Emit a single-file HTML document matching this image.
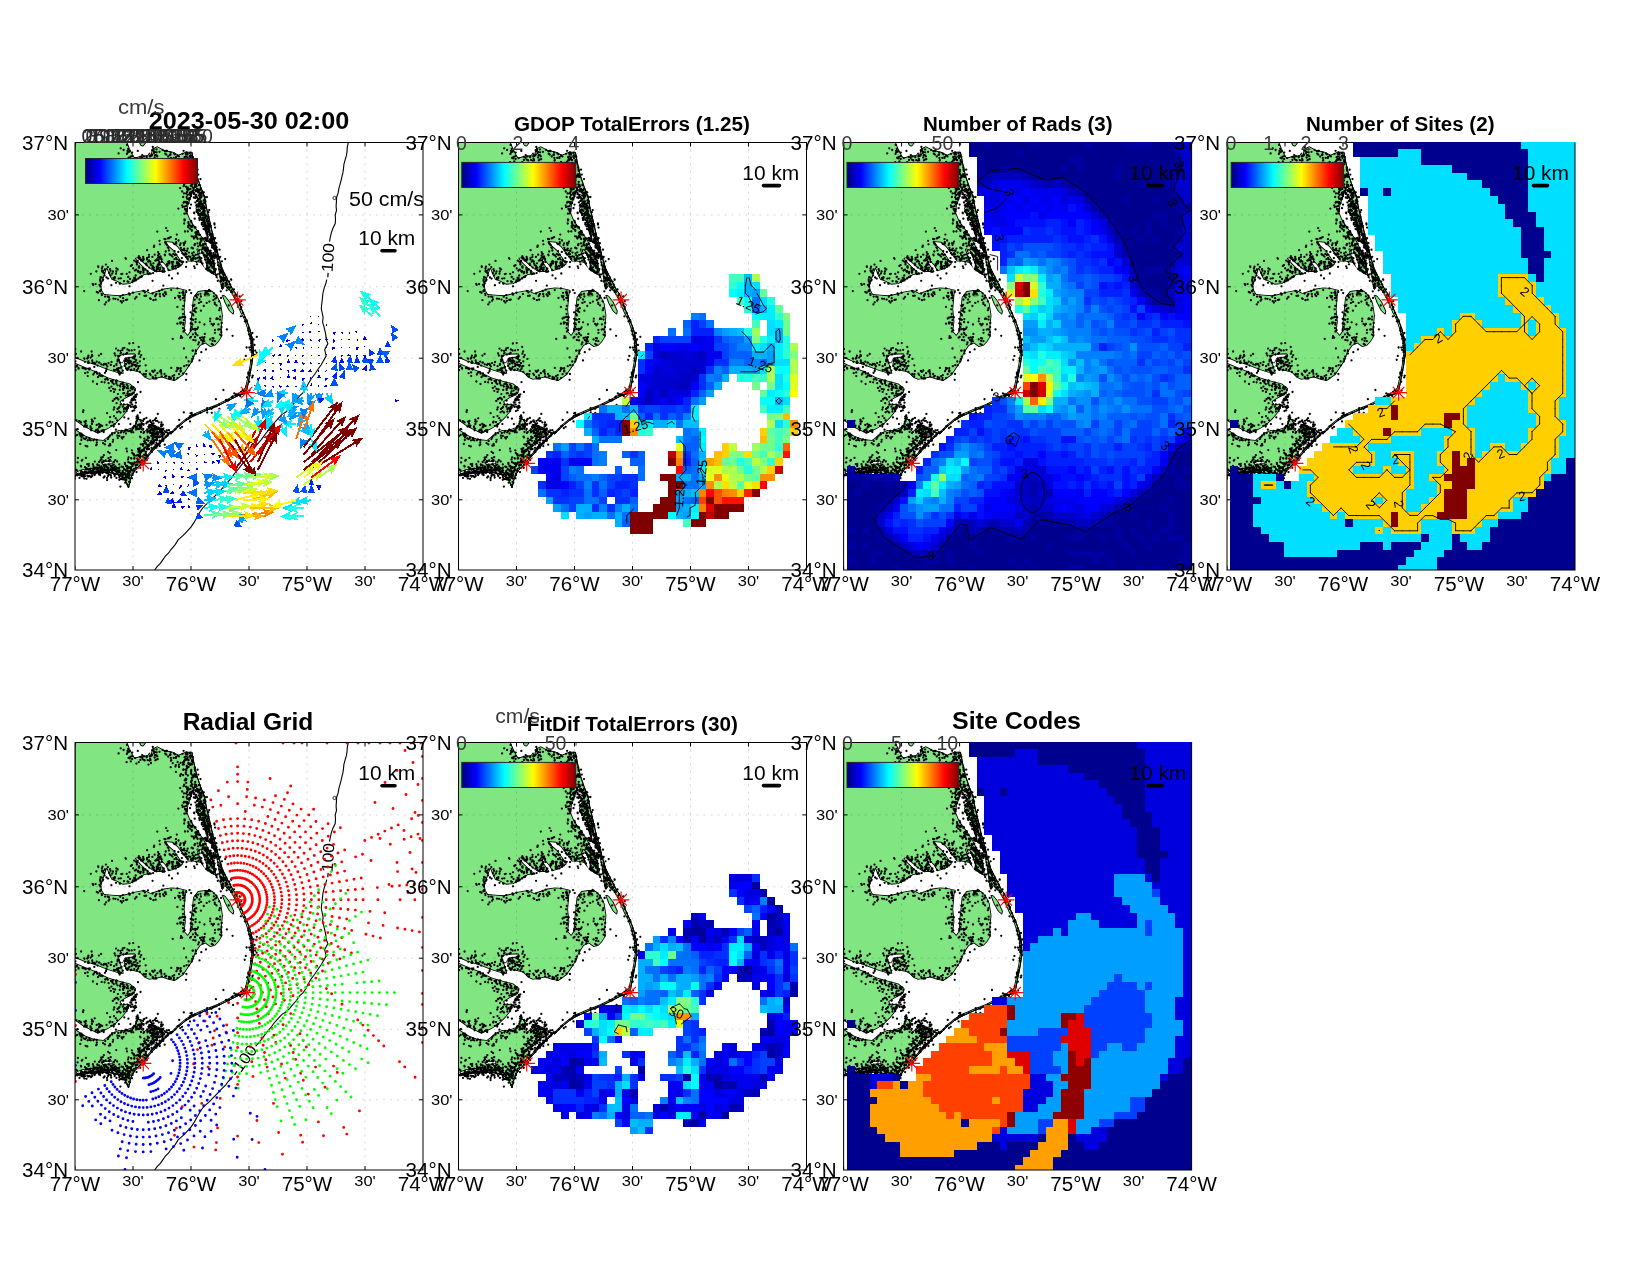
<!DOCTYPE html><html><head><meta charset="utf-8"><title>fig</title>
<style>html,body{margin:0;padding:0;background:#fff}svg{display:block;will-change:transform}text{font-family:"Liberation Sans",sans-serif}</style></head><body>
<svg width="1650" height="1275" viewBox="0 0 1650 1275" font-family="Liberation Sans, sans-serif">
<defs>
<clipPath id="clip"><rect x="0" y="0" width="348.0" height="427.5"/></clipPath>
<linearGradient id="jet" x1="0" x2="1" y1="0" y2="0"><stop offset="0.0000" stop-color="#000080"/><stop offset="0.0625" stop-color="#0000bf"/><stop offset="0.1250" stop-color="#0000ff"/><stop offset="0.1875" stop-color="#0040ff"/><stop offset="0.2500" stop-color="#0080ff"/><stop offset="0.3125" stop-color="#00bfff"/><stop offset="0.3750" stop-color="#00ffff"/><stop offset="0.4375" stop-color="#40ffbf"/><stop offset="0.5000" stop-color="#80ff80"/><stop offset="0.5625" stop-color="#bfff40"/><stop offset="0.6250" stop-color="#ffff00"/><stop offset="0.6875" stop-color="#ffbf00"/><stop offset="0.7500" stop-color="#ff8000"/><stop offset="0.8125" stop-color="#ff4000"/><stop offset="0.8750" stop-color="#ff0000"/><stop offset="0.9375" stop-color="#bf0000"/><stop offset="1.0000" stop-color="#800000"/></linearGradient>
<g id="coast"><path d="M0.0 0.0L51.8 -0.1L54.3 6.0L57.3 12.1L59.7 15.7L65.8 13.9L72.5 13.3L74.6 10.3L75.8 14.5L77.4 6.6L82.2 4.2L88.9 7.8L97.4 9.7L103.5 12.7L110.8 9.7L116.9 9.7L118.7 19.4L121.7 32.8L125.4 43.7L129.6 54.6L131.5 65.6L134.5 77.7L137.5 91.1L140.6 102.1L143.6 114.2L147.3 126.4L153.3 138.5L158.8 148.9L160.0 149.8L163.7 157.7L166.7 166.8L171.6 177.8L175.2 187.5L177.7 198.4L178.4 210.6L176.7 222.7L174.3 234.9L172.2 245.8L171.0 250.7L164.3 252.5L154.6 257.4L142.4 263.5L130.2 268.3L118.1 273.8L110.8 278.1L103.5 284.1L96.2 291.4L96.5 289.3L87.4 298.4L78.3 308.0L69.2 318.0L60.1 328.0L57.0 332.5L55.1 338.4L53.5 345.5L51.5 340.2L48.8 335.2L42.0 331.6L32.9 329.8L23.8 329.6L14.7 330.4L5.6 332.2L-0.0 333.4L0.0 337.0Z" fill="#81e681" stroke="#000" stroke-width="1" stroke-linejoin="round"/><path d="M119.9 44.9L118.1 48.6L116.3 54.6L113.2 63.2L112.6 70.4L115.0 76.5L118.1 81.4L124.2 89.9L129.0 97.2L132.7 104.5L136.3 111.8L138.7 119.1L140.6 126.4L141.2 132.5L145.4 141.0L144.2 132.5L143.0 122.7L140.6 113.0L137.5 103.3L135.1 94.8L132.7 87.5L129.0 82.6L126.6 76.5L121.7 70.4L120.5 65.6L124.2 60.7L125.4 55.9L122.9 48.6ZM31.8 126.4L34.2 132.5L36.6 137.3L41.5 139.1L47.6 142.2L54.9 141.6L62.2 137.3L69.4 132.5L76.7 131.2L81.6 129.4L88.9 129.4L93.8 128.8L101.1 126.4L108.4 121.5L113.2 119.1L118.1 119.1L125.4 120.3L130.2 126.4L136.3 131.2L140.6 133.1L145.4 141.0L147.3 147.7L149.9 143.7L156.0 149.8L160.9 159.5L165.5 170.5L169.4 177.8L173.0 188.7L175.5 199.6L176.4 210.6L174.7 222.7L172.3 234.9L170.1 245.2L163.3 250.5L154.6 255.3L142.4 261.4L130.2 266.3L118.1 271.6L110.8 275.9L103.5 282.0L96.2 289.2L95.1 288.4L86.5 297.0L77.4 306.6L72.0 312.5L69.2 305.7L73.8 303.9L77.4 302.0L80.1 298.4L82.9 294.8L87.4 291.1L91.0 288.4L88.3 286.6L83.8 284.8L78.3 282.0L72.0 281.1L75.6 283.0L73.8 285.7L69.2 288.4L66.5 286.6L67.4 282.0L65.6 276.6L62.0 276.6L59.2 283.9L54.7 285.7L49.2 287.5L43.8 287.5L37.4 290.2L32.9 293.9L28.3 297.5L19.2 296.6L10.1 293.0L-0.0 286.6L-0.0 278.0L8.3 283.9L22.9 291.3L32.9 286.6L40.1 282.0L46.5 275.7L51.0 270.2L54.7 263.9L52.9 261.1L47.4 262.0L45.6 259.3L51.0 255.7L56.5 253.0L62.0 249.3L60.9 268.9L53.6 264.1L56.1 258.0L59.7 251.9L60.9 245.8L54.9 241.0L45.1 238.5L33.0 234.9L20.8 228.8L8.7 224.0L0.1 220.3L0.1 215.4L8.7 219.1L20.8 222.7L33.0 227.6L45.1 231.3L48.8 231.3L46.3 222.7L43.3 215.4L47.6 212.4L59.7 211.8L60.3 213.6L50.0 215.4L48.8 221.5L51.2 227.6L57.3 228.2L64.6 230.0L69.4 234.9L74.3 237.3L81.6 236.1L86.5 234.9L93.8 237.3L99.8 238.5L108.4 232.5L113.2 225.2L118.1 217.9L120.5 210.6L125.4 203.3L130.2 200.9L135.1 204.5L140.0 203.3L143.6 199.6L147.3 193.6L146.7 185.1L147.9 172.9L146.0 160.7L142.4 153.4L137.5 148.6L130.2 147.4L122.9 148.6L118.1 154.7L116.9 166.8L115.6 179.0L115.0 188.7L112.6 192.3L109.6 188.7L110.8 179.0L109.6 166.8L110.8 152.2L112.0 147.4L103.5 145.5L96.2 144.9L88.9 146.1L81.6 148.6L75.5 150.4L69.4 147.4L59.7 149.2L51.2 151.6L45.1 152.8L36.6 152.2L29.3 151.6L26.9 147.4L26.3 142.5ZM91.3 99.6L97.4 100.2L102.3 104.5L107.1 110.6L113.2 119.1L108.4 121.5L103.5 114.2L98.6 107.5L93.8 103.3ZM60.9 116.0L62.8 115.7L70.7 122.7L76.7 127.6L81.6 129.4L76.7 131.2L69.4 125.2L64.6 120.3ZM82.2 116.0L84.0 115.7L90.1 122.7L93.8 128.8L91.3 129.4L87.1 123.3ZM122.3 106.9L125.4 107.5L129.0 114.2L131.5 122.7L130.2 126.4L126.6 119.1ZM2.0 329.8L7.4 327.5L19.2 326.4L28.3 326.1L28.3 328.0L19.2 328.4L7.4 329.8L2.9 331.6ZM27.4 319.8L36.5 318.9L37.0 320.7L27.9 321.6Z" fill="#fff" stroke="#000" stroke-width="1.7" stroke-linejoin="round"/><path d="M119.9 44.9L118.1 48.6L116.3 54.6L113.2 63.2L112.6 70.4L115.0 76.5L118.1 81.4L124.2 89.9L129.0 97.2L132.7 104.5L136.3 111.8L138.7 119.1L140.6 126.4L141.2 132.5L145.4 141.0L144.2 132.5L143.0 122.7L140.6 113.0L137.5 103.3L135.1 94.8L132.7 87.5L129.0 82.6L126.6 76.5L121.7 70.4L120.5 65.6L124.2 60.7L125.4 55.9L122.9 48.6ZM31.8 126.4L34.2 132.5L36.6 137.3L41.5 139.1L47.6 142.2L54.9 141.6L62.2 137.3L69.4 132.5L76.7 131.2L81.6 129.4L88.9 129.4L93.8 128.8L101.1 126.4L108.4 121.5L113.2 119.1L118.1 119.1L125.4 120.3L130.2 126.4L136.3 131.2L140.6 133.1L145.4 141.0L147.3 147.7L149.9 143.7L156.0 149.8L160.9 159.5L165.5 170.5L169.4 177.8L173.0 188.7L175.5 199.6L176.4 210.6L174.7 222.7L172.3 234.9L170.1 245.2L163.3 250.5L154.6 255.3L142.4 261.4L130.2 266.3L118.1 271.6L110.8 275.9L103.5 282.0L96.2 289.2L95.1 288.4L86.5 297.0L77.4 306.6L72.0 312.5L69.2 305.7L73.8 303.9L77.4 302.0L80.1 298.4L82.9 294.8L87.4 291.1L91.0 288.4L88.3 286.6L83.8 284.8L78.3 282.0L72.0 281.1L75.6 283.0L73.8 285.7L69.2 288.4L66.5 286.6L67.4 282.0L65.6 276.6L62.0 276.6L59.2 283.9L54.7 285.7L49.2 287.5L43.8 287.5L37.4 290.2L32.9 293.9L28.3 297.5L19.2 296.6L10.1 293.0L-0.0 286.6L-0.0 278.0L8.3 283.9L22.9 291.3L32.9 286.6L40.1 282.0L46.5 275.7L51.0 270.2L54.7 263.9L52.9 261.1L47.4 262.0L45.6 259.3L51.0 255.7L56.5 253.0L62.0 249.3L60.9 268.9L53.6 264.1L56.1 258.0L59.7 251.9L60.9 245.8L54.9 241.0L45.1 238.5L33.0 234.9L20.8 228.8L8.7 224.0L0.1 220.3L0.1 215.4L8.7 219.1L20.8 222.7L33.0 227.6L45.1 231.3L48.8 231.3L46.3 222.7L43.3 215.4L47.6 212.4L59.7 211.8L60.3 213.6L50.0 215.4L48.8 221.5L51.2 227.6L57.3 228.2L64.6 230.0L69.4 234.9L74.3 237.3L81.6 236.1L86.5 234.9L93.8 237.3L99.8 238.5L108.4 232.5L113.2 225.2L118.1 217.9L120.5 210.6L125.4 203.3L130.2 200.9L135.1 204.5L140.0 203.3L143.6 199.6L147.3 193.6L146.7 185.1L147.9 172.9L146.0 160.7L142.4 153.4L137.5 148.6L130.2 147.4L122.9 148.6L118.1 154.7L116.9 166.8L115.6 179.0L115.0 188.7L112.6 192.3L109.6 188.7L110.8 179.0L109.6 166.8L110.8 152.2L112.0 147.4L103.5 145.5L96.2 144.9L88.9 146.1L81.6 148.6L75.5 150.4L69.4 147.4L59.7 149.2L51.2 151.6L45.1 152.8L36.6 152.2L29.3 151.6L26.9 147.4L26.3 142.5ZM91.3 99.6L97.4 100.2L102.3 104.5L107.1 110.6L113.2 119.1L108.4 121.5L103.5 114.2L98.6 107.5L93.8 103.3ZM60.9 116.0L62.8 115.7L70.7 122.7L76.7 127.6L81.6 129.4L76.7 131.2L69.4 125.2L64.6 120.3ZM82.2 116.0L84.0 115.7L90.1 122.7L93.8 128.8L91.3 129.4L87.1 123.3ZM122.3 106.9L125.4 107.5L129.0 114.2L131.5 122.7L130.2 126.4L126.6 119.1ZM2.0 329.8L7.4 327.5L19.2 326.4L28.3 326.1L28.3 328.0L19.2 328.4L7.4 329.8L2.9 331.6ZM27.4 319.8L36.5 318.9L37.0 320.7L27.9 321.6Z" fill="#fff"/><path d="M147.3 152.8L149.9 153.4L154.6 159.5L158.8 168.6L158.2 171.7L154.6 168.6L150.3 160.7ZM64.6 0.2L70.7 0.2L68.2 3.6L65.8 3.0Z" fill="#81e681" stroke="#000" stroke-width="1" stroke-linejoin="round"/><path d="M129.0 151.3L133.9 151.0L134.5 153.2L129.6 153.4ZM43.3 213.6L48.8 211.8L59.7 211.6L60.3 214.2L50.0 215.4L47.6 220.3L45.1 220.3Z" fill="#fff" stroke="#000" stroke-width="0.8"/><path d="M116.9 9.7L118.7 19.4L121.7 32.8L125.4 43.7L129.6 54.6L131.5 65.6L134.5 77.7L137.5 91.1L140.6 102.1L143.6 114.2L147.3 126.4L153.3 138.5L158.8 148.9L160.0 149.8L163.7 157.7L166.7 166.8L171.6 177.8L175.2 187.5L177.7 198.4L178.4 210.6L176.7 222.7L174.3 234.9L172.2 245.8L171.0 250.7L164.3 252.5L154.6 257.4L142.4 263.5L130.2 268.3L118.1 273.8L110.8 278.1L103.5 284.1L96.2 291.4L96.5 289.3L87.4 298.4L78.3 308.0L69.2 318.0L60.1 328.0L57.0 332.5L55.1 338.4L53.5 345.5L51.5 340.2L48.8 335.2L42.0 331.6L32.9 329.8L23.8 329.6L14.7 330.4L5.6 332.2L-0.0 333.4" fill="none" stroke="#000" stroke-width="1.0" stroke-linejoin="round"/><path d="M137.0 129.9h0M143.2 115.7h0M133.7 120.1h0M139.1 123.3h0M130.2 108.0h0M123.6 60.8h0M119.1 70.2h0M147.4 130.8h0M146.0 124.7h0M123.5 72.5h0M127.1 77.6h0M135.4 113.8h0M134.2 87.8h0M133.6 78.4h0M140.0 127.8h0M142.9 119.9h0M145.2 138.9h0M128.1 71.4h0M135.0 110.4h0M107.2 62.9h0M112.8 88.9h0M134.3 121.2h0M147.2 143.6h0M117.9 45.1h0M114.8 46.7h0M134.8 128.0h0M133.2 115.6h0M115.2 83.1h0M113.9 55.8h0M137.1 96.0h0M125.2 47.3h0M103.4 66.1h0M117.4 84.2h0M119.7 85.2h0M131.9 85.7h0M136.7 119.3h0M122.5 100.9h0M143.1 122.7h0M126.7 62.4h0M112.7 59.8h0M130.6 101.5h0M122.6 96.5h0M129.3 96.1h0M137.4 91.4h0M130.2 75.4h0M132.7 97.9h0M130.7 101.1h0M116.4 51.2h0M113.4 79.7h0M123.8 48.3h0M120.5 85.0h0M123.1 70.3h0M134.5 117.6h0M139.3 103.1h0M129.4 107.2h0M116.2 84.0h0M127.9 64.8h0M135.3 113.9h0M111.1 67.5h0M111.9 49.9h0M136.4 112.9h0M133.7 83.3h0M149.4 135.4h0M112.1 61.4h0M123.3 90.0h0M111.2 68.7h0M109.1 59.3h0M140.3 127.9h0M125.1 100.8h0M117.6 83.0h0M136.9 115.0h0M144.6 131.1h0M126.5 53.4h0M126.5 52.1h0M111.1 50.9h0M111.7 59.5h0M142.0 109.7h0M146.4 138.5h0M110.0 59.3h0M109.5 78.1h0M116.0 78.5h0M127.4 71.8h0M142.3 112.2h0M134.2 119.2h0M113.2 84.7h0M111.3 70.9h0M129.4 60.7h0M139.5 107.0h0M137.2 97.2h0M132.4 115.1h0M134.3 85.3h0M141.7 113.8h0M115.0 65.7h0M116.7 87.3h0M112.7 45.0h0M129.1 112.4h0M113.5 81.1h0M131.5 106.0h0M128.8 105.8h0M129.4 70.4h0M139.5 82.0h0M138.9 106.0h0M127.6 96.0h0M116.8 88.3h0M131.2 89.6h0M121.6 91.9h0M129.0 76.1h0M115.9 50.7h0M112.1 46.4h0M110.0 89.0h0M145.5 122.4h0M142.6 131.9h0M138.6 123.3h0M109.8 77.5h0M128.8 49.8h0M109.4 64.1h0M123.1 88.7h0M138.3 118.1h0M130.7 72.6h0M133.6 86.3h0M133.4 111.2h0M126.3 52.2h0M125.5 59.9h0M127.6 66.2h0M129.1 67.8h0M119.6 94.9h0M137.8 124.7h0M114.9 52.2h0M146.6 129.7h0M113.9 57.1h0M123.8 67.1h0M138.4 120.5h0M137.5 125.0h0M112.8 46.3h0M144.7 124.2h0M144.2 127.1h0M131.5 109.3h0M125.8 50.5h0M132.2 117.1h0M125.5 96.7h0M109.4 76.8h0M112.0 68.6h0M127.8 103.1h0M109.0 50.9h0M108.2 54.5h0M133.2 107.4h0M124.0 108.3h0M149.3 131.8h0M136.5 122.0h0M143.9 114.7h0M140.8 126.7h0M137.5 102.4h0M123.6 64.1h0M147.5 129.1h0M133.3 80.7h0M107.6 64.5h0M148.8 135.8h0M144.2 126.6h0M123.7 67.8h0M136.1 116.1h0M150.2 116.6h0M120.9 48.8h0M146.1 135.3h0M116.0 53.7h0M148.7 133.1h0M121.6 89.4h0M121.8 67.8h0M130.6 106.0h0M147.9 130.0h0M125.3 74.5h0M138.2 102.2h0M139.8 115.6h0M110.1 67.0h0M124.9 68.4h0M139.1 129.9h0M146.6 127.4h0M122.7 115.3h0M145.3 121.0h0M114.8 86.2h0M126.1 98.3h0M128.9 53.2h0M114.9 55.5h0M125.9 96.2h0M146.4 129.9h0M133.3 82.6h0M131.6 107.1h0M110.0 66.5h0M125.1 102.5h0M113.5 60.7h0M139.0 122.0h0M112.0 66.7h0M132.2 83.8h0M108.6 60.2h0M136.9 97.7h0M109.2 81.0h0M124.7 60.6h0M121.6 89.4h0M135.7 129.0h0M115.7 43.2h0M121.5 91.4h0M119.8 84.3h0M112.2 56.3h0M138.6 129.1h0M31.6 282.4h0M133.4 118.5h0M42.6 217.4h0M173.3 231.6h0M27.3 287.8h0M57.2 256.2h0M44.4 213.5h0M41.3 128.9h0M167.8 247.6h0M26.7 151.3h0M31.5 222.4h0M150.1 137.4h0M143.7 186.8h0M153.0 258.2h0M158.1 262.5h0M87.3 288.5h0M116.8 184.6h0M74.1 131.4h0M3.4 225.4h0M90.7 294.3h0M36.0 238.5h0M118.3 172.9h0M64.9 229.6h0M29.9 230.3h0M102.3 225.4h0M103.3 153.3h0M151.9 186.9h0M20.0 229.5h0M35.5 128.3h0M38.7 282.2h0M11.9 283.1h0M39.0 249.4h0M54.4 218.0h0M107.4 150.2h0M106.4 180.1h0M18.8 231.2h0M53.0 248.9h0M78.4 235.9h0M171.6 205.0h0M151.1 257.5h0M42.0 269.8h0M25.3 148.8h0M63.5 136.0h0M37.1 291.0h0M131.9 267.4h0M49.4 205.3h0M51.0 225.9h0M12.9 214.8h0M16.9 281.5h0M139.0 150.8h0M171.1 244.0h0M21.8 149.5h0M78.5 288.9h0M59.8 137.3h0M59.8 247.5h0M56.5 223.7h0M69.9 149.9h0M45.3 244.1h0M121.1 152.6h0M123.9 160.4h0M33.6 240.7h0M53.8 253.0h0M141.4 176.6h0M22.6 289.8h0M8.1 269.5h0M19.5 220.3h0M140.9 256.7h0M64.7 284.2h0M2.5 286.6h0M28.5 222.4h0M109.0 155.4h0M108.3 163.4h0M102.4 164.4h0M123.0 152.2h0M114.5 147.6h0M57.9 245.7h0M49.6 223.4h0M151.2 140.9h0M58.8 254.4h0M177.7 233.2h0M120.9 211.1h0M38.0 128.9h0M21.8 299.8h0M144.3 167.7h0M24.5 230.9h0M115.3 273.7h0M139.8 198.7h0M126.3 197.5h0M39.0 227.5h0M39.6 210.9h0M45.9 290.0h0M65.3 214.6h0M45.8 135.8h0M23.3 124.6h0M60.6 284.4h0M44.7 247.4h0M116.5 116.6h0M12.7 233.6h0M66.0 289.5h0M61.0 254.3h0M48.4 212.0h0M24.4 220.2h0M51.2 266.6h0M81.7 286.2h0M96.2 147.6h0M138.2 129.8h0M117.7 117.5h0M46.0 230.1h0M148.6 137.3h0M9.4 279.1h0M72.3 302.7h0M109.9 174.3h0M42.8 295.6h0M136.6 181.4h0M48.0 246.5h0M109.6 187.7h0M92.2 123.3h0M132.6 124.6h0M37.8 258.4h0M75.6 232.6h0M153.7 162.9h0M74.8 231.2h0M8.8 295.9h0M25.7 139.5h0M45.3 154.2h0M142.8 138.3h0M147.3 145.7h0M176.4 203.2h0M63.0 239.7h0M25.6 134.7h0M145.0 177.1h0M175.8 193.0h0M44.1 229.5h0M37.0 118.4h0M146.1 155.5h0M140.3 156.2h0M63.0 306.5h0M65.9 278.2h0M19.4 296.9h0M134.1 147.4h0M41.5 237.9h0M29.5 132.9h0M13.3 226.1h0M56.2 260.1h0M29.9 301.9h0M127.7 198.5h0M84.2 285.8h0M21.7 282.5h0M143.2 187.1h0M14.2 227.1h0M105.4 157.1h0M57.2 262.1h0M17.7 141.4h0M131.7 160.4h0M46.7 295.0h0M7.5 225.6h0M83.3 301.3h0M41.4 222.4h0M38.8 241.6h0M36.4 283.3h0M50.9 216.5h0M109.1 154.9h0M52.3 227.4h0M69.1 306.9h0M118.2 115.4h0M56.7 207.9h0M68.4 148.4h0M70.4 312.7h0M65.5 283.7h0M65.8 134.6h0M120.6 153.3h0M63.1 226.0h0M119.2 123.8h0M12.6 229.9h0M34.6 280.1h0M45.5 208.3h0M146.3 193.0h0M57.3 257.9h0M68.6 231.7h0M176.1 218.3h0M41.6 260.7h0M104.5 150.3h0M82.2 303.1h0M22.1 231.2h0M55.8 218.9h0M156.8 254.7h0M51.8 245.5h0M30.9 122.1h0M56.3 289.8h0M13.8 220.4h0M51.6 226.3h0M60.8 222.6h0M105.4 181.0h0M154.2 257.3h0M26.4 288.5h0M117.4 182.1h0M122.5 192.8h0M127.8 200.9h0M33.7 294.9h0M72.4 303.7h0M161.6 159.9h0M90.2 234.0h0M12.3 303.9h0M157.0 254.9h0M22.6 223.1h0M31.1 159.8h0M105.0 153.7h0M64.6 209.0h0M42.4 293.2h0M132.2 270.0h0M5.6 293.4h0M56.2 227.2h0M41.2 255.5h0M32.1 270.7h0M125.1 195.5h0M10.1 296.7h0M33.9 154.7h0M26.9 126.0h0M77.3 228.5h0M58.3 289.8h0M159.3 153.3h0M141.0 132.5h0M24.1 284.9h0M139.9 190.3h0M61.9 227.6h0M57.9 215.4h0M45.7 158.7h0M87.1 147.2h0M80.2 284.1h0M54.2 252.8h0M78.9 293.0h0M45.7 225.2h0M169.9 178.8h0M85.1 153.8h0M44.8 243.1h0M61.9 278.4h0M105.5 122.9h0M45.5 270.0h0M38.1 297.3h0M40.4 213.0h0M18.1 279.0h0M156.3 147.8h0M146.5 184.6h0M138.8 264.6h0M45.5 211.1h0M109.4 158.1h0M102.5 226.9h0M59.6 257.1h0M105.8 195.4h0M151.5 141.3h0M50.9 157.4h0M165.9 173.8h0M54.3 251.7h0M11.6 284.6h0M91.0 151.7h0M28.5 130.2h0M127.1 194.8h0M56.6 221.2h0M129.4 182.0h0M108.2 119.3h0M58.0 256.4h0M118.4 197.5h0M145.4 134.2h0M117.0 177.2h0M17.6 220.0h0M72.3 288.7h0M82.2 289.5h0M21.8 301.9h0M16.1 287.8h0M22.0 241.5h0M105.7 225.7h0M15.5 284.0h0M54.3 224.5h0M21.1 302.8h0M86.4 231.3h0M16.9 213.5h0M20.6 141.6h0M41.0 206.1h0M98.7 125.7h0M160.8 252.9h0M98.9 235.5h0M73.0 147.9h0M63.9 286.1h0M147.8 140.8h0M125.9 168.2h0M47.8 152.6h0M80.2 287.1h0M117.5 176.9h0M56.8 251.9h0M55.4 281.6h0M61.9 284.6h0M84.5 127.7h0M52.9 265.5h0M76.2 298.7h0M114.1 222.8h0M2.4 215.6h0M39.5 256.3h0M64.8 223.3h0M130.1 152.0h0M145.8 148.8h0M13.1 220.4h0M116.7 219.0h0M46.7 288.4h0M51.0 211.3h0M-0.8 290.1h0M57.4 139.5h0M63.9 211.2h0M18.3 232.1h0M94.1 236.2h0M104.0 121.3h0M24.0 289.2h0M126.1 159.4h0M30.9 221.4h0M45.3 141.1h0M78.6 293.1h0M-2.0 215.8h0M48.2 250.8h0M75.1 156.0h0M102.5 235.6h0M37.6 240.2h0M75.7 156.4h0M54.1 220.9h0M23.1 150.2h0M97.3 125.5h0M46.3 131.6h0M52.9 264.4h0M4.6 291.1h0M39.6 256.8h0M48.6 242.1h0M117.4 171.3h0M43.4 257.0h0M0.9 211.3h0M58.0 150.3h0M24.0 220.2h0M41.0 131.2h0M79.8 283.8h0M28.1 300.7h0M51.7 265.8h0M175.2 227.7h0M145.0 192.1h0M81.1 275.7h0M47.3 296.1h0M48.6 294.3h0M99.2 232.6h0M80.7 157.2h0M162.7 157.8h0M108.1 171.3h0M52.3 266.0h0M108.9 206.0h0M122.0 121.8h0M76.7 290.4h0M58.2 257.6h0M34.3 245.5h0M30.1 154.1h0M120.9 208.8h0M164.3 252.5h0M139.0 181.5h0M38.7 284.0h0M74.1 306.5h0M13.7 226.4h0M105.3 180.0h0M119.5 162.3h0M65.5 249.5h0M26.7 239.4h0M68.5 282.3h0M28.2 128.4h0M45.7 262.1h0M116.2 150.6h0M144.9 165.7h0M100.6 123.5h0M24.5 142.5h0M129.8 191.4h0M43.8 265.4h0M57.9 150.1h0M53.6 220.4h0M52.6 139.0h0M131.0 206.9h0M59.6 265.6h0M109.8 175.2h0M111.4 231.5h0M23.0 234.7h0M6.5 295.0h0M49.3 274.9h0M-1.0 271.3h0M45.2 230.5h0M27.2 129.0h0M56.2 251.7h0M31.1 228.5h0M43.7 217.7h0M78.9 127.4h0M5.3 301.5h0M21.8 297.4h0M10.6 303.3h0M18.4 297.8h0M59.5 207.3h0M97.6 233.6h0M23.9 157.7h0M32.9 296.6h0M9.3 216.0h0M109.2 223.7h0M86.5 288.2h0M50.0 265.6h0M107.6 166.8h0M145.1 174.2h0M15.8 131.3h0M67.8 301.7h0M133.0 151.4h0M66.2 281.9h0M128.8 112.8h0M63.2 129.5h0M139.8 161.6h0M27.4 233.7h0M170.8 213.4h0M141.1 263.8h0M103.5 121.0h0M21.3 229.4h0M75.8 287.1h0M118.3 177.3h0M49.0 138.7h0M82.9 292.1h0M42.4 242.8h0M37.5 279.6h0M43.1 207.9h0M6.3 297.6h0M35.1 279.2h0M143.4 181.9h0M46.0 210.4h0M122.0 186.5h0M131.2 149.7h0M80.6 297.5h0M69.5 153.3h0M138.4 130.8h0M102.8 131.0h0M169.7 217.3h0M89.8 150.0h0M43.0 157.1h0M174.5 230.1h0M54.1 208.0h0M80.0 236.1h0M42.5 266.5h0M58.1 285.7h0M42.1 255.5h0M41.3 240.9h0M120.9 207.8h0M141.4 153.1h0M49.9 288.4h0M108.1 148.9h0M53.0 262.3h0M31.9 235.9h0M172.1 234.8h0M106.0 175.1h0M61.8 252.0h0M70.6 233.8h0M139.9 187.4h0M13.4 213.2h0M42.6 218.8h0M160.9 156.9h0M120.8 169.6h0M119.8 166.3h0M26.9 135.2h0M96.3 225.4h0M0.5 293.4h0M78.6 293.9h0M46.9 160.1h0M138.9 153.8h0M58.2 200.6h0M59.1 213.9h0M129.3 198.7h0M59.4 216.3h0M137.9 182.9h0M48.9 269.0h0M35.1 301.4h0M173.9 185.6h0M0.7 211.7h0M66.6 318.3h0M58.6 220.0h0M13.8 220.1h0M86.6 290.8h0M153.7 144.6h0M39.6 290.4h0M115.7 186.6h0M117.2 216.4h0M57.4 222.4h0M153.9 146.8h0M130.5 149.7h0M61.3 279.1h0M59.3 226.6h0M120.0 194.5h0M34.4 156.9h0M52.0 287.8h0M113.9 275.8h0M54.0 288.7h0M43.0 228.6h0M107.1 195.2h0M168.8 250.0h0M43.6 225.7h0M174.5 233.3h0M146.3 189.7h0M21.2 287.4h0M61.4 137.2h0M29.8 161.9h0M141.6 134.6h0M118.6 163.6h0M61.2 217.6h0M2.2 292.4h0M41.5 221.3h0M70.3 305.0h0M40.1 247.0h0M30.0 127.0h0M120.6 197.9h0M7.8 293.0h0M35.0 293.2h0M147.2 142.7h0M53.6 263.0h0M176.2 204.9h0M81.4 151.5h0M176.5 209.6h0M108.5 150.4h0M69.4 296.2h0M86.1 229.4h0M24.1 289.4h0M23.8 281.3h0M87.9 286.9h0M78.7 299.5h0M48.7 289.8h0M43.7 136.1h0M90.6 233.9h0M56.9 288.0h0M108.8 269.9h0M12.7 215.8h0M16.9 279.0h0M65.2 313.8h0M144.2 262.0h0M7.0 292.2h0M40.9 238.3h0M54.9 219.5h0M52.2 288.2h0M72.3 313.8h0M59.2 138.6h0M106.0 193.6h0M138.5 196.0h0M89.5 231.4h0M111.1 215.0h0M58.4 284.4h0M49.3 245.3h0M108.2 230.9h0M86.3 288.9h0M88.1 152.0h0M77.4 287.5h0M43.6 228.1h0M28.0 137.3h0M125.5 151.3h0M113.7 219.0h0M87.5 287.4h0M87.3 287.4h0M40.5 156.3h0M47.1 240.8h0M97.4 121.0h0M52.4 207.0h0M108.3 152.6h0M37.0 290.9h0M144.4 266.5h0M63.7 223.9h0M55.0 136.4h0M95.7 235.1h0M83.2 285.2h0M47.8 205.8h0M59.9 135.5h0M46.5 224.4h0M32.4 223.8h0M39.7 281.7h0M36.4 142.7h0M25.1 138.3h0M37.8 299.3h0M33.6 158.2h0M108.1 174.3h0M12.2 216.1h0M97.0 135.9h0M131.7 148.8h0M10.7 226.7h0M60.1 265.4h0M51.0 291.0h0M107.1 284.3h0M0.5 224.5h0M122.0 155.0h0M100.0 155.5h0M81.4 236.0h0M157.6 193.3h0M138.4 157.5h0M57.9 138.0h0M148.1 135.7h0M6.5 292.5h0M85.2 299.2h0M41.4 125.9h0M25.8 147.3h0M26.3 221.9h0M53.5 139.3h0M65.6 277.7h0M135.3 148.3h0M51.7 131.3h0M83.3 125.6h0M53.9 215.5h0M77.6 138.3h0M108.4 189.0h0M68.5 290.6h0M13.4 218.8h0M60.3 263.5h0M146.7 180.5h0M27.0 128.4h0M86.7 233.9h0M97.7 196.4h0M174.0 191.9h0M166.6 250.2h0M168.1 170.5h0M51.1 221.5h0M59.4 263.8h0M52.1 210.5h0M92.6 122.8h0M24.9 148.4h0M124.6 179.8h0M41.7 238.3h0M111.1 124.4h0M20.4 288.7h0M32.8 237.3h0M57.6 245.0h0M8.5 267.8h0M10.4 226.4h0M38.1 246.3h0M166.1 249.5h0M63.3 128.5h0M110.2 174.9h0M165.9 166.6h0M53.3 245.9h0M56.3 244.7h0M19.7 275.8h0M70.1 305.1h0M30.2 298.6h0M170.1 248.0h0M8.5 225.5h0M50.4 287.8h0M9.2 148.6h0M19.3 224.4h0M38.5 136.6h0M15.6 215.1h0M103.5 225.8h0M126.3 118.7h0M6.1 279.9h0M39.7 136.0h0M46.6 131.7h0M15.6 285.0h0M120.4 190.3h0M35.1 274.6h0M0.5 227.7h0M123.0 185.0h0M52.2 264.5h0M132.2 265.6h0M48.9 266.5h0M138.0 264.9h0M80.7 292.0h0M4.8 278.8h0M144.2 158.8h0M17.9 220.5h0M151.8 140.8h0M16.6 209.0h0M121.5 119.3h0M70.7 222.8h0M42.9 251.6h0M8.3 267.9h0M25.0 284.3h0M33.9 303.2h0M138.1 202.3h0M1.4 277.8h0M151.7 147.8h0M66.9 133.6h0M58.2 215.0h0M126.3 209.7h0M141.8 175.8h0M56.0 264.4h0M31.4 226.2h0M120.0 186.3h0M128.6 195.1h0M0.4 218.9h0M65.5 294.9h0M129.4 194.6h0M32.7 154.2h0M119.8 157.2h0M63.7 204.5h0M40.9 287.2h0M116.0 194.4h0M64.8 218.9h0M43.3 290.5h0M33.5 220.6h0M104.2 277.4h0M113.9 275.5h0M60.4 263.3h0M103.9 154.6h0M86.3 298.6h0M118.6 168.2h0M53.3 226.2h0M79.1 286.0h0M35.3 302.8h0M66.3 281.7h0M60.3 283.4h0M35.6 132.9h0M54.0 151.0h0M80.9 152.4h0M80.4 235.9h0M59.5 215.0h0M82.5 303.1h0M61.1 264.7h0M133.5 127.0h0M137.5 198.3h0M124.5 114.3h0M23.2 123.9h0M118.1 208.1h0M136.8 201.4h0M37.1 292.1h0M54.5 219.9h0M1.9 223.4h0M44.5 264.5h0M6.1 209.0h0M38.5 156.2h0M124.5 217.9h0M107.6 174.5h0M111.9 108.5h0M14.5 297.4h0M145.3 187.0h0M17.3 213.5h0M57.2 251.2h0M68.2 125.4h0M120.0 272.0h0M39.0 273.6h0M111.6 222.7h0M20.3 221.5h0M60.8 137.9h0M128.8 163.5h0M47.7 241.6h0M51.5 216.9h0M60.4 253.1h0M10.6 280.9h0M53.1 134.5h0M65.1 270.1h0M41.0 140.3h0M53.3 134.4h0M3.6 226.2h0M135.1 178.8h0M27.7 138.0h0M51.6 268.5h0M48.1 155.7h0M132.0 120.5h0M137.5 195.7h0M177.4 207.8h0M82.7 126.6h0M145.9 134.3h0M77.1 293.5h0M58.2 264.3h0M77.5 299.5h0M97.1 124.2h0M62.5 220.7h0M117.9 171.9h0M56.1 245.6h0M132.2 123.0h0M79.3 304.7h0M52.4 251.0h0M118.1 214.1h0M11.4 295.4h0M9.5 216.3h0M52.8 219.4h0M46.0 241.3h0M76.3 293.5h0M28.7 289.5h0M31.5 135.0h0M141.6 155.1h0M34.3 130.5h0M78.2 229.4h0M109.3 152.8h0M70.7 300.3h0M26.1 211.5h0M175.9 215.9h0M50.0 218.6h0M55.3 260.0h0M115.7 180.9h0M64.4 151.6h0M34.6 279.7h0M83.9 286.2h0M55.9 227.7h0M108.4 150.9h0M23.9 213.1h0M48.2 247.4h0M78.2 286.4h0M94.3 120.2h0M148.3 142.2h0M59.2 267.8h0M90.6 149.8h0M40.7 275.7h0M79.6 288.7h0M69.0 298.8h0M33.1 136.1h0M115.0 195.2h0M177.9 208.8h0M27.5 124.2h0M80.7 284.2h0M49.2 250.7h0M32.8 124.6h0M25.4 144.0h0M107.9 231.2h0M78.4 157.7h0M119.5 168.5h0M91.1 294.1h0M42.7 126.9h0M118.0 191.9h0M48.4 158.3h0M80.5 232.9h0M83.0 291.0h0M77.6 151.1h0M74.3 288.5h0M131.6 120.2h0M67.7 307.3h0M37.3 131.0h0M148.1 135.2h0M86.4 279.9h0M45.0 220.2h0M48.1 258.2h0M60.3 252.6h0M148.6 138.3h0M115.7 188.0h0M61.4 285.4h0M41.0 227.4h0M29.2 221.4h0M42.1 277.8h0M91.2 233.4h0M51.5 306.2h0M9.9 219.3h0M132.8 127.9h0M29.2 130.6h0M111.1 237.3h0M44.7 141.2h0M59.3 222.6h0M123.9 200.0h0M64.8 229.5h0M71.2 153.2h0M148.4 247.5h0M132.8 148.8h0M70.9 231.6h0M52.0 226.0h0M66.4 134.4h0M94.0 234.4h0M8.9 225.8h0M44.3 293.4h0M116.9 180.9h0M102.3 122.9h0M24.3 284.0h0M14.4 295.9h0M51.1 218.2h0M100.4 286.8h0M117.9 186.7h0M29.6 239.8h0M63.9 286.7h0M7.3 293.0h0M39.3 264.9h0M14.8 225.9h0M17.9 239.0h0M36.5 219.5h0M4.7 291.9h0M53.0 253.2h0M55.1 248.1h0M107.8 155.6h0M104.1 231.7h0M48.1 243.9h0M104.9 175.2h0M77.7 234.4h0M60.2 257.4h0M174.3 205.1h0M77.2 291.9h0M39.1 223.7h0M121.0 191.6h0M78.1 290.9h0M17.0 212.5h0M71.3 228.4h0M44.7 232.1h0M22.7 286.9h0M52.2 157.1h0M81.3 290.7h0M9.0 284.1h0M89.2 153.5h0M98.4 124.0h0M54.6 152.2h0M61.4 154.6h0M64.4 282.1h0M64.3 306.2h0M161.5 251.9h0M64.3 308.5h0M58.5 244.9h0M105.6 227.8h0M62.8 282.6h0M120.2 187.6h0M61.6 223.0h0M48.9 261.9h0M117.6 208.2h0M171.6 245.1h0M26.9 152.5h0M62.8 128.7h0M50.9 287.2h0M105.5 229.1h0M24.2 233.1h0M84.9 289.8h0M128.7 198.6h0M68.7 231.3h0M38.5 135.4h0M52.8 243.6h0M101.4 228.7h0M123.2 201.8h0M103.2 120.5h0M55.1 262.9h0M104.1 176.1h0M10.9 278.5h0M50.8 265.9h0M92.5 290.3h0M60.6 219.0h0M81.2 302.6h0M76.6 302.0h0M102.4 145.8h0M108.5 180.6h0M84.5 289.3h0M117.7 163.1h0M120.7 176.6h0M56.4 257.7h0M59.1 256.5h0M61.0 287.0h0M108.4 152.3h0M98.7 237.4h0M60.9 260.2h0M47.3 131.3h0M95.8 236.0h0M51.7 242.2h0M84.2 148.5h0M43.2 213.5h0M0.3 206.6h0M35.8 222.4h0M131.4 151.2h0M156.2 149.7h0M141.5 162.9h0M82.4 230.7h0M39.9 134.7h0M84.8 228.9h0M108.0 185.7h0M47.8 228.1h0M65.0 294.1h0M30.2 237.0h0M16.8 277.1h0M79.7 228.0h0M111.2 149.4h0M125.9 154.0h0M49.7 244.1h0M79.6 294.6h0M60.9 224.0h0M175.3 196.3h0M65.5 130.0h0M10.6 283.8h0M77.3 293.5h0M84.7 151.5h0M55.9 287.9h0M43.9 281.6h0M4.2 278.6h0M81.3 235.7h0M135.3 176.2h0M61.5 154.4h0M121.3 165.7h0M38.0 237.6h0M139.7 160.1h0M27.1 283.4h0M72.5 130.6h0M108.4 182.2h0M60.7 133.0h0M36.4 244.1h0M45.7 254.5h0M85.9 227.7h0M54.5 143.8h0M104.3 154.9h0M15.8 297.8h0M173.2 187.9h0M105.9 228.4h0M79.2 305.0h0M37.7 238.0h0M25.7 233.3h0M178.0 213.1h0M115.5 169.8h0M64.2 282.2h0M35.8 248.3h0M54.5 129.8h0M43.9 230.6h0M42.4 226.9h0M37.4 239.2h0M41.5 239.5h0M142.8 176.3h0M18.2 142.4h0M135.1 196.9h0M42.2 226.2h0M146.8 144.1h0M80.8 235.5h0M10.0 283.0h0M6.3 291.2h0M47.9 240.1h0M93.3 291.1h0M69.2 315.1h0M69.1 289.7h0M124.5 157.0h0M111.8 114.4h0M55.2 288.1h0M26.1 141.1h0M60.1 156.2h0M68.9 216.4h0M58.5 250.1h0M128.6 196.7h0M25.1 136.9h0M71.6 297.4h0M35.1 126.7h0M47.8 264.2h0M54.4 201.0h0M-3.1 276.6h0M173.3 230.1h0M60.2 222.4h0M38.7 267.1h0M103.9 283.3h0M23.0 288.3h0M174.5 248.1h0M16.6 286.1h0M134.4 159.1h0M28.7 287.7h0M59.8 254.6h0M157.4 149.6h0M25.5 282.3h0M68.9 232.0h0M146.9 142.7h0M81.7 117.9h0M10.1 230.7h0M43.9 268.8h0M102.5 283.9h0M62.1 286.5h0M12.6 297.8h0M50.8 253.1h0M57.8 286.1h0M47.4 207.6h0M66.2 212.6h0M53.2 217.9h0M157.6 253.8h0M21.7 219.2h0M102.4 181.2h0M134.7 148.3h0M21.4 128.9h0M115.7 176.3h0M120.5 179.5h0M59.9 213.8h0M17.2 218.0h0M108.9 177.7h0M56.8 307.8h0M80.2 153.7h0M57.3 246.8h0M108.5 112.0h0M105.0 102.6h0M108.5 100.6h0M99.5 116.7h0M94.2 95.5h0M111.0 114.2h0M100.9 96.7h0M110.4 99.1h0M106.9 115.6h0M94.6 111.7h0M101.9 120.7h0M91.1 85.6h0M89.5 96.5h0M105.8 105.3h0M113.8 113.9h0M95.7 94.6h0M110.1 111.7h0M92.8 104.8h0M111.6 119.6h0M79.2 103.5h0M105.6 100.9h0M101.8 92.1h0M90.7 109.0h0M82.3 89.1h0M90.2 99.7h0M109.7 100.7h0M109.2 106.1h0M84.9 101.8h0M104.4 118.5h0M101.2 99.7h0M103.5 98.0h0M90.0 112.8h0M99.9 112.6h0M93.1 95.9h0M115.4 114.6h0M101.3 112.1h0M111.3 108.2h0M101.2 101.1h0M98.4 111.4h0M103.6 124.3h0M96.5 112.9h0M90.5 99.7h0M106.2 108.1h0M93.9 108.0h0M115.2 114.3h0M108.9 102.5h0M106.8 119.7h0M118.8 109.8h0M106.3 107.4h0M84.5 98.3h0M107.8 107.5h0M114.0 110.1h0M112.7 106.1h0M118.0 105.9h0M112.8 116.4h0M90.6 101.0h0M106.5 119.0h0M111.4 111.7h0M102.2 119.6h0M98.8 101.1h0M101.2 115.3h0M101.9 116.9h0M97.5 114.1h0M103.6 122.8h0M107.3 110.7h0M98.2 119.4h0M104.1 117.7h0M100.8 125.9h0M117.8 112.8h0M90.5 96.7h0M103.3 109.4h0M99.6 108.6h0M99.7 101.7h0M91.9 102.4h0M93.4 105.6h0M92.5 88.3h0M94.9 112.2h0M110.5 110.7h0M68.3 115.8h0M67.8 125.6h0M68.5 128.4h0M62.7 118.3h0M63.5 129.0h0M74.0 112.3h0M72.0 115.5h0M63.8 114.0h0M57.0 122.7h0M72.1 107.7h0M63.7 124.5h0M64.0 113.8h0M70.3 127.0h0M64.1 125.2h0M55.8 123.5h0M72.0 116.9h0M58.2 125.8h0M66.1 117.1h0M59.9 128.0h0M74.1 117.9h0M72.4 128.4h0M68.4 130.2h0M66.7 117.7h0M77.4 125.7h0M78.1 130.6h0M63.9 116.0h0M59.2 118.1h0M71.7 122.7h0M87.5 128.4h0M78.9 125.2h0M50.5 115.6h0M65.8 129.3h0M75.7 131.2h0M61.9 122.0h0M73.2 131.6h0M68.5 117.2h0M68.1 127.5h0M79.7 128.3h0M65.3 130.8h0M67.8 118.3h0M68.1 114.4h0M61.9 119.5h0M61.3 127.1h0M62.0 120.4h0M76.3 122.7h0M64.8 115.5h0M85.0 127.2h0M81.7 124.1h0M77.7 123.7h0M66.1 117.9h0M75.6 121.3h0M71.2 121.1h0M59.1 135.4h0M81.3 128.8h0M65.2 134.7h0M77.4 114.4h0M87.6 127.8h0M60.8 119.1h0M74.2 125.1h0M78.4 120.8h0M81.7 126.8h0M73.2 119.2h0M68.7 116.8h0M50.9 116.3h0M64.0 124.0h0M83.1 109.6h0M82.9 122.1h0M87.7 129.3h0M94.0 132.9h0M84.6 119.7h0M93.3 119.2h0M75.4 119.2h0M83.8 117.5h0M88.4 126.0h0M89.8 112.2h0M83.8 120.8h0M83.8 122.2h0M83.1 113.1h0M82.8 124.4h0M81.1 117.6h0M86.9 119.4h0M84.2 111.4h0M79.2 103.2h0M83.1 122.6h0M83.1 115.1h0M97.6 122.3h0M94.4 120.2h0M91.9 122.0h0M89.3 129.2h0M81.5 127.6h0M84.5 122.1h0M83.7 111.3h0M81.8 124.9h0M73.9 114.6h0M96.9 119.3h0M94.4 118.7h0M86.6 117.1h0M82.5 123.7h0M92.5 121.1h0M88.8 126.1h0M93.5 127.5h0M84.4 115.0h0M79.7 112.2h0M80.3 118.1h0M103.3 123.6h0M78.9 104.4h0M85.4 125.2h0M94.3 121.1h0M88.3 143.2h0M85.5 114.0h0M86.3 115.9h0M131.8 109.0h0M128.3 110.9h0M119.6 102.1h0M122.7 111.9h0M137.4 125.2h0M119.0 113.9h0M109.2 107.9h0M120.0 101.4h0M118.1 116.5h0M127.3 109.9h0M134.8 118.0h0M127.5 121.0h0M120.7 112.3h0M132.1 112.9h0M120.7 116.0h0M135.8 128.4h0M125.8 119.3h0M126.9 110.3h0M134.0 111.3h0M130.6 108.4h0M126.4 115.6h0M134.2 108.3h0M124.6 110.8h0M116.6 118.1h0M130.0 117.1h0M134.4 124.9h0M130.7 112.8h0M120.1 116.1h0M116.1 116.8h0M123.2 103.8h0M131.9 114.4h0M131.3 126.7h0M119.8 125.6h0M119.6 102.7h0M132.4 118.8h0M133.7 111.5h0M124.4 115.0h0M129.7 114.5h0M135.0 118.2h0M117.5 117.4h0M118.9 96.0h0M132.8 115.3h0M117.0 110.8h0M116.7 105.2h0M20.0 330.5h0M15.6 326.1h0M17.0 329.1h0M24.1 322.9h0M2.6 319.9h0M6.1 324.1h0M22.3 322.0h0M37.3 325.2h0M21.5 324.8h0M9.6 329.1h0M2.9 315.4h0M29.5 326.8h0M27.0 320.1h0M25.0 325.5h0M3.9 331.4h0M6.8 318.2h0M11.9 326.5h0M22.7 322.7h0M18.4 323.7h0M30.7 317.8h0M1.0 327.1h0M1.9 327.8h0M34.4 318.9h0M13.7 321.5h0M11.2 325.6h0M7.3 317.4h0M13.7 323.5h0M12.2 321.7h0M3.6 331.5h0M17.9 321.7h0M29.6 324.9h0M5.9 323.3h0M10.0 324.7h0M31.3 327.1h0M18.2 325.8h0M20.6 329.5h0M24.7 325.0h0M26.3 324.0h0M14.3 326.7h0M10.9 315.4h0M15.2 329.5h0M28.9 322.9h0M2.4 331.6h0M17.7 329.9h0M41.3 307.6h0M34.6 310.6h0M34.4 321.9h0M35.7 314.7h0M33.1 309.3h0M28.8 312.7h0M29.4 327.4h0M25.5 317.9h0M35.0 317.3h0M33.8 327.7h0M44.3 321.9h0M40.3 317.7h0M33.7 318.3h0M42.2 319.0h0M34.2 328.6h0M26.1 315.1h0M41.3 326.7h0M25.8 326.0h0M24.1 319.5h0M27.7 314.7h0M35.7 327.7h0M31.1 323.2h0M28.4 319.5h0M33.4 315.7h0M39.0 319.4h0M37.4 322.9h0M33.6 321.9h0M19.8 319.1h0M35.7 326.6h0M26.5 316.8h0M35.8 323.6h0M28.5 318.4h0M28.5 327.9h0M171.9 179.0h0M26.8 329.8h0M136.8 270.3h0M132.8 76.1h0M75.9 308.8h0M2.6 331.9h0M41.9 330.5h0M169.2 174.6h0M10.7 330.8h0M122.6 27.2h0M65.3 325.3h0M127.3 49.2h0M162.4 157.6h0M145.1 129.5h0M166.0 164.3h0M134.2 67.6h0M130.0 54.6h0M140.1 95.7h0M176.4 196.1h0M54.8 339.9h0M173.8 188.8h0M117.0 272.4h0M52.6 342.3h0M66.1 319.3h0M177.2 234.9h0M69.0 312.3h0M115.2 273.7h0M111.1 277.5h0M115.0 278.9h0M116.7 270.5h0M145.2 114.3h0M177.4 190.5h0M115.9 13.0h0M87.2 296.7h0M129.2 60.1h0M16.4 331.1h0M156.2 137.3h0M70.8 315.9h0M180.2 208.2h0M178.6 197.0h0M146.3 126.9h0M25.3 330.3h0M125.6 46.2h0M117.1 18.9h0M168.9 248.8h0M123.3 32.1h0M177.5 205.2h0M150.0 137.1h0M137.3 99.5h0M119.1 272.7h0M93.9 287.7h0M136.5 266.3h0M164.7 162.6h0M15.4 330.0h0M171.5 177.7h0M71.6 317.7h0M76.8 309.5h0M119.9 31.9h0M139.4 81.0h0M179.5 202.5h0M63.4 320.6h0M152.6 142.2h0M4.5 335.4h0M134.1 83.9h0M123.8 42.7h0M133.3 69.7h0M174.2 239.2h0M145.9 124.7h0M176.9 198.5h0M121.3 34.4h0M35.9 333.0h0M119.7 25.0h0M57.5 331.1h0M159.6 154.5h0M140.5 109.2h0M176.2 200.7h0M81.4 305.2h0M97.3 289.4h0M166.3 158.7h0M181.6 210.2h0M123.6 47.5h0M95.4 290.2h0M164.7 153.9h0M170.6 250.3h0M154.2 139.1h0M139.4 104.2h0M113.7 17.6h0M156.1 136.9h0M131.9 54.6h0M135.4 83.2h0M87.1 298.2h0M156.3 149.1h0M125.5 270.3h0M135.1 265.7h0M161.0 251.9h0M31.6 328.1h0M130.5 58.9h0M134.4 88.2h0M57.6 332.6h0M120.1 28.3h0M165.3 253.5h0M119.0 33.6h0M29.9 327.6h0M64.4 319.3h0M159.3 250.9h0M166.3 164.7h0M172.7 250.2h0M19.6 326.9h0M155.2 142.1h0M125.4 54.4h0M36.2 335.0h0M160.6 151.8h0M115.6 270.8h0M162.7 252.5h0M175.2 193.6h0M175.2 207.4h0M117.7 273.2h0M67.9 322.1h0M24.5 328.9h0M125.5 36.6h0M15.9 329.3h0M151.8 138.5h0M95.8 290.8h0M119.9 26.8h0M151.1 142.3h0M61.0 325.3h0M176.5 194.7h0M181.8 194.3h0M159.0 146.9h0M10.9 329.7h0M46.8 330.8h0M117.0 17.7h0M145.9 128.1h0M50.2 340.2h0M133.7 81.4h0M55.4 329.2h0M134.7 89.8h0M119.2 33.8h0M128.9 58.1h0M76.6 307.6h0M135.4 83.5h0M177.2 210.1h0M105.3 285.6h0M179.6 212.3h0M18.1 329.0h0M129.4 65.3h0M85.0 300.9h0M45.7 5.8h0M91.3 8.5h0M72.6 17.6h0M82.3 13.9h0M75.1 16.2h0M91.3 12.1h0M95.8 15.4h0M48.6 7.5h0M82.7 16.7h0M74.4 18.1h0M71.7 14.8h0M76.7 13.1h0M52.1 2.4h0M79.6 15.0h0M84.5 9.3h0M96.3 17.7h0M87.6 7.4h0M100.9 15.4h0M57.1 16.5h0M69.0 13.9h0M102.6 13.2h0M78.5 8.5h0M55.8 18.9h0M78.6 6.6h0M81.4 17.1h0M77.3 12.1h0M77.8 7.3h0M54.5 8.6h0M115.0 10.8h0M91.9 8.5h0M43.6 10.9h0M61.4 21.1h0M81.6 12.9h0M74.7 13.7h0M55.7 14.1h0M69.0 17.3h0M89.7 8.6h0M81.5 6.9h0M81.6 9.8h0M81.0 12.7h0M72.3 -1.0h0M53.6 15.4h0M54.8 15.9h0M95.7 10.2h0M103.9 13.9h0M76.0 20.5h0M96.0 18.2h0M73.5 22.1h0M108.6 8.3h0M75.4 17.3h0M80.1 12.7h0M62.8 8.4h0M65.4 17.5h0M102.6 13.1h0M53.2 6.5h0M53.9 15.1h0M110.7 17.7h0M99.9 11.8h0M98.7 15.4h0M67.2 12.6h0M90.2 11.2h0M52.5 8.3h0M54.1 9.2h0M95.5 12.3h0M68.2 17.1h0M79.1 10.4h0M80.3 17.8h0M75.5 17.7h0M57.2 10.1h0M51.9 11.4h0M108.9 19.6h0M99.0 11.0h0M63.7 19.7h0M60.1 15.6h0M77.2 7.7h0M52.6 10.0h0M69.7 17.9h0M67.0 15.3h0M51.6 19.7h0M71.7 13.8h0M77.8 4.5h0M115.2 10.3h0M79.9 9.6h0M57.4 13.4h0M93.2 14.0h0M65.2 14.3h0M101.0 14.6h0M94.9 12.3h0M137.9 96.5h0M123.7 71.3h0M138.8 113.9h0M124.6 76.6h0M125.3 76.6h0M135.0 92.7h0M130.6 95.5h0M120.8 52.9h0M137.3 104.6h0M126.8 80.5h0M123.7 53.0h0M128.2 75.2h0M138.5 110.7h0M128.6 79.5h0M132.3 98.4h0M136.2 92.9h0M134.2 99.0h0M126.8 82.0h0M122.6 58.4h0M130.6 82.4h0M142.0 113.7h0M131.2 86.6h0M135.8 100.2h0M133.4 84.0h0M135.1 99.0h0M121.3 63.2h0M131.4 98.3h0M122.7 46.6h0M132.3 92.4h0M132.4 93.6h0M124.9 59.2h0M130.1 81.9h0M131.2 105.9h0M121.8 62.1h0M123.1 67.2h0M129.5 73.2h0M120.6 47.6h0M120.0 43.9h0M134.6 92.1h0M134.6 111.1h0M138.7 118.1h0M135.0 96.8h0M118.8 55.0h0M114.9 50.2h0M135.0 99.6h0M130.3 86.4h0M134.2 83.6h0M133.8 86.8h0M122.7 47.1h0M132.2 89.3h0M137.1 105.1h0M144.5 107.2h0M125.2 50.7h0M128.4 66.4h0M116.4 49.4h0M126.8 77.3h0M124.9 55.7h0M138.6 105.7h0M127.0 66.3h0M132.4 86.8h0M120.4 59.9h0M130.6 74.3h0M132.0 96.8h0M140.3 114.2h0M139.0 100.9h0M128.6 86.6h0M138.6 97.2h0M138.6 112.4h0M120.2 55.5h0M134.3 84.2h0M123.0 49.9h0M141.6 104.9h0M130.2 83.2h0M124.2 75.6h0M121.2 52.4h0M116.0 62.1h0M127.1 70.2h0M130.0 105.0h0M127.1 63.9h0M143.0 116.4h0M118.9 50.3h0M136.3 96.3h0M126.6 72.1h0M118.5 48.1h0M125.9 64.4h0M129.7 82.1h0M132.1 73.8h0M137.6 112.9h0M128.6 78.2h0M129.4 81.9h0M118.9 51.5h0M136.3 97.7h0M139.6 121.1h0M124.8 60.9h0M133.9 81.4h0M138.4 100.2h0M126.6 61.4h0M130.7 65.3h0M132.6 105.5h0M132.6 89.4h0M130.1 84.6h0M135.2 108.5h0M131.1 87.4h0M126.7 62.6h0M121.6 54.3h0M138.9 100.3h0M128.1 83.8h0M130.5 87.9h0M132.2 91.1h0M140.3 104.1h0M131.8 86.7h0M131.5 91.2h0M132.3 91.4h0M135.7 108.3h0M128.7 63.6h0M127.8 71.0h0M125.3 71.3h0M119.3 51.5h0M134.6 99.7h0M123.8 57.0h0M131.0 73.7h0M122.0 58.3h0M127.6 70.9h0M131.1 84.1h0M132.7 94.1h0M126.0 54.8h0M126.9 81.4h0M122.3 55.1h0M120.6 54.6h0M141.7 109.6h0M121.5 44.0h0M141.4 100.7h0M138.3 115.2h0M124.5 59.8h0M134.4 89.4h0M129.1 79.1h0M125.3 54.3h0M122.8 56.5h0M136.6 100.9h0M132.7 96.0h0M124.4 63.9h0M127.3 72.7h0M132.6 81.1h0M122.7 48.9h0M123.8 49.2h0M139.1 97.0h0M138.3 101.6h0M136.2 110.7h0M135.8 100.4h0M125.6 59.9h0M124.9 51.1h0M126.5 60.9h0M139.9 112.5h0M117.4 49.0h0M136.9 103.6h0M131.8 73.9h0M137.9 102.9h0M140.9 107.6h0M124.2 64.1h0M130.6 97.9h0M144.8 115.0h0M47.5 333.4h0M75.3 289.1h0M81.3 300.1h0M57.4 268.6h0M78.6 280.8h0M47.4 330.4h0M68.2 286.5h0M72.3 279.5h0M78.7 295.1h0M67.5 313.8h0M65.2 315.2h0M75.4 300.4h0M64.2 312.8h0M76.5 305.3h0M64.9 310.9h0M59.2 326.3h0M84.8 303.6h0M59.1 283.4h0M79.1 298.0h0M57.1 322.1h0M80.5 303.3h0M61.4 322.0h0M86.3 287.2h0M59.4 321.1h0M64.3 309.3h0M68.6 276.9h0M61.6 274.1h0M66.1 320.0h0M46.7 324.1h0M80.9 278.3h0M54.2 332.3h0M61.6 320.4h0M41.7 325.5h0M87.4 293.0h0M78.0 294.0h0M75.7 279.3h0M52.2 334.1h0M48.1 331.5h0M72.7 313.2h0M64.5 305.9h0M81.9 296.1h0M72.6 305.6h0M71.4 275.4h0M64.4 282.0h0M52.5 327.6h0M73.8 302.2h0M53.0 334.7h0M79.8 277.2h0M84.5 298.3h0M85.0 288.3h0M63.8 313.7h0M82.0 297.6h0M52.1 325.6h0M66.2 284.8h0M65.8 301.8h0M54.4 330.1h0M59.1 313.0h0M66.9 317.9h0M77.3 282.4h0M45.9 336.6h0M71.0 309.3h0M66.4 307.9h0M69.7 298.7h0M75.2 277.9h0M59.4 315.5h0M75.1 290.6h0M87.3 283.0h0M63.1 312.5h0M50.0 320.7h0M44.3 333.5h0M77.6 286.1h0M54.5 331.9h0M53.2 329.8h0M80.0 290.8h0M65.0 312.6h0M64.8 308.3h0M73.0 295.8h0M53.6 324.7h0M50.0 335.9h0M55.5 325.0h0M53.4 276.2h0M65.6 320.2h0M56.1 324.7h0M71.3 280.8h0M89.2 291.7h0M51.0 323.5h0M66.5 284.6h0M75.7 279.5h0M55.3 328.1h0M54.9 320.3h0M69.3 276.4h0M82.8 271.4h0M62.1 312.8h0M51.9 323.4h0M53.0 317.0h0M67.8 308.5h0M62.2 316.1h0M69.5 305.7h0M73.8 303.7h0M62.6 272.8h0M86.4 287.1h0M87.0 290.3h0M83.0 291.6h0M57.3 310.5h0M56.2 326.2h0M56.9 335.7h0M47.4 335.4h0M72.5 289.9h0M60.7 323.1h0M49.9 321.6h0M66.1 283.3h0M82.2 278.3h0M63.6 307.9h0M63.4 319.9h0M65.3 319.7h0M78.3 288.9h0M68.7 281.6h0M72.7 306.9h0M52.6 332.2h0M58.6 312.2h0M57.9 321.9h0M49.2 326.5h0M72.0 306.9h0M51.0 328.3h0M53.9 325.6h0M82.2 294.0h0M86.1 282.2h0M54.7 328.8h0M78.2 305.8h0M78.6 300.8h0M66.8 280.7h0M48.0 332.5h0M75.3 284.1h0M45.4 344.1h0M83.8 279.8h0M54.1 325.3h0M80.9 294.4h0M48.3 330.3h0M59.8 320.3h0M53.6 314.8h0M81.8 287.0h0M65.7 285.8h0M58.9 311.7h0M72.6 294.1h0M72.0 306.4h0M91.8 288.0h0M61.8 319.4h0M82.9 294.9h0M75.4 283.7h0M67.9 314.1h0M73.4 298.3h0M66.0 310.0h0M83.1 286.6h0M92.7 293.0h0M59.5 320.0h0M79.1 292.4h0M78.0 278.3h0M84.7 294.7h0M77.2 299.5h0M52.7 330.9h0M50.9 327.7h0M89.7 302.2h0M49.2 337.2h0M63.2 275.0h0M86.0 293.9h0M74.2 295.1h0M86.9 291.2h0M85.0 287.2h0M71.2 301.6h0M67.5 301.8h0M47.9 324.5h0M64.8 305.6h0M56.7 327.4h0M84.8 298.1h0M73.0 279.3h0M61.5 276.1h0M76.9 282.3h0M57.5 323.4h0M58.7 328.3h0M73.4 284.3h0M54.6 332.9h0M77.1 280.9h0M52.7 328.2h0M74.2 282.9h0M78.3 298.6h0M63.3 317.3h0M61.0 313.1h0M47.7 330.1h0M80.5 284.3h0M70.9 313.0h0M74.1 285.2h0M62.7 317.9h0M75.2 288.1h0M82.3 301.6h0M78.7 283.7h0M87.6 290.3h0M75.8 289.9h0M61.0 281.0h0M80.6 302.5h0M59.1 321.0h0M68.0 303.3h0M77.5 296.4h0M52.0 308.9h0M87.6 294.5h0M62.4 322.5h0M90.4 289.7h0M77.7 294.2h0M53.4 319.7h0M88.9 292.2h0M72.3 286.8h0M68.1 278.4h0M61.5 329.6h0M74.8 278.2h0M56.1 315.6h0M87.8 282.2h0M88.2 296.7h0M69.5 300.9h0M59.3 316.2h0M55.1 329.3h0M63.4 309.3h0M58.0 328.2h0M64.1 313.1h0M56.3 316.1h0M88.3 286.1h0M49.9 320.3h0M76.5 285.3h0M76.7 283.6h0M70.7 310.9h0M56.4 321.6h0M70.5 309.1h0M44.3 337.3h0M79.6 283.3h0M69.5 319.7h0M65.6 322.1h0M88.3 298.3h0M86.0 284.2h0M80.8 284.9h0M57.1 320.6h0M45.1 332.1h0M63.1 275.9h0M7.1 331.4h0M32.7 329.0h0M47.6 328.7h0M6.2 328.3h0M28.7 335.0h0M36.4 324.8h0M33.4 325.5h0M35.2 332.3h0M39.8 327.9h0M32.1 337.6h0M44.7 332.5h0M52.8 333.6h0M33.6 330.3h0M19.6 332.5h0M16.5 330.5h0M7.3 329.4h0M13.1 334.0h0M11.0 326.5h0M54.0 334.0h0M39.2 327.4h0M50.6 332.4h0M9.3 335.9h0M33.0 325.5h0M24.1 328.7h0M8.9 333.5h0M48.6 330.5h0M31.7 327.5h0M22.7 328.7h0M39.0 331.5h0M18.5 326.2h0M46.3 331.6h0M9.4 331.2h0M18.2 330.1h0M39.7 326.5h0M38.8 325.1h0M44.4 325.1h0M20.7 330.9h0M6.3 329.5h0M38.8 322.1h0M28.6 329.6h0M25.1 332.5h0M12.8 330.4h0M29.6 334.0h0M11.8 325.8h0M28.7 328.5h0M33.4 331.3h0M17.2 333.4h0M16.1 334.7h0M53.4 335.3h0M15.0 333.8h0M11.5 336.3h0M40.6 327.3h0M12.0 330.0h0M50.7 333.6h0M23.9 330.7h0M41.2 329.2h0M21.9 327.1h0M17.2 331.1h0M26.9 325.0h0M44.4 329.4h0M41.9 329.0h0M36.9 325.8h0M36.9 328.6h0M41.1 331.6h0M10.0 331.3h0M39.3 324.9h0M8.0 334.1h0M42.3 331.2h0M16.4 330.6h0M27.7 327.4h0M11.3 327.1h0M41.4 335.4h0M26.4 328.1h0M7.4 332.8h0M16.9 328.4h0M18.2 329.6h0M40.5 326.7h0M49.2 327.0h0M47.6 330.8h0M47.8 329.8h0M20.7 329.1h0M51.8 335.0h0M47.6 332.3h0M54.1 339.3h0M5.9 330.1h0M49.0 335.3h0M33.8 329.9h0M43.3 331.8h0M20.0 329.8h0M14.2 326.7h0M44.6 327.9h0M42.0 326.3h0M7.9 333.1h0M32.9 333.6h0M41.6 329.5h0M42.6 328.7h0M42.8 325.8h0M22.4 327.1h0M27.0 325.8h0M4.9 332.1h0M22.6 330.1h0M44.0 326.1h0M25.3 330.1h0M31.9 324.7h0M12.4 333.2h0M37.7 327.7h0M44.4 335.0h0M25.4 327.0h0M53.0 333.9h0M37.5 330.4h0M19.2 325.5h0M31.5 330.7h0M37.1 328.8h0M2.3 332.8h0M50.2 330.9h0M6.4 333.6h0M17.9 329.4h0M10.0 333.6h0M42.6 331.6h0M15.3 328.8h0M14.0 329.6h0M44.4 329.6h0M47.0 334.2h0M43.3 329.4h0M16.2 329.5h0M27.0 327.0h0M38.3 327.2h0M11.7 330.1h0M22.7 325.4h0M19.6 332.2h0M51.3 337.4h0M48.7 331.4h0M47.6 336.8h0M43.9 328.1h0M16.7 329.2h0M27.4 330.4h0M54.4 336.0h0M14.4 329.8h0M30.0 322.1h0M17.9 327.7h0M29.2 324.3h0M40.4 323.9h0M17.8 329.7h0M19.9 325.2h0M42.6 329.9h0M14.4 333.4h0M24.8 328.8h0M13.2 327.3h0M6.4 333.1h0M16.9 329.3h0M33.7 332.2h0M24.0 331.9h0M50.9 334.6h0M17.6 329.8h0M46.0 330.9h0M35.8 327.1h0M1.5 332.3h0M9.4 331.9h0M39.7 333.5h0M17.9 330.9h0M15.6 328.1h0M32.1 335.4h0M30.9 328.0h0M9.8 329.0h0M23.6 327.8h0M50.2 335.4h0M139.1 126.5h0M145.4 130.2h0M125.4 99.7h0M114.8 14.0h0M132.6 125.1h0M116.4 38.4h0M136.8 120.0h0M120.2 39.4h0M125.0 92.5h0M112.3 24.7h0M137.8 120.5h0M128.6 67.8h0M116.3 27.4h0M146.5 142.3h0M128.1 69.6h0M126.8 64.4h0M133.5 81.7h0M162.3 157.3h0M146.3 136.2h0M127.9 75.3h0M136.8 93.9h0M110.7 30.2h0M147.8 137.4h0M115.2 13.4h0M120.4 90.2h0M132.9 108.2h0M122.4 46.6h0M130.2 80.2h0M115.8 21.1h0M117.8 19.8h0M126.6 72.3h0M120.0 34.1h0M147.0 118.8h0M134.6 120.2h0M129.1 63.9h0M131.9 113.5h0M129.4 57.3h0M110.7 37.5h0M117.8 14.5h0M136.1 97.8h0M117.8 33.4h0M113.3 21.3h0M121.6 68.7h0M112.6 14.9h0M114.6 21.7h0M136.8 95.1h0M140.7 107.5h0M111.4 36.7h0M137.1 123.9h0M108.1 32.7h0M116.8 35.5h0M137.3 97.2h0M132.1 110.6h0M109.7 37.8h0M116.6 43.5h0M112.0 25.8h0M124.6 42.7h0M110.3 16.5h0M147.2 127.4h0M135.9 123.0h0M151.0 136.2h0M115.5 15.5h0M148.0 141.1h0M130.0 72.0h0M116.9 22.0h0M107.5 11.3h0M129.2 77.6h0M117.0 13.7h0M111.4 9.8h0M113.0 47.6h0M151.3 134.8h0M155.1 145.0h0M116.2 29.0h0M133.5 110.8h0M122.2 69.5h0M111.3 28.2h0M119.8 41.8h0M135.7 91.7h0M116.0 30.9h0M138.7 124.0h0M121.8 94.9h0M126.4 58.8h0M131.5 78.6h0M150.5 140.5h0M147.9 144.6h0M128.0 61.6h0M141.8 107.6h0M110.6 17.6h0M126.1 66.1h0M126.0 72.4h0M132.7 111.8h0M147.7 131.4h0M110.7 36.2h0M140.9 105.8h0M111.3 16.6h0M126.4 54.3h0M131.7 77.0h0M132.7 107.6h0M135.4 121.3h0M129.0 67.1h0M130.1 101.5h0M119.3 31.9h0M148.0 145.0h0M113.4 20.3h0M125.5 50.4h0M148.6 132.9h0M124.6 77.5h0M112.9 33.0h0M114.3 21.0h0M128.1 71.9h0M129.8 68.6h0M110.8 11.4h0M116.5 31.8h0M133.9 112.0h0M135.1 112.7h0M135.8 83.6h0M116.1 39.8h0M117.0 38.0h0M138.5 119.2h0M126.8 51.2h0M133.5 74.3h0M140.1 85.1h0M132.0 105.5h0M112.6 10.8h0M115.1 22.4h0M123.8 63.1h0M139.0 124.1h0M125.4 96.1h0M108.9 21.9h0M135.1 81.4h0M129.2 79.2h0M120.7 32.9h0M128.3 103.0h0M118.4 33.9h0M133.7 117.7h0M146.1 138.8h0M111.7 23.5h0M152.1 145.0h0M113.6 24.5h0M127.5 62.5h0M126.0 70.8h0M113.4 17.7h0M132.5 78.9h0M109.6 14.7h0M121.0 42.4h0M129.1 68.1h0M128.2 68.6h0M139.2 127.0h0M131.8 83.8h0M110.5 27.1h0M112.6 16.8h0M117.8 34.9h0M146.8 136.6h0M116.2 40.1h0M137.0 116.6h0M125.3 62.2h0M123.2 92.2h0M108.0 19.9h0M126.7 98.1h0M107.2 49.0h0M111.2 40.3h0M123.6 118.1h0M107.9 22.2h0M114.5 51.5h0M105.6 32.1h0M100.9 29.4h0M105.7 20.3h0M100.5 24.0h0M129.0 81.9h0M108.7 43.7h0M113.8 81.6h0M95.7 24.7h0M109.3 18.1h0M132.3 115.5h0M113.3 83.4h0M108.4 27.0h0M102.6 19.5h0M110.9 37.8h0M117.2 42.0h0M125.3 102.2h0M110.9 14.0h0M110.8 36.5h0M116.6 93.8h0M120.8 93.2h0M111.6 54.7h0M122.2 64.0h0M114.6 56.7h0M103.9 22.2h0M125.7 103.0h0M106.1 31.7h0M112.5 52.5h0M119.2 70.7h0M128.1 101.6h0M112.2 49.0h0M116.5 80.0h0M108.3 27.5h0M136.2 114.0h0M121.2 91.6h0M111.0 59.9h0M119.7 76.2h0M105.3 33.1h0M127.7 105.1h0M105.2 45.6h0M111.2 63.6h0M100.8 22.6h0M105.3 33.5h0M117.9 94.1h0M112.0 60.8h0M127.1 106.8h0M118.6 46.2h0M109.4 71.2h0M111.0 44.2h0M112.5 12.1h0M104.0 24.4h0M109.2 42.2h0M116.6 84.4h0M133.2 116.7h0M125.4 117.0h0M111.0 31.7h0M97.7 20.7h0M115.4 46.4h0M121.6 69.3h0M120.5 93.3h0" stroke="#000" stroke-width="2.3" stroke-linecap="round" fill="none"/></g>
</defs>
<rect width="1650" height="1275" fill="#fff"/>
<g transform="translate(75.0,142.5)">
<rect x="0" y="0" width="348.0" height="427.5" fill="#fff"/>
<g clip-path="url(#clip)">
<use href="#coast"/>
<path d="M58 0V427.5M116 0V427.5M174 0V427.5M232 0V427.5M290 0V427.5M0 72.4H348.0M0 144.3H348.0M0 215.7H348.0M0 286.8H348.0M0 357.3H348.0" stroke="#000" stroke-opacity="0.16" stroke-width="1" stroke-dasharray="2 5" fill="none"/>
<path d="M0 427.5v-4M0 0v4M58 427.5v-4M58 0v4M116 427.5v-4M116 0v4M174 427.5v-4M174 0v4M232 427.5v-4M232 0v4M290 427.5v-4M290 0v4M348 427.5v-4M348 0v4M0 72.4h4M348.0 72.4h-4M0 144.3h4M348.0 144.3h-4M0 215.7h4M348.0 215.7h-4M0 286.8h4M348.0 286.8h-4M0 357.3h4M348.0 357.3h-4" stroke="#000" stroke-width="1" fill="none"/>

<path d="M273.3 0.2L272.3 4.6L272.0 9.1L271.4 13.2L270.0 17.8L268.9 21.9L268.5 26.1L267.8 30.8L267.1 33.4L266.1 37.8L264.8 42.7L263.9 45.8L263.1 50.6L261.6 54.7L261.4 59.4L261.1 63.9L261.5 68.0L260.2 72.6L260.5 76.8L260.2 81.0L257.8 86.0L256.3 90.3L255.2 95.3L254.5 98.9L254.4 103.1L253.3 107.4L252.6 111.6L252.7 116.0L251.8 120.6L251.4 124.8L251.2 129.6L251.4 133.7L251.7 137.4L250.6 141.8L249.2 145.4L248.0 150.3L247.5 154.7L247.1 158.8L246.6 162.5L246.3 166.1L247.3 171.0L248.1 174.9L247.6 179.8L248.7 183.2L249.9 188.2L250.8 192.4L251.3 197.3L252.9 201.1L249.7 207.1L251.1 213.6L248.5 218.1L246.4 222.0L242.8 227.0L239.7 231.8L236.2 236.2L233.4 241.1L230.6 246.5L228.4 249.8L224.6 253.4L221.4 258.0L217.6 262.4L214.5 266.1L210.6 269.7L207.2 271.6L201.7 277.6L198.7 281.0L196.1 284.7L191.3 290.3L188.9 293.6L186.1 297.4L183.4 300.7L180.4 304.2L177.3 308.5L174.9 312.9L172.6 315.5L168.9 320.0L166.4 322.6L163.5 326.3L160.2 329.8L156.7 335.4L153.1 339.0L150.6 342.7L146.4 346.7L142.9 350.3L139.5 353.9L133.9 359.6L130.4 362.6L127.7 365.5L124.8 369.7L122.0 374.8L119.1 379.9L116.1 384.4L112.3 388.7L108.2 392.8L103.1 397.4L100.2 402.1L95.8 407.3L93.6 410.5L90.4 413.5L88.3 416.6L85.4 420.8L82.5 423.6L79.7 427.5" fill="none" stroke="#000" stroke-width="1.1"/><g transform="translate(252.5,118) rotate(-86)"><rect x="-19" y="-7.5" width="38" height="15" fill="#fff"/><text x="0" y="5.8" font-size="16" text-anchor="middle" fill="#000" textLength="35" lengthAdjust="spacingAndGlyphs">-100</text></g><circle cx="259.5" cy="55.5" r="1.6" fill="#fff" stroke="#000" stroke-width="0.8"/><g shape-rendering="crispEdges"><path fill="#0040ff" d="M270.2 226.6L264.1 220.5L263.6 229.1Z"/><path fill="#0000df" d="M251.0 241.7L248.2 244.4L252.2 244.7Z"/><path fill="#ffdf00" d="M167.7 366.4L185.3 363.5L184.4 367.2L195.0 360.9L182.9 358.3L185.0 361.6L167.4 364.4Z"/><path fill="#00ffff" d="M158.9 266.1L158.4 271.9L155.0 270.1L158.4 282.0L164.0 271.0L160.4 272.1L160.9 266.3Z"/><path fill="#00bfff" d="M197.3 265.6L195.3 268.2L193.4 264.9L189.9 276.7L200.5 270.4L196.8 269.5L198.9 266.8Z"/><path fill="#0000cf" d="M113.3 326.3L111.7 329.1L114.9 328.4Z"/><path fill="#0030ff" d="M315.9 204.7L312.7 197.7L309.5 204.7Z"/><path fill="#10ffef" d="M221.0 372.0L214.4 372.5L215.7 368.9L204.5 374.2L216.3 377.9L214.5 374.5L221.1 374.0Z"/><path fill="#0000bf" d="M235.5 204.4L235.6 206.7L237.2 205.1Z"/><path fill="#800000" d="M151.5 297.4L171.3 325.8L167.6 326.6L177.9 333.4L175.0 321.4L173.0 324.6L153.1 296.3Z"/><path fill="#0000ef" d="M291.7 197.0L289.8 192.9L287.9 197.0Z"/><path fill="#0040ff" d="M308.5 212.4L305.1 204.7L301.6 212.4Z"/><path fill="#008fff" d="M243.0 250.9L243.0 251.9L239.5 250.4L244.0 261.9L248.5 250.4L245.0 251.9L245.0 250.9Z"/><path fill="#ffef00" d="M136.3 282.2L148.5 294.3L145.0 295.7L156.3 300.6L151.3 289.3L149.9 292.8L137.7 280.8Z"/><path fill="#00bfff" d="M227.8 273.3L226.1 276.0L224.0 272.8L221.5 284.9L231.5 277.7L227.8 277.1L229.5 274.4Z"/><path fill="#00ffff" d="M305.7 165.4L301.1 161.4L304.5 159.7L292.9 155.6L298.7 166.6L299.8 162.9L304.4 166.9Z"/><path fill="#0010ff" d="M269.4 220.1L266.7 214.6L264.4 220.2Z"/><path fill="#009fff" d="M168.5 380.4L168.1 378.5L171.8 379.1L164.6 369.1L163.1 381.3L166.1 379.0L166.6 380.8Z"/><path fill="#0020ff" d="M261.9 236.6L261.6 229.7L256.6 234.5Z"/><path fill="#0050ff" d="M232.4 350.9L230.1 341.9L224.9 349.5Z"/><path fill="#0000ff" d="M82.3 352.3L88.1 352.8L84.7 348.2Z"/><path fill="#40ffbf" d="M152.4 336.0L160.9 335.0L159.8 338.6L170.7 332.8L158.8 329.7L160.7 333.0L152.2 334.0Z"/><path fill="#0000df" d="M196.6 213.0L199.3 215.8L199.6 211.9Z"/><path fill="#80ff80" d="M167.7 336.0L178.7 334.2L177.8 337.9L188.4 331.6L176.3 329.0L178.4 332.2L167.4 334.0Z"/><path fill="#0050ff" d="M263.1 243.3L259.5 234.6L255.4 243.1Z"/><path fill="#0000df" d="M197.5 233.9L194.5 236.8L198.7 237.1Z"/><path fill="#00009f" d="M251.4 188.8L250.4 189.8L251.8 189.9Z"/><path fill="#00bfff" d="M221.4 274.8L224.4 273.8L224.1 277.6L233.6 269.7L221.2 269.1L223.8 271.9L220.7 272.9Z"/><path fill="#800000" d="M229.4 312.8L254.1 283.7L255.8 287.2L259.9 275.5L249.0 281.3L252.6 282.4L227.9 311.5Z"/><path fill="#0000df" d="M227.1 234.9L227.4 239.1L230.3 236.1Z"/><path fill="#008fff" d="M214.0 190.1L214.7 189.5L215.8 193.2L221.7 182.3L210.0 186.3L213.4 188.0L212.8 188.6Z"/><path fill="#0080ff" d="M235.3 258.5L235.3 258.8L231.9 257.1L235.7 268.9L240.9 257.7L237.3 259.0L237.3 258.6Z"/><path fill="#0050ff" d="M323.6 187.4L316.2 182.1L317.1 191.2Z"/><path fill="#0000cf" d="M90.0 326.9L90.2 330.0L92.4 327.8Z"/><path fill="#0000bf" d="M237.5 243.2L236.3 240.5L235.1 243.2Z"/><path fill="#0000bf" d="M281.0 212.0L281.2 214.9L283.3 212.8Z"/><path fill="#00afff" d="M227.9 282.1L229.2 284.0L225.4 284.7L235.7 291.6L232.8 279.6L230.8 282.8L229.5 281.0Z"/><path fill="#0040ff" d="M299.2 217.1L290.6 216.2L295.7 223.2Z"/><path fill="#0060ff" d="M278.6 227.8L274.4 218.9L270.5 227.9Z"/><path fill="#0000af" d="M243.1 212.4L244.0 214.5L244.9 212.4Z"/><path fill="#008fff" d="M136.9 336.0L138.2 336.1L136.5 339.5L148.3 335.7L137.1 330.5L138.4 334.1L137.1 334.0Z"/><path fill="#0000ef" d="M107.4 367.0L110.0 363.3L105.5 363.8Z"/><path fill="#0000df" d="M257.6 196.4L257.9 200.7L260.9 197.6Z"/><path fill="#ff5000" d="M143.8 289.8L157.5 309.2L153.8 310.0L164.1 316.8L161.2 304.8L159.2 308.0L145.5 288.6Z"/><path fill="#ffdf00" d="M167.5 351.2L185.3 352.5L183.5 355.9L195.3 352.2L184.2 346.9L185.4 350.5L167.6 349.2Z"/><path fill="#cfff30" d="M160.1 351.2L174.3 348.9L173.4 352.6L184.0 346.4L172.0 343.7L174.0 347.0L159.8 349.2Z"/><path fill="#800000" d="M229.5 305.1L258.2 267.2L260.1 270.6L263.4 258.7L252.9 265.1L256.6 266.0L227.9 303.9Z"/><path fill="#0080ff" d="M91.6 311.2L91.3 311.1L94.1 308.5L81.8 307.7L90.3 316.7L90.5 312.9L90.7 313.0Z"/><path fill="#0000df" d="M221.0 233.7L217.1 235.5L221.0 237.3Z"/><path fill="#ff7000" d="M222.0 297.1L228.9 275.8L231.8 278.3L231.1 266.0L223.2 275.6L227.0 275.2L220.1 296.5Z"/><path fill="#8fff70" d="M136.4 274.7L146.5 281.5L143.3 283.5L155.3 286.2L148.3 276.1L147.6 279.8L137.6 273.0Z"/><path fill="#0000cf" d="M207.2 227.8L205.8 224.6L204.3 227.8Z"/><path fill="#008fff" d="M129.6 343.6L130.9 343.3L130.2 347.0L140.5 340.1L128.2 338.2L130.5 341.3L129.1 341.6Z"/><path fill="#800000" d="M236.8 328.2L280.4 301.1L280.9 304.9L288.3 295.0L276.2 297.3L279.3 299.4L235.8 326.5Z"/><path fill="#30ffcf" d="M298.1 173.1L292.0 167.7L295.4 166.1L283.8 161.9L289.5 172.9L290.7 169.2L296.8 174.6Z"/><path fill="#0000cf" d="M227.4 219.7L227.7 222.9L229.9 220.6Z"/><path fill="#0000df" d="M242.3 197.6L245.3 200.7L245.6 196.4Z"/><path fill="#0000ef" d="M228.0 195.3L224.8 198.4L229.3 198.8Z"/><path fill="#0000bf" d="M250.9 227.2L250.2 229.5L252.3 228.4Z"/><path fill="#0000af" d="M266.6 196.4L265.4 197.6L267.1 197.7Z"/><path fill="#cf0000" d="M168.4 312.6L182.5 286.8L184.8 289.8L186.4 277.6L176.9 285.5L180.7 285.9L166.7 311.6Z"/><path fill="#cfff30" d="M229.3 343.4L240.7 334.8L241.6 338.5L248.1 328.0L236.2 331.3L239.5 333.2L228.1 341.8Z"/><path fill="#0000bf" d="M113.4 341.6L111.9 344.2L114.8 343.6Z"/><path fill="#ffef00" d="M160.2 358.8L177.1 354.1L176.6 357.9L186.5 350.5L174.2 349.2L176.6 352.2L159.7 356.9Z"/><path fill="#008fff" d="M197.8 249.9L196.5 250.4L196.8 246.6L187.5 254.7L199.8 255.0L197.2 252.3L198.5 251.8Z"/><path fill="#00cfff" d="M144.7 343.6L148.8 343.2L147.7 346.8L158.7 341.2L146.8 337.9L148.6 341.2L144.5 341.6Z"/><path fill="#0000bf" d="M282.2 188.1L279.5 189.3L282.2 190.5Z"/><path fill="#0000cf" d="M82.4 318.8L81.5 322.2L84.6 320.6Z"/><path fill="#00cfff" d="M213.4 249.9L209.6 249.9L211.1 246.4L199.6 250.9L211.1 255.4L209.6 251.9L213.4 251.9Z"/><path fill="#0080ff" d="M129.6 335.9L130.0 335.8L129.5 339.6L139.4 332.3L127.1 330.9L129.5 333.9L129.1 334.0Z"/><path fill="#0000af" d="M274.5 204.1L273.1 204.7L274.5 205.4Z"/><path fill="#ffef00" d="M160.0 366.4L177.1 365.5L175.7 369.1L187.0 364.0L175.3 360.1L177.0 363.5L159.9 364.4Z"/><path fill="#9fff60" d="M160.0 343.6L172.8 343.2L171.4 346.7L182.8 341.8L171.1 337.7L172.7 341.2L159.9 341.6Z"/><path fill="#0000df" d="M228.1 226.3L225.4 229.0L229.2 229.3Z"/><path fill="#0000af" d="M250.9 219.9L251.0 221.8L252.3 220.4Z"/><path fill="#40ffbf" d="M129.5 374.0L137.8 373.1L136.7 376.7L147.6 370.9L135.7 367.8L137.6 371.1L129.2 372.0Z"/><path fill="#0020ff" d="M239.2 342.6L236.3 336.1L233.4 342.6Z"/><path fill="#0030ff" d="M104.9 352.9L112.3 353.6L108.0 347.6Z"/><path fill="#0000bf" d="M181.9 220.5L183.6 222.1L183.7 219.8Z"/><path fill="#ff8000" d="M167.7 374.0L189.8 371.6L188.7 375.2L199.6 369.5L187.7 366.3L189.6 369.6L167.5 372.0Z"/><path fill="#df0000" d="M176.0 320.3L193.4 297.5L195.3 300.8L198.7 289.0L188.1 295.4L191.8 296.3L174.4 319.1Z"/><path fill="#0000af" d="M290.6 204.7L289.8 203.0L289.0 204.7Z"/><path fill="#800000" d="M237.1 312.8L265.5 281.2L267.1 284.7L271.5 273.1L260.4 278.6L264.0 279.9L235.6 311.4Z"/><path fill="#0080ff" d="M98.7 303.5L98.5 303.5L99.7 299.9L88.6 305.3L100.4 308.9L98.6 305.5L98.9 305.5Z"/><path fill="#0000cf" d="M196.9 196.6L197.1 199.8L199.4 197.5Z"/><path fill="#0000df" d="M77.4 327.9L77.0 324.0L74.4 326.9Z"/><path fill="#0000cf" d="M219.8 205.2L222.0 207.4L222.2 204.3Z"/><path fill="#0000ef" d="M82.6 344.2L87.1 344.5L84.4 341.0Z"/><path fill="#0000df" d="M190.5 226.3L187.1 227.8L190.5 229.4Z"/><path fill="#0000af" d="M273.7 189.3L274.5 191.2L275.3 189.3Z"/><path fill="#0070ff" d="M121.7 330.6L112.1 335.0L121.7 339.3Z"/><path fill="#0000bf" d="M235.6 219.5L234.9 221.8L237.1 220.8Z"/><path fill="#0000df" d="M190.5 233.9L186.8 235.5L190.5 237.2Z"/><path fill="#00dfff" d="M221.0 364.4L216.3 364.5L217.7 361.0L206.3 365.6L217.8 370.0L216.3 366.5L221.1 366.4Z"/><path fill="#0000ef" d="M245.8 235.5L244.0 231.3L242.1 235.5Z"/><path fill="#00efff" d="M189.7 211.8L186.4 215.8L184.7 212.4L180.9 224.1L191.6 218.1L188.0 217.1L191.3 213.1Z"/><path fill="#cfff30" d="M221.6 335.8L233.6 327.3L234.4 331.0L241.1 320.6L229.1 323.7L232.4 325.6L220.5 334.2Z"/><path fill="#0030ff" d="M122.8 368.5L128.6 362.9L120.6 362.3Z"/><path fill="#0000ef" d="M182.8 241.3L178.7 243.2L182.8 245.0Z"/><path fill="#008fff" d="M213.6 267.2L214.7 266.9L214.1 270.7L224.2 263.6L212.0 261.9L214.2 265.0L213.2 265.2Z"/><path fill="#0000cf" d="M204.4 242.7L204.6 246.3L207.1 243.7Z"/><path fill="#0000cf" d="M113.8 351.7L117.4 350.8L114.4 348.7Z"/><path fill="#0080ff" d="M206.4 197.8L206.9 197.4L208.0 201.0L213.9 190.2L202.2 194.1L205.6 195.8L205.1 196.3Z"/><path fill="#0000df" d="M112.3 304.4L113.9 308.4L115.8 304.6Z"/><path fill="#60ff9f" d="M144.6 366.4L154.6 366.5L153.1 370.0L164.6 365.6L153.1 361.0L154.6 364.5L144.6 364.4Z"/><path fill="#ffbf00" d="M175.2 366.4L194.8 366.6L193.3 370.1L204.8 365.6L193.4 361.1L194.8 364.6L175.2 364.4Z"/><path fill="#00dfff" d="M228.5 356.8L223.9 357.7L224.8 354.0L214.3 360.6L226.4 362.8L224.3 359.7L228.9 358.8Z"/><path fill="#00efff" d="M235.3 281.5L235.2 286.6L231.8 285.1L236.0 296.6L240.8 285.2L237.2 286.7L237.3 281.5Z"/><path fill="#00efff" d="M204.9 282.0L207.1 286.8L203.3 286.9L212.3 295.4L211.5 283.0L208.9 285.9L206.7 281.1Z"/><path fill="#0050ff" d="M293.5 220.4L290.3 212.0L286.1 219.9Z"/><path fill="#00cfff" d="M229.7 250.9L229.7 247.0L233.2 248.5L228.7 237.0L224.2 248.5L227.7 247.0L227.7 250.9Z"/><path fill="#0000bf" d="M243.1 180.9L242.4 183.4L244.8 182.3Z"/><path fill="#0040ff" d="M94.6 350.2L91.2 342.6L87.7 350.2Z"/><path fill="#0000ef" d="M287.9 212.4L289.8 216.7L291.7 212.4Z"/><path fill="#10ffef" d="M220.6 257.7L214.9 260.5L214.6 256.7L206.4 265.9L218.7 264.8L215.8 262.3L221.5 259.4Z"/><path fill="#0000df" d="M142.9 312.2L144.9 316.0L146.4 312.0Z"/><path fill="#0000df" d="M204.0 220.1L205.8 224.1L207.5 220.1Z"/><path fill="#0080ff" d="M189.6 258.1L189.4 258.4L187.1 255.4L185.6 267.6L195.0 259.7L191.2 259.3L191.4 259.0Z"/><path fill="#0000bf" d="M98.0 320.4L100.2 321.5L99.6 319.1Z"/><path fill="#0000bf" d="M281.3 197.4L282.9 199.0L283.0 196.7Z"/><path fill="#cfff30" d="M152.4 366.4L167.1 365.0L166.0 368.7L177.0 363.1L165.1 359.7L167.0 363.0L152.2 364.4Z"/><path fill="#0040ff" d="M270.3 236.7L269.5 227.9L263.5 234.4Z"/><path fill="#30ffcf" d="M298.1 165.4L292.2 160.2L295.6 158.6L284.1 154.3L289.7 165.3L290.9 161.7L296.8 166.9Z"/><path fill="#0060ff" d="M314.8 208.9L304.8 207.9L310.7 216.0Z"/><path fill="#ffcf00" d="M128.7 282.2L142.2 295.4L138.6 296.8L150.0 301.6L144.9 290.4L143.5 293.9L130.1 280.8Z"/><path fill="#0000af" d="M266.3 204.3L265.8 206.0L267.4 205.2Z"/><path fill="#20ffdf" d="M228.6 364.4L221.2 364.8L222.5 361.2L211.3 366.3L223.0 370.2L221.3 366.8L228.7 366.4Z"/><path fill="#0000bf" d="M196.9 220.1L198.1 222.8L199.3 220.1Z"/><path fill="#0030ff" d="M300.2 210.8L293.9 206.2L294.6 214.1Z"/><path fill="#0000ef" d="M98.1 348.4L94.8 351.7L99.5 352.0Z"/><path fill="#0000bf" d="M235.4 234.7L234.6 237.5L237.2 236.3Z"/><path fill="#0000df" d="M136.8 321.4L140.6 320.1L137.2 318.1Z"/><path fill="#0000bf" d="M122.8 327.7L122.4 324.9L120.6 327.1Z"/><path fill="#0000df" d="M274.0 210.9L271.0 213.7L275.1 214.0Z"/><path fill="#efff10" d="M167.7 343.6L183.3 341.3L182.3 344.9L193.0 338.8L181.0 336.0L183.0 339.3L167.4 341.6Z"/><path fill="#60ff9f" d="M152.4 343.6L162.3 342.8L161.1 346.4L172.2 341.1L160.4 337.5L162.1 340.8L152.2 341.6Z"/><path fill="#0000bf" d="M105.8 320.7L108.6 321.1L107.1 318.8Z"/><path fill="#00cfff" d="M129.5 351.2L133.1 350.8L132.1 354.4L143.0 348.6L131.0 345.5L132.9 348.8L129.2 349.2Z"/><path fill="#00efff" d="M206.0 267.2L211.1 265.8L210.6 269.6L220.6 262.3L208.3 260.9L210.6 263.9L205.5 265.2Z"/><path fill="#0000bf" d="M114.0 333.9L111.8 335.1L114.1 336.0Z"/><path fill="#008fff" d="M213.5 274.9L214.8 274.8L213.5 278.4L224.7 273.2L213.0 269.4L214.7 272.8L213.3 272.9Z"/><path fill="#0000ef" d="M181.0 236.2L184.3 239.5L184.6 234.9Z"/><path fill="#0000bf" d="M235.9 195.9L233.9 197.9L236.7 198.1Z"/><path fill="#009fff" d="M189.5 265.9L189.0 267.6L186.1 265.1L186.9 277.5L194.7 267.8L190.9 268.2L191.4 266.5Z"/><path fill="#0000ef" d="M249.9 234.9L250.2 239.3L253.3 236.1Z"/><path fill="#df0000" d="M183.6 312.7L201.5 289.7L203.4 293.1L206.9 281.2L196.3 287.5L200.0 288.5L182.1 311.5Z"/><path fill="#0000ef" d="M215.3 235.5L213.4 231.3L211.5 235.5Z"/><path fill="#0000ef" d="M145.5 318.0L140.8 317.8L143.8 321.5Z"/><path fill="#0000cf" d="M219.8 243.2L221.0 245.9L222.3 243.2Z"/><path fill="#0080ff" d="M204.8 250.5L204.7 250.7L202.0 248.1L202.3 260.5L210.4 251.2L206.6 251.4L206.7 251.2Z"/><path fill="#ffbf00" d="M175.5 358.8L193.7 353.0L193.3 356.8L202.9 349.0L190.6 348.2L193.1 351.1L174.9 356.9Z"/><path fill="#009fff" d="M152.8 267.1L154.3 266.3L154.6 270.0L162.5 260.5L150.3 262.2L153.3 264.5L151.8 265.3Z"/><path fill="#0000df" d="M320.7 260.2L324.0 257.7L320.0 256.9Z"/><path fill="#0010ff" d="M241.3 342.6L244.0 348.5L246.6 342.6Z"/><path fill="#00009f" d="M251.6 211.9L250.4 212.4L251.6 213.0Z"/><path fill="#800000" d="M229.3 320.5L267.1 290.9L268.1 294.5L274.4 283.9L262.5 287.5L265.9 289.3L228.1 318.9Z"/><path fill="#00efff" d="M235.4 297.2L237.4 301.7L233.6 301.7L242.3 310.4L241.8 298.1L239.2 300.9L237.2 296.4Z"/><path fill="#0000cf" d="M196.8 227.8L198.1 230.9L199.5 227.8Z"/><path fill="#0000af" d="M244.8 189.3L244.0 187.4L243.1 189.3Z"/><path fill="#bfff40" d="M175.3 343.6L188.8 341.7L187.8 345.4L198.6 339.4L186.6 336.5L188.6 339.7L175.1 341.6Z"/><path fill="#0050ff" d="M323.6 195.2L316.2 189.9L317.1 198.9Z"/><path fill="#ffff00" d="M151.7 282.3L165.4 292.3L162.1 294.2L174.1 297.4L167.4 287.0L166.6 290.7L152.9 280.7Z"/><path fill="#00009f" d="M83.7 327.8L84.6 326.9L83.3 326.9Z"/><path fill="#8fff70" d="M152.5 351.2L164.3 348.3L163.7 352.0L173.7 344.9L161.5 343.3L163.8 346.3L152.0 349.2Z"/><path fill="#00ffff" d="M129.5 366.4L135.0 365.8L133.9 369.5L144.8 363.8L132.9 360.5L134.8 363.8L129.3 364.4Z"/><path fill="#efff10" d="M143.9 282.2L154.0 294.1L150.4 295.3L161.3 301.1L157.3 289.4L155.6 292.8L145.4 280.9Z"/><path fill="#efff10" d="M229.3 335.7L241.5 325.5L242.6 329.1L248.4 318.2L236.7 322.2L240.2 323.9L228.0 334.2Z"/><path fill="#0000bf" d="M206.7 235.5L205.8 233.5L204.8 235.5Z"/><path fill="#0000ff" d="M101.2 365.4L98.8 360.1L96.4 365.4Z"/><path fill="#008fff" d="M182.0 265.6L181.2 266.8L179.2 263.6L176.1 275.5L186.5 268.8L182.8 268.0L183.7 266.8Z"/><path fill="#0000cf" d="M115.4 357.4L113.2 354.9L112.8 358.2Z"/><path fill="#0000af" d="M236.3 173.1L234.6 173.9L236.3 174.7Z"/><path fill="#0000af" d="M130.0 312.6L130.4 310.7L128.8 311.6Z"/><path fill="#0000af" d="M274.5 196.4L273.1 197.0L274.5 197.7Z"/><path fill="#009fff" d="M235.4 250.5L234.7 252.5L231.9 249.8L232.2 262.2L240.4 252.9L236.6 253.1L237.3 251.2Z"/><path fill="#0000bf" d="M212.3 227.8L213.4 230.3L214.5 227.8Z"/><path fill="#0000bf" d="M242.8 220.1L244.0 222.6L245.1 220.1Z"/><path fill="#10ffef" d="M298.1 157.6L293.0 153.6L296.4 151.8L284.6 148.0L290.7 158.8L291.8 155.1L296.8 159.2Z"/><path fill="#0070ff" d="M105.6 307.7L96.7 314.0L107.3 316.5Z"/><path fill="#00ffff" d="M166.8 265.6L163.2 270.2L161.4 266.9L157.9 278.7L168.5 272.4L164.8 271.4L168.4 266.8Z"/><path fill="#0080ff" d="M99.3 311.2L98.6 310.9L101.5 308.4L89.3 307.1L97.4 316.4L97.7 312.6L98.3 313.0Z"/><path fill="#00dfff" d="M204.8 258.7L205.2 262.8L201.6 261.7L207.3 272.6L210.5 260.7L207.2 262.6L206.8 258.4Z"/><path fill="#0020ff" d="M105.5 355.2L100.5 360.0L107.4 360.5Z"/><path fill="#9fff60" d="M144.8 374.0L157.5 372.4L156.5 376.1L167.3 370.2L155.4 367.1L157.3 370.4L144.5 372.0Z"/><path fill="#30ffcf" d="M137.1 358.8L145.2 357.7L144.2 361.4L155.0 355.4L143.0 352.5L145.0 355.7L136.9 356.8Z"/><path fill="#800000" d="M229.3 328.2L261.4 303.5L262.4 307.2L268.7 296.6L256.9 300.0L260.2 301.9L228.1 326.6Z"/><path fill="#00dfff" d="M197.8 280.6L193.7 281.8L194.2 278.0L184.4 285.5L196.7 286.6L194.3 283.7L198.4 282.5Z"/><path fill="#00efff" d="M182.9 257.5L178.0 257.2L179.7 253.8L167.9 257.3L179.0 262.8L177.8 259.1L182.8 259.5Z"/><path fill="#0000cf" d="M265.7 212.0L265.9 215.1L268.1 212.9Z"/><path fill="#0000df" d="M108.0 327.2L106.1 323.8L104.8 327.5Z"/><path fill="#bfff40" d="M151.6 274.6L162.2 283.7L158.8 285.4L170.5 289.5L164.7 278.6L163.5 282.2L152.9 273.1Z"/><path fill="#0000cf" d="M120.4 311.8L120.9 315.1L123.0 312.4Z"/><path fill="#0000af" d="M227.8 243.2L228.7 245.1L229.6 243.2Z"/><path fill="#0050ff" d="M262.8 228.9L261.6 219.9L255.7 226.8Z"/><path fill="#00ffff" d="M197.5 204.0L192.8 207.9L191.7 204.3L185.8 215.1L197.5 211.2L194.1 209.5L198.8 205.5Z"/><path fill="#00efff" d="M221.1 280.5L216.2 280.3L217.9 276.9L206.2 280.9L217.5 285.9L216.1 282.3L221.0 282.5Z"/><path fill="#ff7000" d="M229.6 289.5L236.6 268.2L239.4 270.7L238.7 258.4L230.9 267.9L234.7 267.6L227.7 288.9Z"/><path fill="#0000af" d="M121.7 319.1L120.3 319.8L121.8 320.4Z"/><path fill="#ffaf00" d="M151.5 289.8L164.1 305.7L160.4 306.7L171.0 313.0L167.4 301.2L165.6 304.5L153.1 288.6Z"/><path fill="#0000ef" d="M221.0 225.9L216.8 227.8L221.0 229.7Z"/><path fill="#00009f" d="M191.0 220.1L190.5 219.0L190.0 220.1Z"/><path fill="#20ffdf" d="M228.6 372.0L221.2 372.9L222.3 369.2L211.4 375.1L223.3 378.2L221.4 374.9L228.8 374.0Z"/><path fill="#0070ff" d="M121.7 345.8L111.8 350.2L121.7 354.7Z"/><path fill="#ffaf00" d="M159.9 374.0L180.3 374.4L178.7 377.9L190.3 373.6L178.9 368.9L180.3 372.4L159.9 372.0Z"/><path fill="#0000af" d="M99.3 326.7L97.3 326.2L98.3 328.0Z"/><path fill="#0010ff" d="M97.9 355.3L93.1 359.9L99.7 360.4Z"/><path fill="#0040ff" d="M89.5 360.8L97.7 361.6L92.9 354.9Z"/><path fill="#0080ff" d="M227.7 266.2L227.7 266.5L224.2 265.0L228.6 276.5L233.2 265.1L229.7 266.5L229.7 266.2Z"/><path fill="#0000df" d="M91.2 333.2L87.3 334.8L91.1 336.7Z"/><path fill="#0060ff" d="M120.3 361.7L130.3 361.0L123.1 353.9Z"/><path fill="#ff7000" d="M136.2 297.4L148.8 316.3L145.1 317.0L155.2 324.1L152.6 312.0L150.5 315.2L137.8 296.3Z"/><path fill="#ffff00" d="M220.8 356.8L204.7 361.2L205.3 357.4L195.3 364.7L207.6 366.1L205.2 363.1L221.3 358.8Z"/><path fill="#0000df" d="M107.2 336.3L109.4 333.3L105.7 333.6Z"/><path fill="#0000df" d="M207.4 204.7L205.8 201.0L204.1 204.7Z"/><path fill="#00bfff" d="M129.5 358.8L132.9 358.2L132.1 361.9L142.5 355.3L130.4 353.0L132.5 356.2L129.2 356.8Z"/><path fill="#0000bf" d="M227.8 211.7L227.1 214.4L229.6 213.2Z"/><path fill="#ffdf00" d="M182.4 211.5L165.8 218.6L165.8 214.8L157.0 223.4L169.3 223.1L166.6 220.4L183.2 213.4Z"/><path fill="#009fff" d="M228.6 257.5L227.0 257.6L228.3 254.1L217.0 259.0L228.7 263.0L227.1 259.6L228.7 259.5Z"/><path fill="#9f0000" d="M160.7 327.9L179.0 301.9L181.0 305.2L183.9 293.2L173.6 300.0L177.3 300.8L159.1 326.8Z"/><path fill="#0080ff" d="M214.0 205.5L214.4 205.2L215.5 208.9L221.4 198.0L209.7 202.0L213.1 203.7L212.8 204.0Z"/><path fill="#0020ff" d="M245.3 261.1L249.7 255.6L242.6 256.0Z"/><path fill="#0000ef" d="M104.8 341.6L104.3 346.2L108.1 343.6Z"/><path fill="#0000df" d="M138.0 313.6L140.4 310.0L136.0 310.6Z"/><path fill="#afff50" d="M144.1 274.7L155.0 281.8L151.8 283.9L163.9 286.4L156.7 276.4L156.1 280.1L145.2 273.0Z"/><path fill="#cfff30" d="M166.9 274.6L177.9 284.0L174.5 285.7L186.1 289.8L180.3 278.9L179.2 282.5L168.2 273.1Z"/><path fill="#00cfff" d="M137.1 343.6L141.2 343.1L140.2 346.8L151.1 340.9L139.1 337.8L141.0 341.1L136.9 341.6Z"/><path fill="#00efff" d="M144.7 336.0L149.6 335.8L148.2 339.3L159.5 334.3L147.8 330.3L149.5 333.8L144.6 334.0Z"/><path fill="#00009f" d="M243.6 173.5L243.2 174.8L244.4 174.2Z"/><path fill="#800000" d="M244.7 312.8L278.5 279.5L279.8 283.1L284.9 271.8L273.5 276.7L277.0 278.1L243.3 311.4Z"/><path fill="#800000" d="M159.0 297.3L175.8 327.6L172.0 328.0L181.5 335.9L179.9 323.7L177.5 326.7L160.8 296.3Z"/><path fill="#20ffdf" d="M305.8 173.2L301.0 167.8L304.6 166.6L293.6 161.0L297.9 172.5L299.5 169.1L304.3 174.5Z"/><path fill="#00afff" d="M128.6 289.8L130.0 291.5L126.4 292.6L137.2 298.6L133.3 286.9L131.6 290.3L130.1 288.5Z"/><path fill="#0000bf" d="M227.8 180.9L227.0 183.6L229.6 182.3Z"/><path fill="#0000af" d="M243.3 204.2L242.7 206.2L244.6 205.3Z"/><path fill="#0040ff" d="M277.9 220.6L275.5 212.7L271.2 219.7Z"/><path fill="#ff5000" d="M136.2 289.8L150.9 308.5L147.2 309.5L157.9 315.7L154.3 303.9L152.5 307.3L137.8 288.6Z"/><path fill="#00dfff" d="M181.8 274.0L182.3 278.6L178.7 277.5L184.4 288.5L187.6 276.6L184.3 278.4L183.8 273.8Z"/><path fill="#00efff" d="M197.5 273.1L193.6 276.1L192.6 272.5L186.3 283.1L198.2 279.6L194.8 277.7L198.7 274.7Z"/><path fill="#0000cf" d="M123.1 304.4L121.5 301.3L120.3 304.6Z"/><path fill="#0000cf" d="M114.9 311.2L112.0 310.3L113.2 313.0Z"/><path fill="#800000" d="M183.7 327.8L199.1 298.1L201.5 301.1L202.8 288.8L193.5 296.9L197.3 297.2L182.0 326.9Z"/><path fill="#0030ff" d="M315.9 219.6L311.5 213.1L309.5 220.7Z"/><path fill="#00dfff" d="M236.2 356.8L231.6 357.2L232.8 353.6L221.7 359.0L233.5 362.5L231.8 359.2L236.4 358.8Z"/><path fill="#0000cf" d="M129.3 321.0L132.2 320.0L129.5 318.5Z"/><path fill="#0000af" d="M250.8 205.0L252.3 206.5L252.4 204.4Z"/><path fill="#00dfff" d="M197.6 257.7L193.9 259.8L193.5 256.0L185.6 265.5L197.9 263.8L194.9 261.5L198.6 259.4Z"/><path fill="#0000ef" d="M131.2 304.0L128.3 300.5L127.6 304.9Z"/><path fill="#0010ff" d="M292.4 228.7L291.7 222.1L287.2 227.0Z"/><path fill="#00cfff" d="M250.7 251.4L252.6 254.6L248.8 255.1L258.5 262.8L256.6 250.6L254.4 253.6L252.5 250.4Z"/><path fill="#0000af" d="M243.2 227.6L243.4 229.5L244.7 228.1Z"/><path fill="#20ffdf" d="M137.1 366.4L144.4 365.8L143.2 369.4L154.3 364.0L142.4 360.4L144.2 363.8L136.9 364.4Z"/><path fill="#0000af" d="M182.2 227.6L182.3 229.2L183.4 228.1Z"/><path fill="#0000df" d="M100.3 334.3L97.4 331.6L97.3 335.6Z"/><path fill="#0000df" d="M257.5 189.3L259.2 193.1L260.9 189.3Z"/><path fill="#9fff60" d="M182.9 336.0L195.3 335.1L194.0 338.7L205.2 333.4L193.4 329.7L195.1 333.1L182.8 334.0Z"/><path fill="#0000bf" d="M213.0 242.1L210.9 244.1L213.8 244.3Z"/><path fill="#00ffff" d="M213.0 257.7L207.6 260.3L207.3 256.5L199.1 265.7L211.4 264.6L208.5 262.1L213.8 259.4Z"/><path fill="#0000bf" d="M90.0 342.7L91.5 345.1L92.3 342.5Z"/><path fill="#80ff80" d="M137.1 374.0L148.6 373.2L147.4 376.8L158.5 371.6L146.8 367.8L148.5 371.2L136.9 372.0Z"/><path fill="#00dfff" d="M189.7 274.5L192.6 277.8L189.0 279.0L199.9 284.7L195.7 273.1L194.1 276.5L191.2 273.2Z"/><path fill="#cf0000" d="M176.1 312.5L188.2 285.5L190.8 288.3L191.4 275.9L182.6 284.6L186.4 284.7L174.3 311.7Z"/><path fill="#0000af" d="M259.0 211.8L257.9 212.9L259.5 213.0Z"/><path fill="#0000df" d="M236.3 187.8L232.9 189.3L236.3 190.9Z"/><path fill="#0040ff" d="M300.8 227.2L296.1 220.4L294.1 228.4Z"/><path fill="#0000cf" d="M265.5 189.8L268.0 192.3L268.2 188.8Z"/><path fill="#00009f" d="M90.7 319.9L91.6 320.8L91.6 319.5Z"/><path fill="#0000df" d="M205.2 210.8L202.2 213.7L206.3 214.0Z"/><path fill="#00efff" d="M143.7 265.8L141.8 270.5L139.1 267.7L138.8 280.1L147.4 271.2L143.6 271.3L145.6 266.6Z"/><path fill="#00cfff" d="M183.8 250.9L183.8 247.0L187.3 248.5L182.8 237.0L178.3 248.5L181.8 247.0L181.8 250.9Z"/><path fill="#0050ff" d="M124.9 340.7L117.6 335.5L118.5 344.4Z"/><path fill="#0050ff" d="M285.1 225.5L277.1 221.3L279.2 230.1Z"/><path fill="#0080ff" d="M190.5 249.9L190.1 249.9L191.6 246.4L180.1 250.9L191.6 255.4L190.1 251.9L190.5 251.9Z"/><path fill="#0000df" d="M257.9 203.6L256.8 207.6L260.5 205.8Z"/><path fill="#00bfff" d="M236.4 288.2L233.6 287.9L235.5 284.6L223.6 287.8L234.5 293.5L233.4 289.9L236.2 290.2Z"/><path fill="#ffdf00" d="M175.3 351.2L193.3 349.8L192.1 353.4L203.2 348.0L191.4 344.4L193.2 347.8L175.1 349.2Z"/><path fill="#ff6000" d="M159.2 289.8L174.3 307.4L170.7 308.6L181.6 314.4L177.5 302.7L175.8 306.1L160.7 288.5Z"/><path fill="#30ffcf" d="M144.7 358.8L152.6 358.0L151.5 361.6L162.5 355.9L150.6 352.6L152.4 356.0L144.5 356.8Z"/><path fill="#009fff" d="M220.1 250.5L219.6 252.0L216.8 249.4L217.1 261.8L225.2 252.5L221.4 252.7L222.0 251.2Z"/><path fill="#0000df" d="M222.6 220.1L221.0 216.6L219.4 220.1Z"/><path fill="#009fff" d="M205.0 274.5L206.0 275.7L202.3 276.8L213.1 282.8L209.3 271.1L207.5 274.5L206.5 273.2Z"/><path fill="#0000bf" d="M212.3 212.1L212.5 214.8L214.5 212.8Z"/><path fill="#0050ff" d="M224.8 350.9L222.5 341.7L217.2 349.5Z"/><path fill="#0000af" d="M250.8 181.6L251.6 183.4L252.4 181.6Z"/><path fill="#0000af" d="M99.2 342.1L97.7 341.6L98.4 343.1Z"/><path fill="#0000cf" d="M252.9 197.0L251.6 194.1L250.3 197.0Z"/><path fill="#cfff30" d="M175.3 336.0L190.0 335.1L188.7 338.7L199.9 333.6L188.1 329.7L189.8 333.1L175.1 334.0Z"/><path fill="#60ff9f" d="M144.9 351.2L154.6 348.6L154.1 352.3L164.0 345.0L151.8 343.6L154.1 346.6L144.4 349.2Z"/><path fill="#ffdf00" d="M152.3 374.0L170.5 374.1L169.0 377.6L180.5 373.2L169.0 368.6L170.5 372.1L152.3 372.0Z"/><path fill="#0000df" d="M235.7 226.2L232.8 229.1L236.9 229.4Z"/><path fill="#0000ef" d="M212.0 195.8L210.7 200.2L214.8 198.2Z"/><path fill="#0080ff" d="M227.7 296.5L227.5 297.1L224.8 294.5L225.0 306.8L233.2 297.6L229.4 297.8L229.6 297.2Z"/><path fill="#0070ff" d="M171.4 256.2L169.9 267.0L179.0 260.9Z"/><path fill="#0050ff" d="M158.1 383.9L167.3 384.6L161.7 377.3Z"/><path fill="#00009f" d="M114.0 320.2L115.2 319.9L114.1 319.3Z"/><path fill="#ef0000" d="M143.7 297.3L156.5 322.4L152.7 322.6L162.0 330.8L160.8 318.5L158.3 321.5L145.5 296.4Z"/><path fill="#0040ff" d="M240.0 350.2L236.3 342.1L232.7 350.2Z"/><path fill="#0000bf" d="M227.9 188.6L227.1 191.2L229.5 190.0Z"/><path fill="#0000af" d="M220.8 211.8L219.6 213.0L221.3 213.1Z"/><path fill="#ffef00" d="M167.6 358.8L185.2 357.8L183.9 361.4L195.1 356.2L183.4 352.4L185.1 355.8L167.5 356.8Z"/><path fill="#008fff" d="M220.5 197.9L221.3 198.3L218.2 200.6L230.5 202.5L222.7 192.8L222.3 196.6L221.5 196.2Z"/><path fill="#9fff60" d="M159.4 274.7L169.7 281.5L166.6 283.6L178.7 286.1L171.5 276.0L170.8 279.8L160.5 273.0Z"/><path fill="#0000af" d="M243.3 242.6L242.7 244.7L244.6 243.8Z"/><path fill="#70ff8f" d="M160.1 336.0L170.6 334.5L169.6 338.2L180.4 332.1L168.3 329.3L170.3 332.5L159.8 334.0Z"/><path fill="#ffdf00" d="M159.2 282.2L172.3 295.1L168.7 296.5L180.1 301.4L175.1 290.1L173.7 293.7L160.6 280.8Z"/><path fill="#800000" d="M183.8 320.1L196.8 289.2L199.5 291.9L199.8 279.6L191.2 288.4L195.0 288.4L181.9 319.3Z"/><path fill="#afff50" d="M244.6 335.8L255.4 327.8L256.2 331.5L262.8 321.1L250.9 324.3L254.2 326.2L243.4 334.2Z"/><path fill="#800000" d="M244.6 320.5L275.8 292.0L277.0 295.6L282.5 284.5L271.0 288.9L274.4 290.5L243.3 319.0Z"/><path fill="#0000ef" d="M137.6 302.7L133.1 303.1L136.4 306.2Z"/><path fill="#0000af" d="M227.8 204.7L228.7 206.6L229.5 204.7Z"/><path fill="#0040ff" d="M120.5 376.4L129.3 375.8L123.0 369.6Z"/><path fill="#800000" d="M237.0 320.5L270.2 293.2L271.2 296.9L277.3 286.1L265.5 289.9L268.9 291.7L235.7 319.0Z"/><path fill="#0000df" d="M280.4 204.7L282.2 208.6L283.9 204.7Z"/><path fill="#800000" d="M237.1 305.0L262.9 267.6L264.9 270.8L267.8 258.8L257.5 265.7L261.3 266.5L235.5 303.9Z"/><path fill="#00dfff" d="M137.1 351.2L141.8 350.7L140.7 354.3L151.7 348.6L139.8 345.4L141.6 348.7L136.9 349.2Z"/><path fill="#00afff" d="M174.8 265.3L172.5 266.4L172.4 262.6L164.0 271.6L176.3 270.7L173.4 268.2L175.6 267.1Z"/><path fill="#ff0000" d="M236.9 335.8L258.8 319.3L259.7 323.0L266.2 312.4L254.3 315.8L257.6 317.7L235.7 334.2Z"/><path fill="#0030ff" d="M262.4 220.6L260.3 213.0L256.0 219.7Z"/><path fill="#0050ff" d="M308.7 220.1L305.1 212.0L301.4 220.1Z"/><path fill="#00ffff" d="M189.6 204.3L187.0 209.7L184.5 206.9L183.6 219.2L192.6 210.7L188.8 210.6L191.4 205.2Z"/><path fill="#0000cf" d="M196.8 243.7L199.2 246.1L199.4 242.7Z"/><path fill="#0030ff" d="M285.3 220.0L281.9 213.2L279.0 220.3Z"/><path fill="#00009f" d="M235.7 212.4L236.3 213.8L236.9 212.4Z"/><path fill="#0000df" d="M115.6 364.7L112.5 362.1L112.6 366.1Z"/><path fill="#0000cf" d="M237.6 181.6L236.3 178.7L235.0 181.6Z"/><path fill="#0070ff" d="M108.7 300.8L98.3 299.5L104.2 308.1Z"/><path fill="#0000bf" d="M190.5 242.2L188.2 243.2L190.5 244.2Z"/><path fill="#0000df" d="M215.2 220.1L213.4 216.2L211.6 220.1Z"/><path fill="#00afff" d="M220.4 265.5L218.3 267.4L217.0 263.8L211.7 275.0L223.2 270.4L219.7 268.9L221.7 266.9Z"/></g><path d="M154.4 157.3H170.8M162.6 149.1V165.5M156.8 151.5L168.4 163.1M156.8 163.1L168.4 151.5" stroke="#ff0000" stroke-width="1.15" fill="none"/><path d="M163.4 250.1H179.8M171.6 241.9V258.3M165.8 244.3L177.4 255.9M165.8 255.9L177.4 244.3" stroke="#ff0000" stroke-width="1.15" fill="none"/><path d="M60.0 320.8H76.4M68.2 312.6V329.0M62.4 315.0L74.0 326.6M62.4 326.6L74.0 315.0" stroke="#ff0000" stroke-width="1.15" fill="none"/>
</g>
<rect x="0" y="0" width="348.0" height="427.5" fill="none" stroke="#000" stroke-width="1"/>

<text x="-7" y="7.0" font-size="19.5" text-anchor="end" fill="#000" textLength="46" lengthAdjust="spacingAndGlyphs">37°N</text>
<text x="-7" y="151.3" font-size="19.5" text-anchor="end" fill="#000" textLength="46" lengthAdjust="spacingAndGlyphs">36°N</text>
<text x="-7" y="293.8" font-size="19.5" text-anchor="end" fill="#000" textLength="46" lengthAdjust="spacingAndGlyphs">35°N</text>
<text x="-7" y="434.5" font-size="19.5" text-anchor="end" fill="#000" textLength="46" lengthAdjust="spacingAndGlyphs">34°N</text>
<text x="-6" y="77.4" font-size="14.5" text-anchor="end" fill="#000" textLength="21.5" lengthAdjust="spacingAndGlyphs">30'</text>
<text x="-6" y="220.7" font-size="14.5" text-anchor="end" fill="#000" textLength="21.5" lengthAdjust="spacingAndGlyphs">30'</text>
<text x="-6" y="362.3" font-size="14.5" text-anchor="end" fill="#000" textLength="21.5" lengthAdjust="spacingAndGlyphs">30'</text>
<text x="0" y="448" font-size="19.5" text-anchor="middle" fill="#000" textLength="50.5" lengthAdjust="spacingAndGlyphs">77°W</text>
<text x="116" y="448" font-size="19.5" text-anchor="middle" fill="#000" textLength="50.5" lengthAdjust="spacingAndGlyphs">76°W</text>
<text x="232" y="448" font-size="19.5" text-anchor="middle" fill="#000" textLength="50.5" lengthAdjust="spacingAndGlyphs">75°W</text>
<text x="348" y="448" font-size="19.5" text-anchor="middle" fill="#000" textLength="50.5" lengthAdjust="spacingAndGlyphs">74°W</text>
<text x="58" y="443.5" font-size="14.5" text-anchor="middle" fill="#000" textLength="21.5" lengthAdjust="spacingAndGlyphs">30'</text>
<text x="174" y="443.5" font-size="14.5" text-anchor="middle" fill="#000" textLength="21.5" lengthAdjust="spacingAndGlyphs">30'</text>
<text x="290" y="443.5" font-size="14.5" text-anchor="middle" fill="#000" textLength="21.5" lengthAdjust="spacingAndGlyphs">30'</text>
<text x="73.7" y="-13.5" font-size="23" font-weight="bold" fill="#000" textLength="200.5" lengthAdjust="spacingAndGlyphs">2023-05-30 02:00</text><text x="43" y="-28.3" font-size="19.5" fill="#3a3a3a" textLength="46.5" lengthAdjust="spacingAndGlyphs">cm/s</text><text x="10.5" y="0.4" font-size="19.5" fill="#333">0</text><text x="19.3" y="0.4" font-size="19.5" fill="#333">5</text><text x="28.1" y="0.4" font-size="19.5" fill="#333">10</text><text x="36.900000000000006" y="0.4" font-size="19.5" fill="#333">15</text><text x="45.7" y="0.4" font-size="19.5" fill="#333">20</text><text x="54.5" y="0.4" font-size="19.5" fill="#333">25</text><text x="63.300000000000004" y="0.4" font-size="19.5" fill="#333">30</text><text x="72.10000000000001" y="0.4" font-size="19.5" fill="#333">35</text><text x="80.9" y="0.4" font-size="19.5" fill="#333">40</text><text x="89.7" y="0.4" font-size="19.5" fill="#333">45</text><text x="98.5" y="0.4" font-size="19.5" fill="#333">50</text><text x="107.30000000000001" y="0.4" font-size="19.5" fill="#333">55</text><text x="116.10000000000001" y="0.4" font-size="19.5" fill="#333">60</text><text x="8.0" y="0.5" font-size="19.5" fill="#333">2</text><text x="15.9" y="0.5" font-size="19.5" fill="#333">7</text><text x="23.8" y="0.5" font-size="19.5" fill="#333">12</text><text x="31.700000000000003" y="0.5" font-size="19.5" fill="#333">17</text><text x="39.6" y="0.5" font-size="19.5" fill="#333">22</text><text x="47.5" y="0.5" font-size="19.5" fill="#333">27</text><text x="55.400000000000006" y="0.5" font-size="19.5" fill="#333">32</text><text x="63.300000000000004" y="0.5" font-size="19.5" fill="#333">37</text><text x="71.2" y="0.5" font-size="19.5" fill="#333">42</text><text x="79.10000000000001" y="0.5" font-size="19.5" fill="#333">47</text><text x="87.0" y="0.5" font-size="19.5" fill="#333">52</text><text x="94.9" y="0.5" font-size="19.5" fill="#333">57</text><text x="102.80000000000001" y="0.5" font-size="19.5" fill="#333">62</text><text x="110.7" y="0.5" font-size="19.5" fill="#333">65</text><text x="6.5" y="0.6" font-size="19.5" fill="#2a2a2a">0</text><text x="12.4" y="0.6" font-size="19.5" fill="#2a2a2a">3</text><text x="18.3" y="0.6" font-size="19.5" fill="#2a2a2a">6</text><text x="24.200000000000003" y="0.6" font-size="19.5" fill="#2a2a2a">9</text><text x="30.1" y="0.6" font-size="19.5" fill="#2a2a2a">8</text><text x="36.0" y="0.6" font-size="19.5" fill="#2a2a2a">5</text><text x="41.900000000000006" y="0.6" font-size="19.5" fill="#2a2a2a">6</text><text x="47.800000000000004" y="0.6" font-size="19.5" fill="#2a2a2a">3</text><text x="53.7" y="0.6" font-size="19.5" fill="#2a2a2a">8</text><text x="59.6" y="0.6" font-size="19.5" fill="#2a2a2a">9</text><text x="65.5" y="0.6" font-size="19.5" fill="#2a2a2a">0</text><text x="71.4" y="0.6" font-size="19.5" fill="#2a2a2a">5</text><text x="77.30000000000001" y="0.6" font-size="19.5" fill="#2a2a2a">6</text><text x="83.2" y="0.6" font-size="19.5" fill="#2a2a2a">8</text><text x="89.10000000000001" y="0.6" font-size="19.5" fill="#2a2a2a">3</text><text x="95.0" y="0.6" font-size="19.5" fill="#2a2a2a">9</text><text x="100.9" y="0.6" font-size="19.5" fill="#2a2a2a">6</text><text x="106.80000000000001" y="0.6" font-size="19.5" fill="#2a2a2a">5</text><text x="112.7" y="0.6" font-size="19.5" fill="#2a2a2a">8</text><text x="118.60000000000001" y="0.6" font-size="19.5" fill="#2a2a2a">5</text><rect x="10.5" y="16" width="112" height="25" fill="url(#jet)" stroke="#262626" stroke-width="1"/><text x="274" y="63.5" font-size="19.5" fill="#000" textLength="75" lengthAdjust="spacingAndGlyphs">50 cm/s</text><text x="283.3" y="102" font-size="19.5" fill="#000" textLength="57" lengthAdjust="spacingAndGlyphs">10 km</text><path d="M307 108.3H320" stroke="#000" stroke-width="3.6" stroke-linecap="round"/>
</g>
<g transform="translate(458.5,142.5)">
<rect x="0" y="0" width="348.0" height="427.5" fill="#fff"/>
<g clip-path="url(#clip)">
<use href="#coast"/>
<path d="M58 0V427.5M116 0V427.5M174 0V427.5M232 0V427.5M290 0V427.5M0 72.4H348.0M0 144.3H348.0M0 215.7H348.0M0 286.8H348.0M0 357.3H348.0" stroke="#000" stroke-opacity="0.16" stroke-width="1" stroke-dasharray="2 5" fill="none"/>
<path d="M0 427.5v-4M0 0v4M58 427.5v-4M58 0v4M116 427.5v-4M116 0v4M174 427.5v-4M174 0v4M232 427.5v-4M232 0v4M290 427.5v-4M290 0v4M348 427.5v-4M348 0v4M0 72.4h4M348.0 72.4h-4M0 144.3h4M348.0 144.3h-4M0 215.7h4M348.0 215.7h-4M0 286.8h4M348.0 286.8h-4M0 357.3h4M348.0 357.3h-4" stroke="#000" stroke-width="1" fill="none"/>
<g shape-rendering="crispEdges"><path fill="#40ffbf" d="M270.70 131.30H285.98V139.06H270.70ZM278.34 154.55H285.98V162.28H278.34ZM293.62 177.74H301.26V185.46H293.62ZM293.62 231.67H301.26V239.36H293.62ZM301.26 262.38H308.90V270.04H301.26ZM324.18 262.38H331.82V270.04H324.18ZM316.54 285.36H324.18V293.00H316.54ZM316.54 293.00H324.18V300.65H316.54ZM301.26 308.29H308.90V315.92H301.26ZM285.98 315.92H293.62V323.55H285.98ZM224.86 376.81H232.50V384.40H224.86Z"/><path fill="#00bfff" d="M285.98 131.30H293.62V139.06H285.98ZM278.34 185.46H285.98V193.17H278.34ZM163.74 270.04H171.38V277.70H163.74ZM224.86 277.70H240.14V285.36H224.86ZM217.22 293.00H224.86V300.65H217.22ZM240.14 315.92H247.78V323.55H240.14ZM232.50 346.40H240.14V354.01H232.50Z"/><path fill="#afff50" d="M293.62 131.30H301.26V139.06H293.62ZM331.82 200.88H339.46V208.59H331.82ZM331.82 216.29H339.46V223.98H331.82ZM308.90 223.98H316.54V231.67H308.90ZM331.82 223.98H339.46V231.67H331.82ZM308.90 231.67H316.54V239.36H308.90ZM308.90 277.70H316.54V285.36H308.90ZM308.90 308.29H316.54V315.92H308.90ZM263.06 323.55H278.34V331.17H263.06ZM301.26 323.55H308.90V331.17H301.26ZM270.70 331.17H285.98V338.79H270.70ZM255.42 338.79H263.06V346.40H255.42Z"/><path fill="#30ffcf" d="M270.70 139.06H278.34V146.80H270.70ZM316.54 170.01H324.18V177.74H316.54ZM324.18 208.59H331.82V216.29H324.18ZM301.26 231.67H308.90V239.36H301.26ZM324.18 247.04H331.82V254.71H324.18ZM324.18 277.70H331.82V285.36H324.18ZM186.66 285.36H194.30V293.00H186.66ZM316.54 300.65H324.18V308.29H316.54ZM308.90 315.92H316.54V323.55H308.90Z"/><path fill="#00ffff" d="M278.34 139.06H285.98V146.80H278.34ZM270.70 146.80H278.34V154.55H270.70ZM285.98 154.55H293.62V162.28H285.98ZM293.62 170.01H301.26V177.74H293.62ZM316.54 223.98H331.82V231.67H316.54ZM324.18 239.36H331.82V247.04H324.18ZM316.54 247.04H324.18V254.71H316.54ZM301.26 254.71H316.54V262.38H301.26ZM117.90 277.70H125.54V285.36H117.90ZM240.14 293.00H247.78V300.65H240.14ZM209.58 369.21H217.22V376.81H209.58ZM232.50 369.21H240.14V376.81H232.50Z"/><path fill="#00afff" d="M285.98 139.06H293.62V146.80H285.98ZM285.98 146.80H293.62V154.55H285.98ZM301.26 162.28H308.90V170.01H301.26ZM270.70 185.46H278.34V193.17H270.70ZM316.54 185.46H324.18V193.17H316.54ZM316.54 193.17H324.18V200.88H316.54ZM308.90 200.88H316.54V208.59H308.90ZM293.62 208.59H308.90V216.29H293.62ZM270.70 223.98H293.62V231.67H270.70ZM263.06 231.67H270.70V239.36H263.06ZM255.42 239.36H263.06V247.04H255.42ZM316.54 254.71H324.18V262.38H316.54ZM148.46 262.38H163.74V270.04H148.46ZM171.38 262.38H179.02V270.04H171.38ZM156.10 270.04H163.74V277.70H156.10ZM194.30 277.70H209.58V285.36H194.30ZM125.54 285.36H133.18V293.00H125.54ZM133.18 293.00H140.82V300.65H133.18ZM240.14 308.29H247.78V315.92H240.14ZM217.22 331.17H232.50V338.79H217.22ZM240.14 331.17H247.78V338.79H240.14ZM224.86 346.40H232.50V354.01H224.86ZM117.90 361.62H133.18V369.21H117.90ZM163.74 361.62H171.38V369.21H163.74ZM224.86 361.62H232.50V369.21H224.86ZM117.90 369.21H125.54V376.81H117.90ZM133.18 369.21H148.46V376.81H133.18ZM156.10 369.21H163.74V376.81H156.10ZM217.22 369.21H224.86V376.81H217.22ZM156.10 376.81H163.74V384.40H156.10Z"/><path fill="#00dfff" d="M293.62 139.06H301.26V146.80H293.62ZM301.26 154.55H308.90V162.28H301.26ZM308.90 177.74H316.54V185.46H308.90ZM308.90 185.46H316.54V193.17H308.90ZM301.26 200.88H308.90V208.59H301.26ZM316.54 216.29H331.82V223.98H316.54ZM301.26 223.98H308.90V231.67H301.26ZM316.54 231.67H324.18V239.36H316.54ZM316.54 239.36H324.18V247.04H316.54ZM324.18 254.71H331.82V262.38H324.18ZM179.02 277.70H186.66V285.36H179.02ZM209.58 277.70H217.22V285.36H209.58ZM316.54 277.70H324.18V285.36H316.54ZM102.62 369.21H110.26V376.81H102.62Z"/><path fill="#00efff" d="M278.34 146.80H285.98V154.55H278.34ZM308.90 162.28H316.54V170.01H308.90ZM301.26 170.01H316.54V177.74H301.26ZM316.54 177.74H324.18V185.46H316.54ZM308.90 193.17H316.54V200.88H308.90ZM293.62 200.88H301.26V208.59H293.62ZM316.54 200.88H324.18V208.59H316.54ZM179.02 208.59H186.66V216.29H179.02ZM316.54 208.59H324.18V216.29H316.54ZM308.90 247.04H316.54V254.71H308.90ZM232.50 262.38H240.14V270.04H232.50ZM308.90 262.38H324.18V270.04H308.90ZM125.54 270.04H133.18V277.70H125.54ZM232.50 270.04H240.14V277.70H232.50ZM186.66 277.70H194.30V285.36H186.66ZM240.14 285.36H247.78V293.00H240.14ZM240.14 300.65H247.78V308.29H240.14ZM240.14 323.55H247.78V331.17H240.14ZM232.50 361.62H240.14V369.21H232.50Z"/><path fill="#009fff" d="M293.62 146.80H301.26V154.55H293.62ZM263.06 185.46H270.70V193.17H263.06ZM285.98 193.17H293.62V200.88H285.98ZM308.90 208.59H316.54V216.29H308.90ZM308.90 216.29H316.54V223.98H308.90ZM293.62 223.98H301.26V231.67H293.62ZM247.78 247.04H255.42V254.71H247.78ZM240.14 254.71H247.78V262.38H240.14ZM102.62 300.65H110.26V308.29H102.62ZM240.14 338.79H247.78V346.40H240.14ZM217.22 346.40H224.86V354.01H217.22ZM87.34 354.01H94.98V361.62H87.34ZM217.22 354.01H224.86V361.62H217.22ZM94.98 361.62H102.62V369.21H94.98ZM217.22 361.62H224.86V369.21H217.22ZM125.54 369.21H133.18V376.81H125.54ZM224.86 369.21H232.50V376.81H224.86Z"/><path fill="#60ff9f" d="M301.26 146.80H308.90V154.55H301.26ZM316.54 162.28H324.18V170.01H316.54ZM301.26 247.04H308.90V254.71H301.26ZM308.90 285.36H316.54V293.00H308.90ZM324.18 285.36H331.82V293.00H324.18ZM263.06 315.92H270.70V323.55H263.06ZM293.62 331.17H301.26V338.79H293.62ZM278.34 338.79H285.98V346.40H278.34Z"/><path fill="#0070ff" d="M293.62 154.55H301.26V162.28H293.62ZM240.14 170.01H247.78V177.74H240.14ZM247.78 177.74H255.42V185.46H247.78ZM209.58 185.46H217.22V193.17H209.58ZM224.86 185.46H232.50V193.17H224.86ZM270.70 193.17H285.98V200.88H270.70ZM255.42 231.67H263.06V239.36H255.42ZM232.50 254.71H240.14V262.38H232.50ZM140.82 262.38H148.46V270.04H140.82ZM163.74 262.38H171.38V270.04H163.74ZM194.30 270.04H201.94V277.70H194.30ZM125.54 277.70H133.18V285.36H125.54ZM217.22 277.70H224.86V285.36H217.22ZM224.86 285.36H232.50V293.00H224.86ZM140.82 293.00H163.74V300.65H140.82ZM224.86 293.00H232.50V300.65H224.86ZM94.98 300.65H102.62V308.29H94.98ZM117.90 300.65H125.54V308.29H117.90ZM133.18 300.65H140.82V308.29H133.18ZM133.18 308.29H140.82V315.92H133.18ZM232.50 308.29H240.14V315.92H232.50ZM133.18 315.92H140.82V323.55H133.18ZM117.90 323.55H125.54V331.17H117.90ZM179.02 323.55H186.66V331.17H179.02ZM232.50 323.55H240.14V331.17H232.50ZM117.90 331.17H133.18V338.79H117.90ZM179.02 331.17H186.66V338.79H179.02ZM232.50 331.17H240.14V338.79H232.50ZM140.82 338.79H148.46V346.40H140.82ZM224.86 338.79H240.14V346.40H224.86ZM79.70 346.40H87.34V354.01H79.70ZM125.54 346.40H133.18V354.01H125.54ZM125.54 354.01H140.82V361.62H125.54ZM224.86 354.01H232.50V361.62H224.86ZM102.62 361.62H110.26V369.21H102.62ZM171.38 361.62H179.02V369.21H171.38ZM148.46 369.21H156.10V376.81H148.46ZM163.74 369.21H171.38V376.81H163.74Z"/><path fill="#20ffdf" d="M308.90 154.55H316.54V162.28H308.90ZM285.98 162.28H293.62V170.01H285.98ZM285.98 185.46H293.62V193.17H285.98ZM301.26 193.17H308.90V200.88H301.26ZM324.18 193.17H331.82V200.88H324.18ZM324.18 200.88H331.82V208.59H324.18ZM278.34 231.67H293.62V239.36H278.34ZM324.18 231.67H331.82V239.36H324.18ZM179.02 285.36H186.66V293.00H179.02ZM278.34 315.92H285.98V323.55H278.34ZM285.98 323.55H293.62V331.17H285.98Z"/><path fill="#0060ff" d="M293.62 162.28H301.26V170.01H293.62ZM224.86 177.74H232.50V185.46H224.86ZM263.06 193.17H270.70V200.88H263.06ZM270.70 200.88H278.34V208.59H270.70ZM270.70 208.59H293.62V216.29H270.70ZM285.98 216.29H293.62V223.98H285.98ZM301.26 216.29H308.90V223.98H301.26ZM263.06 223.98H270.70V231.67H263.06ZM247.78 239.36H255.42V247.04H247.78ZM240.14 247.04H247.78V254.71H240.14ZM179.02 270.04H186.66V277.70H179.02ZM209.58 270.04H217.22V277.70H209.58ZM133.18 285.36H140.82V293.00H133.18ZM232.50 293.00H240.14V300.65H232.50ZM224.86 300.65H240.14V308.29H224.86ZM102.62 308.29H110.26V315.92H102.62ZM163.74 308.29H171.38V315.92H163.74ZM179.02 308.29H186.66V315.92H179.02ZM171.38 315.92H186.66V323.55H171.38ZM232.50 315.92H240.14V323.55H232.50ZM156.10 323.55H163.74V331.17H156.10ZM224.86 323.55H232.50V331.17H224.86ZM110.26 331.17H117.90V338.79H110.26ZM140.82 331.17H148.46V338.79H140.82ZM140.82 346.40H148.46V354.01H140.82ZM171.38 354.01H179.02V361.62H171.38ZM232.50 354.01H240.14V361.62H232.50ZM163.74 376.81H171.38V384.40H163.74Z"/><path fill="#0080ff" d="M232.50 170.01H240.14V177.74H232.50ZM255.42 185.46H263.06V193.17H255.42ZM278.34 200.88H293.62V208.59H278.34ZM270.70 216.29H285.98V223.98H270.70ZM293.62 216.29H301.26V223.98H293.62ZM255.42 223.98H263.06V231.67H255.42ZM247.78 231.67H255.42V239.36H247.78ZM224.86 270.04H232.50V277.70H224.86ZM232.50 285.36H240.14V293.00H232.50ZM140.82 308.29H148.46V315.92H140.82ZM140.82 315.92H148.46V323.55H140.82ZM110.26 323.55H117.90V331.17H110.26ZM133.18 331.17H140.82V338.79H133.18ZM125.54 338.79H133.18V346.40H125.54ZM140.82 361.62H148.46V369.21H140.82ZM156.10 361.62H163.74V369.21H156.10Z"/><path fill="#80ff80" d="M324.18 170.01H331.82V177.74H324.18ZM293.62 193.17H301.26V200.88H293.62ZM331.82 208.59H339.46V216.29H331.82ZM316.54 270.04H324.18V277.70H316.54ZM324.18 293.00H331.82V300.65H324.18ZM270.70 308.29H285.98V315.92H270.70ZM301.26 315.92H308.90V323.55H301.26Z"/><path fill="#0020ff" d="M232.50 177.74H240.14V185.46H232.50ZM232.50 185.46H255.42V193.17H232.50ZM194.30 193.17H201.94V200.88H194.30ZM186.66 200.88H194.30V208.59H186.66ZM232.50 247.04H240.14V254.71H232.50ZM224.86 254.71H232.50V262.38H224.86ZM186.66 270.04H194.30V277.70H186.66ZM148.46 277.70H163.74V285.36H148.46ZM140.82 285.36H148.46V293.00H140.82ZM156.10 285.36H163.74V293.00H156.10ZM94.98 308.29H102.62V315.92H94.98ZM224.86 315.92H232.50V323.55H224.86ZM110.26 338.79H117.90V346.40H110.26ZM156.10 338.79H171.38V346.40H156.10ZM102.62 346.40H110.26V354.01H102.62ZM148.46 346.40H156.10V354.01H148.46ZM171.38 346.40H179.02V354.01H171.38Z"/><path fill="#0040ff" d="M240.14 177.74H247.78V185.46H240.14ZM201.94 193.17H232.50V200.88H201.94ZM255.42 200.88H270.70V208.59H255.42ZM186.66 208.59H194.30V216.29H186.66ZM263.06 208.59H270.70V216.29H263.06ZM186.66 262.38H201.94V270.04H186.66ZM217.22 262.38H224.86V270.04H217.22ZM217.22 270.04H224.86V277.70H217.22ZM133.18 277.70H140.82V285.36H133.18ZM148.46 285.36H156.10V293.00H148.46ZM110.26 300.65H117.90V308.29H110.26ZM125.54 300.65H133.18V308.29H125.54ZM110.26 308.29H117.90V315.92H110.26ZM125.54 308.29H133.18V315.92H125.54ZM72.06 323.55H79.70V331.17H72.06ZM102.62 323.55H110.26V331.17H102.62ZM102.62 331.17H110.26V338.79H102.62ZM148.46 331.17H163.74V338.79H148.46ZM117.90 338.79H125.54V346.40H117.90ZM148.46 338.79H156.10V346.40H148.46ZM163.74 346.40H171.38V354.01H163.74ZM110.26 354.01H125.54V361.62H110.26ZM140.82 354.01H148.46V361.62H140.82ZM110.26 361.62H117.90V369.21H110.26Z"/><path fill="#70ff8f" d="M324.18 177.74H331.82V185.46H324.18ZM324.18 185.46H331.82V193.17H324.18ZM293.62 239.36H301.26V247.04H293.62ZM308.90 239.36H316.54V247.04H308.90ZM171.38 270.04H179.02V277.70H171.38ZM308.90 270.04H316.54V277.70H308.90ZM308.90 293.00H316.54V300.65H308.90ZM301.26 300.65H316.54V308.29H301.26ZM293.62 308.29H301.26V315.92H293.62ZM316.54 308.29H324.18V315.92H316.54ZM270.70 315.92H278.34V323.55H270.70ZM278.34 323.55H285.98V331.17H278.34ZM293.62 323.55H301.26V331.17H293.62ZM285.98 331.17H293.62V338.79H285.98Z"/><path fill="#9fff60" d="M293.62 185.46H301.26V193.17H293.62ZM293.62 300.65H301.26V308.29H293.62Z"/><path fill="#0000df" d="M232.50 193.17H240.14V200.88H232.50ZM194.30 200.88H201.94V208.59H194.30ZM194.30 208.59H201.94V216.29H194.30ZM224.86 208.59H232.50V216.29H224.86ZM201.94 216.29H209.58V223.98H201.94ZM201.94 223.98H217.22V231.67H201.94ZM179.02 231.67H194.30V239.36H179.02ZM186.66 239.36H194.30V247.04H186.66ZM194.30 247.04H201.94V254.71H194.30ZM209.58 247.04H232.50V254.71H209.58ZM179.02 254.71H186.66V262.38H179.02ZM194.30 254.71H201.94V262.38H194.30ZM209.58 254.71H217.22V262.38H209.58ZM94.98 331.17H102.62V338.79H94.98ZM87.34 338.79H94.98V346.40H87.34Z"/><path fill="#0000ef" d="M240.14 193.17H255.42V200.88H240.14ZM217.22 200.88H232.50V208.59H217.22ZM240.14 200.88H255.42V208.59H240.14ZM247.78 208.59H263.06V216.29H247.78ZM194.30 216.29H201.94V223.98H194.30ZM247.78 216.29H255.42V223.98H247.78ZM201.94 254.71H209.58V262.38H201.94ZM79.70 315.92H87.34V323.55H79.70ZM94.98 315.92H102.62V323.55H94.98ZM110.26 315.92H125.54V323.55H110.26ZM87.34 323.55H102.62V331.17H87.34ZM94.98 338.79H102.62V346.40H94.98Z"/><path fill="#0030ff" d="M255.42 193.17H263.06V200.88H255.42ZM179.02 216.29H186.66V223.98H179.02ZM255.42 216.29H270.70V223.98H255.42ZM179.02 223.98H186.66V231.67H179.02ZM247.78 223.98H255.42V231.67H247.78ZM240.14 231.67H247.78V239.36H240.14ZM240.14 239.36H247.78V247.04H240.14ZM179.02 262.38H186.66V270.04H179.02ZM201.94 262.38H217.22V270.04H201.94ZM224.86 262.38H232.50V270.04H224.86ZM133.18 270.04H156.10V277.70H133.18ZM201.94 270.04H209.58V277.70H201.94ZM140.82 277.70H148.46V285.36H140.82ZM87.34 308.29H94.98V315.92H87.34ZM117.90 308.29H125.54V315.92H117.90ZM171.38 308.29H179.02V315.92H171.38ZM224.86 308.29H232.50V315.92H224.86ZM102.62 315.92H110.26V323.55H102.62ZM163.74 331.17H179.02V338.79H163.74ZM79.70 338.79H87.34V346.40H79.70ZM133.18 338.79H140.82V346.40H133.18ZM171.38 338.79H179.02V346.40H171.38ZM87.34 346.40H102.62V354.01H87.34ZM110.26 346.40H125.54V354.01H110.26ZM133.18 346.40H140.82V354.01H133.18ZM156.10 346.40H163.74V354.01H156.10ZM94.98 354.01H110.26V361.62H94.98ZM156.10 354.01H171.38V361.62H156.10ZM133.18 361.62H140.82V369.21H133.18ZM148.46 361.62H156.10V369.21H148.46Z"/><path fill="#0000ff" d="M201.94 200.88H217.22V208.59H201.94ZM232.50 200.88H240.14V208.59H232.50ZM186.66 216.29H194.30V223.98H186.66ZM186.66 223.98H194.30V231.67H186.66ZM179.02 239.36H186.66V247.04H179.02ZM232.50 239.36H240.14V247.04H232.50ZM179.02 247.04H186.66V254.71H179.02ZM171.38 254.71H179.02V262.38H171.38ZM217.22 254.71H224.86V262.38H217.22ZM87.34 315.92H94.98V323.55H87.34ZM125.54 315.92H133.18V323.55H125.54ZM79.70 323.55H87.34V331.17H79.70ZM87.34 331.17H94.98V338.79H87.34ZM102.62 338.79H110.26V346.40H102.62Z"/><path fill="#0000bf" d="M201.94 208.59H209.58V216.29H201.94ZM240.14 208.59H247.78V216.29H240.14ZM232.50 223.98H240.14V231.67H232.50ZM224.86 231.67H232.50V239.36H224.86ZM217.22 239.36H232.50V247.04H217.22ZM186.66 247.04H194.30V254.71H186.66ZM201.94 247.04H209.58V254.71H201.94ZM186.66 254.71H194.30V262.38H186.66Z"/><path fill="#0000cf" d="M209.58 208.59H224.86V216.29H209.58ZM232.50 208.59H240.14V216.29H232.50ZM209.58 216.29H247.78V223.98H209.58ZM194.30 223.98H201.94V231.67H194.30ZM217.22 223.98H232.50V231.67H217.22ZM240.14 223.98H247.78V231.67H240.14ZM194.30 231.67H224.86V239.36H194.30ZM232.50 231.67H240.14V239.36H232.50ZM194.30 239.36H217.22V247.04H194.30Z"/><path fill="#dfff20" d="M331.82 231.67H339.46V239.36H331.82ZM331.82 239.36H339.46V247.04H331.82ZM247.78 323.55H263.06V331.17H247.78ZM285.98 338.79H293.62V346.40H285.98Z"/><path fill="#ffff00" d="M331.82 247.04H339.46V254.71H331.82Z"/><path fill="#bfff40" d="M163.74 254.71H171.38V262.38H163.74ZM270.70 300.65H278.34V308.29H270.70ZM293.62 315.92H301.26V323.55H293.62ZM270.70 338.79H278.34V346.40H270.70Z"/><path fill="#ffbf00" d="M324.18 270.04H331.82V277.70H324.18ZM301.26 293.00H308.90V300.65H301.26ZM255.42 308.29H263.06V315.92H255.42ZM255.42 315.92H263.06V323.55H255.42Z"/><path fill="#800000" d="M163.74 277.70H171.38V285.36H163.74ZM163.74 285.36H171.38V293.00H163.74ZM209.58 315.92H217.22V323.55H209.58ZM201.94 331.17H217.22V338.79H201.94ZM209.58 338.79H224.86V346.40H209.58ZM209.58 346.40H217.22V354.01H209.58ZM293.62 346.40H301.26V354.01H293.62ZM201.94 354.01H217.22V361.62H201.94ZM247.78 354.01H255.42V361.62H247.78ZM194.30 361.62H217.22V369.21H194.30ZM255.42 361.62H285.98V369.21H255.42ZM171.38 369.21H209.58V376.81H171.38ZM240.14 369.21H247.78V376.81H240.14ZM255.42 369.21H270.70V376.81H255.42ZM171.38 376.81H194.30V384.40H171.38ZM232.50 376.81H247.78V384.40H232.50ZM171.38 384.40H194.30V391.98H171.38Z"/><path fill="#ffcf00" d="M171.38 277.70H179.02V285.36H171.38ZM301.26 285.36H308.90V293.00H301.26ZM331.82 285.36H339.46V293.00H331.82ZM263.06 300.65H270.70V308.29H263.06ZM263.06 308.29H270.70V315.92H263.06ZM316.54 315.92H324.18V323.55H316.54ZM308.90 323.55H316.54V331.17H308.90ZM278.34 346.40H285.98V354.01H278.34Z"/><path fill="#ff8f00" d="M331.82 277.70H339.46V285.36H331.82ZM171.38 285.36H179.02V293.00H171.38ZM255.42 331.17H263.06V338.79H255.42ZM301.26 331.17H316.54V338.79H301.26ZM247.78 338.79H255.42V346.40H247.78ZM270.70 346.40H278.34V354.01H270.70Z"/><path fill="#efff10" d="M217.22 300.65H224.86V308.29H217.22ZM247.78 331.17H255.42V338.79H247.78ZM263.06 331.17H270.70V338.79H263.06Z"/><path fill="#ff6000" d="M324.18 300.65H331.82V308.29H324.18Z"/><path fill="#bf0000" d="M209.58 308.29H217.22V315.92H209.58ZM247.78 369.21H255.42V376.81H247.78Z"/><path fill="#ff9f00" d="M217.22 308.29H224.86V315.92H217.22ZM247.78 315.92H255.42V323.55H247.78Z"/><path fill="#ffdf00" d="M285.98 308.29H293.62V315.92H285.98ZM263.06 338.79H270.70V346.40H263.06ZM293.62 338.79H301.26V346.40H293.62Z"/><path fill="#ff1000" d="M324.18 308.29H331.82V315.92H324.18ZM263.06 354.01H285.98V361.62H263.06Z"/><path fill="#ff8000" d="M217.22 315.92H224.86V323.55H217.22ZM240.14 346.40H247.78V354.01H240.14ZM263.06 346.40H270.70V354.01H263.06ZM240.14 361.62H247.78V369.21H240.14Z"/><path fill="#ff0000" d="M217.22 323.55H224.86V331.17H217.22ZM301.26 338.79H308.90V346.40H301.26ZM247.78 346.40H255.42V354.01H247.78Z"/><path fill="#cf0000" d="M316.54 323.55H324.18V331.17H316.54Z"/><path fill="#ff5000" d="M255.42 346.40H263.06V354.01H255.42ZM255.42 354.01H263.06V361.62H255.42Z"/><path fill="#ff2000" d="M285.98 346.40H293.62V354.01H285.98Z"/><path fill="#ff4000" d="M240.14 354.01H247.78V361.62H240.14Z"/><path fill="#df0000" d="M247.78 361.62H255.42V369.21H247.78Z"/></g>
<path d="M131.0 273.9L129.4 276.3M167.6 274.1L161.3 281.5M161.3 281.5L161.3 289.2M171.5 258.5L167.6 264.1M175.2 267.2L168.5 273.9M168.5 273.9L167.6 274.1M175.2 366.3L168.4 373.0M168.4 373.0L168.4 380.6M180.2 273.9L175.2 267.2M180.2 273.9L182.8 279.1M184.4 212.4L182.8 214.0M190.5 279.9L182.8 279.1M195.3 281.5L190.5 279.9M213.4 279.1L208.6 281.5M215.8 281.5L213.4 279.1M220.8 335.0L221.0 335.2M221.0 350.0L220.8 350.2M220.8 350.2L220.8 357.8M220.8 357.8L220.8 365.4M220.8 365.4L218.2 373.0M226.9 304.5L221.0 297.4M226.9 304.5L226.7 312.1M226.7 312.1L226.7 319.7M226.7 319.7L227.6 327.4M227.6 327.4L221.0 334.7M227.8 342.6L221.0 335.2M227.8 342.6L221.0 350.0M236.3 263.8L234.7 266.2M234.7 266.2L233.9 273.9M233.9 273.9L236.3 278.7M236.3 363.0L231.5 365.4M231.5 365.4L231.5 373.0M231.5 373.0L228.7 374.4M241.6 289.2L241.6 296.8M241.6 296.8L241.6 304.5M241.6 304.5L244.0 309.2M244.0 322.6L241.6 327.4M241.6 327.4L244.0 332.1M244.0 343.0L236.7 350.2M236.7 350.2L237.5 357.8M237.5 357.8L236.3 363.0M244.4 319.7L244.0 322.6M244.5 335.0L244.0 332.1M244.5 335.0L244.4 342.6M244.4 342.6L244.0 343.0M288.4 135.2L286.9 142.9M286.9 142.9L286.9 150.7M286.9 150.7L289.8 153.6M283.6 189.3L289.8 195.6M289.8 229.3L282.2 229.3M290.5 135.2L292.7 142.9M292.7 142.9L297.4 147.8M292.2 158.4L289.8 153.6M292.2 158.4L293.9 166.1M290.8 197.0L289.8 195.6M290.8 197.0L295.1 204.7M295.1 204.7L297.4 209.6M297.4 229.3L289.8 229.3M298.4 150.7L302.7 158.4M302.7 158.4L305.1 163.2M305.1 169.0L297.4 171.5M305.1 209.6L297.4 209.6M305.1 225.4L300.3 227.8M300.3 227.8L297.4 229.3M307.9 166.1L305.1 163.2M307.9 166.1L305.1 169.0M312.7 201.8L309.9 204.7M309.9 204.7L305.1 209.6M312.7 220.9L305.1 225.4M320.4 186.4L317.5 189.3M317.5 189.3L317.5 197.0M317.5 197.0L320.4 199.9M315.6 204.7L312.7 201.8M315.6 204.7L315.6 212.4M315.6 212.4L315.6 220.1M315.6 220.1L312.7 220.9M320.4 255.7L317.5 258.5M317.5 258.5L320.4 261.4M321.3 189.3L320.4 186.4M321.3 189.3L321.8 197.0M321.8 197.0L320.4 199.9M323.2 258.5L320.4 255.7M323.2 258.5L320.4 261.4" stroke="#000" stroke-width="0.9" fill="none" stroke-linecap="round"/><g transform="translate(290,162) rotate(25)"><text x="0" y="4.68" font-size="13" text-anchor="middle" fill="#000">1.25</text></g><g transform="translate(302,222) rotate(20)"><text x="0" y="4.68" font-size="13" text-anchor="middle" fill="#000">1.25</text></g><g transform="translate(177,284) rotate(-15)"><text x="0" y="4.68" font-size="13" text-anchor="middle" fill="#000">1.25</text></g><g transform="translate(221,352) rotate(-85)"><text x="0" y="4.68" font-size="13" text-anchor="middle" fill="#000">1.25</text></g><g transform="translate(243,330) rotate(-85)"><text x="0" y="4.68" font-size="13" text-anchor="middle" fill="#000">1.25</text></g><path d="M154.4 157.3H170.8M162.6 149.1V165.5M156.8 151.5L168.4 163.1M156.8 163.1L168.4 151.5" stroke="#ff0000" stroke-width="1.15" fill="none"/><path d="M163.4 250.1H179.8M171.6 241.9V258.3M165.8 244.3L177.4 255.9M165.8 255.9L177.4 244.3" stroke="#ff0000" stroke-width="1.15" fill="none"/><path d="M60.0 320.8H76.4M68.2 312.6V329.0M62.4 315.0L74.0 326.6M62.4 326.6L74.0 315.0" stroke="#ff0000" stroke-width="1.15" fill="none"/>
</g>
<rect x="0" y="0" width="348.0" height="427.5" fill="none" stroke="#000" stroke-width="1"/>

<text x="-7" y="7.0" font-size="19.5" text-anchor="end" fill="#000" textLength="46" lengthAdjust="spacingAndGlyphs">37°N</text>
<text x="-7" y="151.3" font-size="19.5" text-anchor="end" fill="#000" textLength="46" lengthAdjust="spacingAndGlyphs">36°N</text>
<text x="-7" y="293.8" font-size="19.5" text-anchor="end" fill="#000" textLength="46" lengthAdjust="spacingAndGlyphs">35°N</text>
<text x="-7" y="434.5" font-size="19.5" text-anchor="end" fill="#000" textLength="46" lengthAdjust="spacingAndGlyphs">34°N</text>
<text x="-6" y="77.4" font-size="14.5" text-anchor="end" fill="#000" textLength="21.5" lengthAdjust="spacingAndGlyphs">30'</text>
<text x="-6" y="220.7" font-size="14.5" text-anchor="end" fill="#000" textLength="21.5" lengthAdjust="spacingAndGlyphs">30'</text>
<text x="-6" y="362.3" font-size="14.5" text-anchor="end" fill="#000" textLength="21.5" lengthAdjust="spacingAndGlyphs">30'</text>
<text x="0" y="448" font-size="19.5" text-anchor="middle" fill="#000" textLength="50.5" lengthAdjust="spacingAndGlyphs">77°W</text>
<text x="116" y="448" font-size="19.5" text-anchor="middle" fill="#000" textLength="50.5" lengthAdjust="spacingAndGlyphs">76°W</text>
<text x="232" y="448" font-size="19.5" text-anchor="middle" fill="#000" textLength="50.5" lengthAdjust="spacingAndGlyphs">75°W</text>
<text x="348" y="448" font-size="19.5" text-anchor="middle" fill="#000" textLength="50.5" lengthAdjust="spacingAndGlyphs">74°W</text>
<text x="58" y="443.5" font-size="14.5" text-anchor="middle" fill="#000" textLength="21.5" lengthAdjust="spacingAndGlyphs">30'</text>
<text x="174" y="443.5" font-size="14.5" text-anchor="middle" fill="#000" textLength="21.5" lengthAdjust="spacingAndGlyphs">30'</text>
<text x="290" y="443.5" font-size="14.5" text-anchor="middle" fill="#000" textLength="21.5" lengthAdjust="spacingAndGlyphs">30'</text>
<text x="55.4" y="-11.7" font-size="20" font-weight="bold" fill="#000" textLength="236" lengthAdjust="spacingAndGlyphs">GDOP TotalErrors (1.25)</text><text x="2.8" y="7.2" font-size="19.5" text-anchor="middle" fill="#3a3a3a">0</text><text x="59.5" y="7.2" font-size="19.5" text-anchor="middle" fill="#3a3a3a">2</text><text x="115.5" y="7.2" font-size="19.5" text-anchor="middle" fill="#3a3a3a">4</text><rect x="3.3" y="19.9" width="114" height="25.1" fill="url(#jet)" stroke="#262626" stroke-width="1"/><text x="283.8" y="37" font-size="19.5" fill="#000" textLength="57" lengthAdjust="spacingAndGlyphs">10 km</text><path d="M305 43.1H321" stroke="#000" stroke-width="3.6" stroke-linecap="round"/>
</g>
<g transform="translate(843.6,142.5)">
<rect x="0" y="0" width="348.0" height="427.5" fill="#fff"/>
<g clip-path="url(#clip)">
<use href="#coast"/>
<path d="M58 0V427.5M116 0V427.5M174 0V427.5M232 0V427.5M290 0V427.5M0 72.4H348.0M0 144.3H348.0M0 215.7H348.0M0 286.8H348.0M0 357.3H348.0" stroke="#000" stroke-opacity="0.16" stroke-width="1" stroke-dasharray="2 5" fill="none"/>
<path d="M0 427.5v-4M0 0v4M58 427.5v-4M58 0v4M116 427.5v-4M116 0v4M174 427.5v-4M174 0v4M232 427.5v-4M232 0v4M290 427.5v-4M290 0v4M348 427.5v-4M348 0v4M0 72.4h4M348.0 72.4h-4M0 144.3h4M348.0 144.3h-4M0 215.7h4M348.0 215.7h-4M0 286.8h4M348.0 286.8h-4M0 357.3h4M348.0 357.3h-4" stroke="#000" stroke-width="1" fill="none"/>
<g shape-rendering="crispEdges"><path fill="#00008f" d="M125.54 0.00H140.82V6.53H125.54ZM148.46 0.00H186.66V6.53H148.46ZM194.30 0.00H240.14V6.53H194.30ZM247.78 0.00H278.34V6.53H247.78ZM308.90 0.00H339.46V6.53H308.90ZM125.54 6.53H171.38V14.37H125.54ZM179.02 6.53H331.82V14.37H179.02ZM140.82 14.37H224.86V22.21H140.82ZM240.14 14.37H331.82V22.21H240.14ZM140.82 22.21H156.10V30.03H140.82ZM179.02 22.21H217.22V30.03H179.02ZM224.86 22.21H232.50V30.03H224.86ZM240.14 22.21H270.70V30.03H240.14ZM278.34 22.21H301.26V30.03H278.34ZM308.90 22.21H324.18V30.03H308.90ZM331.82 22.21H339.46V30.03H331.82ZM194.30 30.03H270.70V37.86H194.30ZM278.34 30.03H331.82V37.86H278.34ZM232.50 37.86H293.62V45.67H232.50ZM301.26 37.86H316.54V45.67H301.26ZM240.14 45.67H331.82V53.49H240.14ZM247.78 53.49H278.34V61.29H247.78ZM285.98 53.49H308.90V61.29H285.98ZM316.54 53.49H339.46V61.29H316.54ZM255.42 61.29H331.82V69.09H255.42ZM263.06 69.09H308.90V76.89H263.06ZM324.18 69.09H339.46V76.89H324.18ZM270.70 76.89H301.26V84.68H270.70ZM308.90 76.89H316.54V84.68H308.90ZM324.18 76.89H339.46V84.68H324.18ZM278.34 84.68H285.98V92.46H278.34ZM293.62 84.68H301.26V92.46H293.62ZM308.90 84.68H331.82V92.46H308.90ZM278.34 92.46H293.62V100.24H278.34ZM301.26 92.46H308.90V100.24H301.26ZM316.54 92.46H331.82V100.24H316.54ZM285.98 100.24H331.82V108.02H285.98ZM285.98 108.02H339.46V115.78H285.98ZM285.98 115.78H331.82V123.55H285.98ZM293.62 123.55H301.26V131.30H293.62ZM301.26 131.30H324.18V139.06H301.26ZM301.26 139.06H324.18V146.80H301.26ZM316.54 146.80H324.18V154.55H316.54ZM316.54 154.55H324.18V162.28H316.54ZM347.10 300.65H348.00V308.29H347.10ZM331.82 308.29H348.00V315.92H331.82ZM331.82 315.92H348.00V323.55H331.82ZM331.82 323.55H339.46V331.17H331.82ZM347.10 323.55H348.00V331.17H347.10ZM316.54 331.17H331.82V338.79H316.54ZM339.46 331.17H348.00V338.79H339.46ZM3.30 338.79H18.58V346.40H3.30ZM26.22 338.79H41.50V346.40H26.22ZM49.14 338.79H56.78V346.40H49.14ZM316.54 338.79H331.82V346.40H316.54ZM3.30 346.40H10.94V354.01H3.30ZM18.58 346.40H56.78V354.01H18.58ZM308.90 346.40H348.00V354.01H308.90ZM3.30 354.01H41.50V361.62H3.30ZM293.62 354.01H324.18V361.62H293.62ZM331.82 354.01H348.00V361.62H331.82ZM3.30 361.62H33.86V369.21H3.30ZM285.98 361.62H316.54V369.21H285.98ZM324.18 361.62H348.00V369.21H324.18ZM3.30 369.21H33.86V376.81H3.30ZM270.70 369.21H285.98V376.81H270.70ZM293.62 369.21H324.18V376.81H293.62ZM331.82 369.21H348.00V376.81H331.82ZM3.30 376.81H33.86V384.40H3.30ZM201.94 376.81H209.58V384.40H201.94ZM270.70 376.81H301.26V384.40H270.70ZM308.90 376.81H324.18V384.40H308.90ZM331.82 376.81H348.00V384.40H331.82ZM10.94 384.40H18.58V391.98H10.94ZM26.22 384.40H33.86V391.98H26.22ZM117.90 384.40H125.54V391.98H117.90ZM140.82 384.40H148.46V391.98H140.82ZM186.66 384.40H232.50V391.98H186.66ZM247.78 384.40H270.70V391.98H247.78ZM278.34 384.40H285.98V391.98H278.34ZM293.62 384.40H316.54V391.98H293.62ZM331.82 384.40H347.10V391.98H331.82ZM3.30 391.98H33.86V399.56H3.30ZM110.26 391.98H125.54V399.56H110.26ZM133.18 391.98H163.74V399.56H133.18ZM179.02 391.98H186.66V399.56H179.02ZM194.30 391.98H224.86V399.56H194.30ZM240.14 391.98H255.42V399.56H240.14ZM263.06 391.98H270.70V399.56H263.06ZM278.34 391.98H293.62V399.56H278.34ZM301.26 391.98H308.90V399.56H301.26ZM316.54 391.98H324.18V399.56H316.54ZM339.46 391.98H348.00V399.56H339.46ZM10.94 399.56H18.58V407.14H10.94ZM26.22 399.56H49.14V407.14H26.22ZM102.62 399.56H125.54V407.14H102.62ZM133.18 399.56H201.94V407.14H133.18ZM209.58 399.56H278.34V407.14H209.58ZM285.98 399.56H301.26V407.14H285.98ZM308.90 399.56H339.46V407.14H308.90ZM347.10 399.56H348.00V407.14H347.10ZM3.30 407.14H26.22V414.70H3.30ZM41.50 407.14H64.42V414.70H41.50ZM94.98 407.14H102.62V414.70H94.98ZM110.26 407.14H133.18V414.70H110.26ZM140.82 407.14H224.86V414.70H140.82ZM263.06 407.14H285.98V414.70H263.06ZM293.62 407.14H339.46V414.70H293.62ZM347.10 407.14H348.00V414.70H347.10ZM10.94 414.70H26.22V422.27H10.94ZM33.86 414.70H79.70V422.27H33.86ZM94.98 414.70H102.62V422.27H94.98ZM110.26 414.70H163.74V422.27H110.26ZM171.38 414.70H179.02V422.27H171.38ZM186.66 414.70H247.78V422.27H186.66ZM255.42 414.70H263.06V422.27H255.42ZM270.70 414.70H331.82V422.27H270.70ZM3.30 422.27H49.14V427.50H3.30ZM56.78 422.27H72.06V427.50H56.78ZM79.70 422.27H125.54V427.50H79.70ZM133.18 422.27H171.38V427.50H133.18ZM179.02 422.27H186.66V427.50H179.02ZM194.30 422.27H224.86V427.50H194.30ZM240.14 422.27H263.06V427.50H240.14ZM270.70 422.27H293.62V427.50H270.70ZM301.26 422.27H308.90V427.50H301.26ZM316.54 422.27H348.00V427.50H316.54Z"/><path fill="#00009f" d="M140.82 0.00H148.46V6.53H140.82ZM186.66 0.00H194.30V6.53H186.66ZM240.14 0.00H247.78V6.53H240.14ZM278.34 0.00H308.90V6.53H278.34ZM171.38 6.53H179.02V14.37H171.38ZM133.18 14.37H140.82V22.21H133.18ZM224.86 14.37H240.14V22.21H224.86ZM331.82 14.37H339.46V22.21H331.82ZM133.18 22.21H140.82V30.03H133.18ZM156.10 22.21H179.02V30.03H156.10ZM217.22 22.21H224.86V30.03H217.22ZM232.50 22.21H240.14V30.03H232.50ZM270.70 22.21H278.34V30.03H270.70ZM301.26 22.21H308.90V30.03H301.26ZM324.18 22.21H331.82V30.03H324.18ZM133.18 30.03H140.82V37.86H133.18ZM186.66 30.03H194.30V37.86H186.66ZM270.70 30.03H278.34V37.86H270.70ZM224.86 37.86H232.50V45.67H224.86ZM293.62 37.86H301.26V45.67H293.62ZM316.54 37.86H331.82V45.67H316.54ZM278.34 53.49H285.98V61.29H278.34ZM308.90 53.49H316.54V61.29H308.90ZM331.82 61.29H347.10V69.09H331.82ZM308.90 69.09H324.18V76.89H308.90ZM301.26 76.89H308.90V84.68H301.26ZM316.54 76.89H324.18V84.68H316.54ZM270.70 84.68H278.34V92.46H270.70ZM285.98 84.68H293.62V92.46H285.98ZM301.26 84.68H308.90V92.46H301.26ZM331.82 84.68H339.46V92.46H331.82ZM293.62 92.46H301.26V100.24H293.62ZM308.90 92.46H316.54V100.24H308.90ZM331.82 92.46H339.46V100.24H331.82ZM278.34 100.24H285.98V108.02H278.34ZM301.26 123.55H324.18V131.30H301.26ZM293.62 131.30H301.26V139.06H293.62ZM324.18 131.30H331.82V139.06H324.18ZM293.62 139.06H301.26V146.80H293.62ZM324.18 139.06H331.82V146.80H324.18ZM301.26 146.80H316.54V154.55H301.26ZM308.90 154.55H316.54V162.28H308.90ZM324.18 154.55H331.82V162.28H324.18ZM3.30 277.70H10.94V285.36H3.30ZM339.46 300.65H347.10V308.29H339.46ZM324.18 315.92H331.82V323.55H324.18ZM3.30 323.55H10.94V331.17H3.30ZM324.18 323.55H331.82V331.17H324.18ZM339.46 323.55H347.10V331.17H339.46ZM3.30 331.17H26.22V338.79H3.30ZM331.82 331.17H339.46V338.79H331.82ZM18.58 338.79H26.22V346.40H18.58ZM41.50 338.79H49.14V346.40H41.50ZM308.90 338.79H316.54V346.40H308.90ZM331.82 338.79H348.00V346.40H331.82ZM10.94 346.40H18.58V354.01H10.94ZM301.26 346.40H308.90V354.01H301.26ZM41.50 354.01H49.14V361.62H41.50ZM324.18 354.01H331.82V361.62H324.18ZM33.86 361.62H41.50V369.21H33.86ZM278.34 361.62H285.98V369.21H278.34ZM316.54 361.62H324.18V369.21H316.54ZM194.30 369.21H201.94V376.81H194.30ZM263.06 369.21H270.70V376.81H263.06ZM285.98 369.21H293.62V376.81H285.98ZM324.18 369.21H331.82V376.81H324.18ZM186.66 376.81H201.94V384.40H186.66ZM209.58 376.81H217.22V384.40H209.58ZM255.42 376.81H270.70V384.40H255.42ZM301.26 376.81H308.90V384.40H301.26ZM324.18 376.81H331.82V384.40H324.18ZM3.30 384.40H10.94V391.98H3.30ZM18.58 384.40H26.22V391.98H18.58ZM33.86 384.40H41.50V391.98H33.86ZM110.26 384.40H117.90V391.98H110.26ZM148.46 384.40H156.10V391.98H148.46ZM232.50 384.40H247.78V391.98H232.50ZM270.70 384.40H278.34V391.98H270.70ZM285.98 384.40H293.62V391.98H285.98ZM316.54 384.40H331.82V391.98H316.54ZM347.10 384.40H348.00V391.98H347.10ZM33.86 391.98H41.50V399.56H33.86ZM102.62 391.98H110.26V399.56H102.62ZM125.54 391.98H133.18V399.56H125.54ZM163.74 391.98H179.02V399.56H163.74ZM186.66 391.98H194.30V399.56H186.66ZM224.86 391.98H240.14V399.56H224.86ZM255.42 391.98H263.06V399.56H255.42ZM270.70 391.98H278.34V399.56H270.70ZM293.62 391.98H301.26V399.56H293.62ZM308.90 391.98H316.54V399.56H308.90ZM324.18 391.98H339.46V399.56H324.18ZM3.30 399.56H10.94V407.14H3.30ZM18.58 399.56H26.22V407.14H18.58ZM49.14 399.56H56.78V407.14H49.14ZM94.98 399.56H102.62V407.14H94.98ZM125.54 399.56H133.18V407.14H125.54ZM201.94 399.56H209.58V407.14H201.94ZM278.34 399.56H285.98V407.14H278.34ZM301.26 399.56H308.90V407.14H301.26ZM339.46 399.56H347.10V407.14H339.46ZM26.22 407.14H41.50V414.70H26.22ZM102.62 407.14H110.26V414.70H102.62ZM133.18 407.14H140.82V414.70H133.18ZM224.86 407.14H263.06V414.70H224.86ZM285.98 407.14H293.62V414.70H285.98ZM339.46 407.14H347.10V414.70H339.46ZM3.30 414.70H10.94V422.27H3.30ZM26.22 414.70H33.86V422.27H26.22ZM79.70 414.70H94.98V422.27H79.70ZM102.62 414.70H110.26V422.27H102.62ZM163.74 414.70H171.38V422.27H163.74ZM179.02 414.70H186.66V422.27H179.02ZM247.78 414.70H255.42V422.27H247.78ZM263.06 414.70H270.70V422.27H263.06ZM331.82 414.70H348.00V422.27H331.82ZM49.14 422.27H56.78V427.50H49.14ZM72.06 422.27H79.70V427.50H72.06ZM125.54 422.27H133.18V427.50H125.54ZM171.38 422.27H179.02V427.50H171.38ZM186.66 422.27H194.30V427.50H186.66ZM224.86 422.27H240.14V427.50H224.86ZM263.06 422.27H270.70V427.50H263.06ZM293.62 422.27H301.26V427.50H293.62ZM308.90 422.27H316.54V427.50H308.90Z"/><path fill="#0000cf" d="M339.46 0.00H347.10V6.53H339.46ZM339.46 6.53H347.10V14.37H339.46ZM339.46 14.37H348.00V22.21H339.46ZM339.46 22.21H347.10V30.03H339.46ZM339.46 30.03H348.00V37.86H339.46ZM186.66 37.86H194.30V45.67H186.66ZM331.82 37.86H347.10V45.67H331.82ZM339.46 45.67H347.10V53.49H339.46ZM339.46 53.49H348.00V61.29H339.46ZM240.14 61.29H247.78V69.09H240.14ZM247.78 69.09H255.42V76.89H247.78ZM339.46 69.09H348.00V76.89H339.46ZM339.46 76.89H348.00V84.68H339.46ZM339.46 84.68H347.10V92.46H339.46ZM339.46 92.46H348.00V100.24H339.46ZM270.70 100.24H278.34V108.02H270.70ZM331.82 100.24H347.10V108.02H331.82ZM270.70 108.02H278.34V115.78H270.70ZM339.46 108.02H347.10V115.78H339.46ZM278.34 115.78H285.98V123.55H278.34ZM331.82 115.78H347.10V123.55H331.82ZM285.98 131.30H293.62V139.06H285.98ZM331.82 131.30H339.46V139.06H331.82ZM285.98 139.06H293.62V146.80H285.98ZM316.54 162.28H324.18V170.01H316.54ZM339.46 293.00H347.10V300.65H339.46ZM194.30 323.55H201.94V331.17H194.30ZM171.38 338.79H179.02V346.40H171.38ZM301.26 338.79H308.90V346.40H301.26ZM171.38 346.40H179.02V354.01H171.38ZM194.30 346.40H201.94V354.01H194.30ZM49.14 354.01H56.78V361.62H49.14ZM171.38 354.01H186.66V361.62H171.38ZM278.34 354.01H285.98V361.62H278.34ZM194.30 361.62H209.58V369.21H194.30ZM263.06 361.62H270.70V369.21H263.06ZM179.02 369.21H186.66V376.81H179.02ZM209.58 369.21H232.50V376.81H209.58ZM247.78 369.21H255.42V376.81H247.78ZM33.86 376.81H41.50V384.40H33.86ZM156.10 376.81H171.38V384.40H156.10ZM102.62 384.40H110.26V391.98H102.62ZM49.14 391.98H56.78V399.56H49.14ZM94.98 391.98H102.62V399.56H94.98ZM87.34 399.56H94.98V407.14H87.34Z"/><path fill="#0000bf" d="M347.10 0.00H348.00V6.53H347.10ZM331.82 6.53H339.46V14.37H331.82ZM347.10 6.53H348.00V14.37H347.10ZM347.10 22.21H348.00V30.03H347.10ZM148.46 30.03H179.02V37.86H148.46ZM331.82 30.03H339.46V37.86H331.82ZM140.82 37.86H148.46V45.67H140.82ZM194.30 37.86H201.94V45.67H194.30ZM209.58 37.86H217.22V45.67H209.58ZM224.86 45.67H232.50V53.49H224.86ZM331.82 45.67H339.46V53.49H331.82ZM347.10 61.29H348.00V69.09H347.10ZM263.06 84.68H270.70V92.46H263.06ZM293.62 146.80H301.26V154.55H293.62ZM324.18 146.80H331.82V154.55H324.18ZM301.26 154.55H308.90V162.28H301.26ZM324.18 162.28H331.82V170.01H324.18ZM316.54 323.55H324.18V331.17H316.54ZM49.14 331.17H56.78V338.79H49.14ZM179.02 331.17H194.30V338.79H179.02ZM308.90 331.17H316.54V338.79H308.90ZM179.02 338.79H186.66V346.40H179.02ZM194.30 338.79H201.94V346.40H194.30ZM56.78 346.40H64.42V354.01H56.78ZM179.02 346.40H186.66V354.01H179.02ZM293.62 346.40H301.26V354.01H293.62ZM186.66 354.01H201.94V361.62H186.66ZM41.50 361.62H49.14V369.21H41.50ZM179.02 361.62H186.66V369.21H179.02ZM33.86 369.21H41.50V376.81H33.86ZM171.38 369.21H179.02V376.81H171.38ZM255.42 369.21H263.06V376.81H255.42ZM125.54 376.81H133.18V384.40H125.54ZM140.82 376.81H148.46V384.40H140.82ZM232.50 376.81H247.78V384.40H232.50ZM125.54 384.40H133.18V391.98H125.54ZM171.38 384.40H179.02V391.98H171.38ZM56.78 399.56H64.42V407.14H56.78ZM72.06 407.14H79.70V414.70H72.06Z"/><path fill="#0000af" d="M140.82 30.03H148.46V37.86H140.82ZM179.02 30.03H186.66V37.86H179.02ZM133.18 37.86H140.82V45.67H133.18ZM201.94 37.86H209.58V45.67H201.94ZM217.22 37.86H224.86V45.67H217.22ZM232.50 45.67H240.14V53.49H232.50ZM240.14 53.49H247.78V61.29H240.14ZM247.78 61.29H255.42V69.09H247.78ZM255.42 69.09H263.06V76.89H255.42ZM263.06 76.89H270.70V84.68H263.06ZM270.70 92.46H278.34V100.24H270.70ZM278.34 108.02H285.98V115.78H278.34ZM285.98 123.55H293.62V131.30H285.98ZM324.18 123.55H331.82V131.30H324.18ZM347.10 293.00H348.00V300.65H347.10ZM331.82 300.65H339.46V308.29H331.82ZM324.18 308.29H331.82V315.92H324.18ZM26.22 331.17H49.14V338.79H26.22ZM56.78 338.79H64.42V346.40H56.78ZM186.66 338.79H194.30V346.40H186.66ZM186.66 346.40H194.30V354.01H186.66ZM201.94 346.40H209.58V354.01H201.94ZM285.98 354.01H293.62V361.62H285.98ZM186.66 361.62H194.30V369.21H186.66ZM270.70 361.62H278.34V369.21H270.70ZM186.66 369.21H194.30V376.81H186.66ZM201.94 369.21H209.58V376.81H201.94ZM110.26 376.81H125.54V384.40H110.26ZM148.46 376.81H156.10V384.40H148.46ZM179.02 376.81H186.66V384.40H179.02ZM217.22 376.81H232.50V384.40H217.22ZM247.78 376.81H255.42V384.40H247.78ZM133.18 384.40H140.82V391.98H133.18ZM156.10 384.40H171.38V391.98H156.10ZM179.02 384.40H186.66V391.98H179.02ZM41.50 391.98H49.14V399.56H41.50ZM64.42 407.14H72.06V414.70H64.42ZM79.70 407.14H94.98V414.70H79.70Z"/><path fill="#0000df" d="M148.46 37.86H156.10V45.67H148.46ZM179.02 37.86H186.66V45.67H179.02ZM347.10 37.86H348.00V45.67H347.10ZM133.18 45.67H140.82V53.49H133.18ZM148.46 45.67H156.10V53.49H148.46ZM217.22 45.67H224.86V53.49H217.22ZM347.10 45.67H348.00V53.49H347.10ZM140.82 53.49H156.10V61.29H140.82ZM179.02 53.49H186.66V61.29H179.02ZM217.22 53.49H224.86V61.29H217.22ZM232.50 53.49H240.14V61.29H232.50ZM148.46 61.29H156.10V69.09H148.46ZM148.46 69.09H156.10V76.89H148.46ZM156.10 76.89H163.74V84.68H156.10ZM255.42 76.89H263.06V84.68H255.42ZM347.10 84.68H348.00V92.46H347.10ZM263.06 92.46H270.70V100.24H263.06ZM347.10 100.24H348.00V108.02H347.10ZM347.10 108.02H348.00V115.78H347.10ZM347.10 115.78H348.00V123.55H347.10ZM331.82 123.55H339.46V131.30H331.82ZM331.82 139.06H339.46V146.80H331.82ZM347.10 146.80H348.00V154.55H347.10ZM331.82 154.55H339.46V162.28H331.82ZM308.90 162.28H316.54V170.01H308.90ZM331.82 162.28H339.46V170.01H331.82ZM179.02 315.92H194.30V323.55H179.02ZM186.66 323.55H194.30V331.17H186.66ZM194.30 331.17H209.58V338.79H194.30ZM201.94 338.79H209.58V346.40H201.94ZM285.98 346.40H293.62V354.01H285.98ZM163.74 354.01H171.38V361.62H163.74ZM201.94 354.01H209.58V361.62H201.94ZM270.70 354.01H278.34V361.62H270.70ZM171.38 361.62H179.02V369.21H171.38ZM232.50 361.62H240.14V369.21H232.50ZM255.42 361.62H263.06V369.21H255.42ZM232.50 369.21H240.14V376.81H232.50ZM133.18 376.81H140.82V384.40H133.18ZM41.50 384.40H49.14V391.98H41.50ZM64.42 399.56H72.06V407.14H64.42Z"/><path fill="#0000ef" d="M156.10 37.86H179.02V45.67H156.10ZM140.82 45.67H148.46V53.49H140.82ZM156.10 45.67H179.02V53.49H156.10ZM186.66 45.67H217.22V53.49H186.66ZM156.10 53.49H171.38V61.29H156.10ZM194.30 53.49H209.58V61.29H194.30ZM224.86 53.49H232.50V61.29H224.86ZM140.82 61.29H148.46V69.09H140.82ZM156.10 61.29H163.74V69.09H156.10ZM171.38 61.29H179.02V69.09H171.38ZM186.66 61.29H194.30V69.09H186.66ZM201.94 61.29H209.58V69.09H201.94ZM217.22 61.29H224.86V69.09H217.22ZM140.82 69.09H148.46V76.89H140.82ZM194.30 69.09H201.94V76.89H194.30ZM148.46 76.89H156.10V84.68H148.46ZM255.42 84.68H263.06V92.46H255.42ZM278.34 123.55H285.98V131.30H278.34ZM347.10 123.55H348.00V131.30H347.10ZM339.46 131.30H347.10V139.06H339.46ZM347.10 139.06H348.00V146.80H347.10ZM285.98 146.80H293.62V154.55H285.98ZM331.82 146.80H347.10V154.55H331.82ZM324.18 300.65H331.82V308.29H324.18ZM316.54 315.92H324.18V323.55H316.54ZM171.38 323.55H186.66V331.17H171.38ZM163.74 331.17H179.02V338.79H163.74ZM301.26 331.17H308.90V338.79H301.26ZM64.42 338.79H72.06V346.40H64.42ZM293.62 338.79H301.26V346.40H293.62ZM163.74 346.40H171.38V354.01H163.74ZM232.50 346.40H240.14V354.01H232.50ZM209.58 354.01H232.50V361.62H209.58ZM49.14 361.62H56.78V369.21H49.14ZM140.82 361.62H148.46V369.21H140.82ZM209.58 361.62H217.22V369.21H209.58ZM224.86 361.62H232.50V369.21H224.86ZM41.50 369.21H49.14V376.81H41.50ZM110.26 369.21H117.90V376.81H110.26ZM125.54 369.21H133.18V376.81H125.54ZM148.46 369.21H171.38V376.81H148.46ZM240.14 369.21H247.78V376.81H240.14ZM171.38 376.81H179.02V384.40H171.38ZM94.98 384.40H102.62V391.98H94.98ZM87.34 391.98H94.98V399.56H87.34ZM79.70 399.56H87.34V407.14H79.70Z"/><path fill="#0000ff" d="M179.02 45.67H186.66V53.49H179.02ZM171.38 53.49H179.02V61.29H171.38ZM186.66 53.49H194.30V61.29H186.66ZM209.58 53.49H217.22V61.29H209.58ZM163.74 61.29H171.38V69.09H163.74ZM179.02 61.29H186.66V69.09H179.02ZM194.30 61.29H201.94V69.09H194.30ZM209.58 61.29H217.22V69.09H209.58ZM232.50 61.29H240.14V69.09H232.50ZM156.10 69.09H186.66V76.89H156.10ZM201.94 69.09H247.78V76.89H201.94ZM140.82 76.89H148.46V84.68H140.82ZM163.74 76.89H171.38V84.68H163.74ZM224.86 76.89H232.50V84.68H224.86ZM247.78 76.89H255.42V84.68H247.78ZM140.82 84.68H148.46V92.46H140.82ZM156.10 84.68H179.02V92.46H156.10ZM247.78 84.68H255.42V92.46H247.78ZM263.06 115.78H270.70V123.55H263.06ZM270.70 123.55H278.34V131.30H270.70ZM339.46 123.55H347.10V131.30H339.46ZM347.10 131.30H348.00V139.06H347.10ZM339.46 139.06H347.10V146.80H339.46ZM293.62 154.55H301.26V162.28H293.62ZM339.46 154.55H348.00V162.28H339.46ZM301.26 162.28H308.90V170.01H301.26ZM339.46 162.28H347.10V170.01H339.46ZM293.62 170.01H301.26V177.74H293.62ZM316.54 170.01H324.18V177.74H316.54ZM331.82 170.01H347.10V177.74H331.82ZM339.46 285.36H348.00V293.00H339.46ZM331.82 293.00H339.46V300.65H331.82ZM194.30 308.29H201.94V315.92H194.30ZM316.54 308.29H324.18V315.92H316.54ZM224.86 323.55H232.50V331.17H224.86ZM308.90 323.55H316.54V331.17H308.90ZM209.58 331.17H217.22V338.79H209.58ZM232.50 331.17H240.14V338.79H232.50ZM156.10 346.40H163.74V354.01H156.10ZM209.58 346.40H232.50V354.01H209.58ZM247.78 346.40H263.06V354.01H247.78ZM278.34 346.40H285.98V354.01H278.34ZM140.82 354.01H163.74V361.62H140.82ZM232.50 354.01H270.70V361.62H232.50ZM148.46 361.62H171.38V369.21H148.46ZM217.22 361.62H224.86V369.21H217.22ZM240.14 361.62H255.42V369.21H240.14ZM140.82 369.21H148.46V376.81H140.82ZM102.62 376.81H110.26V384.40H102.62ZM56.78 391.98H64.42V399.56H56.78ZM72.06 399.56H79.70V407.14H72.06Z"/><path fill="#0010ff" d="M224.86 61.29H232.50V69.09H224.86ZM186.66 69.09H194.30V76.89H186.66ZM171.38 76.89H201.94V84.68H171.38ZM217.22 76.89H224.86V84.68H217.22ZM240.14 76.89H247.78V84.68H240.14ZM148.46 84.68H156.10V92.46H148.46ZM217.22 84.68H232.50V92.46H217.22ZM240.14 84.68H247.78V92.46H240.14ZM148.46 92.46H163.74V100.24H148.46ZM224.86 92.46H240.14V100.24H224.86ZM255.42 92.46H263.06V100.24H255.42ZM148.46 100.24H156.10V108.02H148.46ZM263.06 100.24H270.70V108.02H263.06ZM247.78 108.02H270.70V115.78H247.78ZM270.70 115.78H278.34V123.55H270.70ZM278.34 131.30H285.98V139.06H278.34ZM255.42 139.06H263.06V146.80H255.42ZM270.70 139.06H278.34V146.80H270.70ZM285.98 162.28H293.62V170.01H285.98ZM347.10 162.28H348.00V170.01H347.10ZM324.18 170.01H331.82V177.74H324.18ZM339.46 177.74H347.10V185.46H339.46ZM347.10 216.29H348.00V223.98H347.10ZM125.54 270.04H133.18V277.70H125.54ZM133.18 285.36H140.82V293.00H133.18ZM179.02 293.00H186.66V300.65H179.02ZM217.22 293.00H232.50V300.65H217.22ZM94.98 300.65H102.62V308.29H94.98ZM163.74 300.65H171.38V308.29H163.74ZM171.38 308.29H179.02V315.92H171.38ZM217.22 308.29H224.86V315.92H217.22ZM156.10 315.92H171.38V323.55H156.10ZM194.30 315.92H201.94V323.55H194.30ZM201.94 323.55H224.86V331.17H201.94ZM240.14 323.55H247.78V331.17H240.14ZM263.06 323.55H270.70V331.17H263.06ZM278.34 323.55H285.98V331.17H278.34ZM217.22 331.17H232.50V338.79H217.22ZM240.14 331.17H247.78V338.79H240.14ZM278.34 331.17H285.98V338.79H278.34ZM148.46 338.79H171.38V346.40H148.46ZM209.58 338.79H224.86V346.40H209.58ZM232.50 338.79H240.14V346.40H232.50ZM247.78 338.79H255.42V346.40H247.78ZM263.06 338.79H270.70V346.40H263.06ZM278.34 338.79H285.98V346.40H278.34ZM140.82 346.40H156.10V354.01H140.82ZM263.06 346.40H270.70V354.01H263.06ZM56.78 354.01H64.42V361.62H56.78ZM133.18 361.62H140.82V369.21H133.18ZM117.90 369.21H125.54V376.81H117.90ZM133.18 369.21H140.82V376.81H133.18ZM41.50 376.81H49.14V384.40H41.50ZM49.14 384.40H64.42V391.98H49.14ZM79.70 391.98H87.34V399.56H79.70Z"/><path fill="#0020ff" d="M201.94 76.89H217.22V84.68H201.94ZM232.50 76.89H240.14V84.68H232.50ZM186.66 84.68H201.94V92.46H186.66ZM209.58 84.68H217.22V92.46H209.58ZM232.50 84.68H240.14V92.46H232.50ZM163.74 92.46H209.58V100.24H163.74ZM217.22 92.46H224.86V100.24H217.22ZM240.14 92.46H247.78V100.24H240.14ZM156.10 100.24H163.74V108.02H156.10ZM232.50 100.24H240.14V108.02H232.50ZM247.78 100.24H263.06V108.02H247.78ZM156.10 108.02H163.74V115.78H156.10ZM224.86 108.02H232.50V115.78H224.86ZM240.14 108.02H247.78V115.78H240.14ZM156.10 115.78H163.74V123.55H156.10ZM247.78 115.78H255.42V123.55H247.78ZM255.42 123.55H270.70V131.30H255.42ZM263.06 139.06H270.70V146.80H263.06ZM278.34 139.06H285.98V146.80H278.34ZM255.42 146.80H278.34V154.55H255.42ZM285.98 154.55H293.62V162.28H285.98ZM301.26 170.01H308.90V177.74H301.26ZM347.10 170.01H348.00V177.74H347.10ZM316.54 177.74H339.46V185.46H316.54ZM347.10 177.74H348.00V185.46H347.10ZM308.90 185.46H316.54V193.17H308.90ZM255.42 200.88H263.06V208.59H255.42ZM339.46 200.88H347.10V208.59H339.46ZM140.82 262.38H148.46V270.04H140.82ZM133.18 270.04H148.46V277.70H133.18ZM125.54 277.70H140.82V285.36H125.54ZM324.18 277.70H331.82V285.36H324.18ZM110.26 285.36H125.54V293.00H110.26ZM102.62 293.00H110.26V300.65H102.62ZM163.74 293.00H179.02V300.65H163.74ZM148.46 300.65H163.74V308.29H148.46ZM171.38 300.65H201.94V308.29H171.38ZM270.70 300.65H278.34V308.29H270.70ZM301.26 300.65H308.90V308.29H301.26ZM156.10 308.29H171.38V315.92H156.10ZM179.02 308.29H194.30V315.92H179.02ZM201.94 308.29H217.22V315.92H201.94ZM224.86 308.29H232.50V315.92H224.86ZM308.90 308.29H316.54V315.92H308.90ZM79.70 315.92H87.34V323.55H79.70ZM171.38 315.92H179.02V323.55H171.38ZM201.94 315.92H240.14V323.55H201.94ZM285.98 315.92H293.62V323.55H285.98ZM301.26 315.92H316.54V323.55H301.26ZM72.06 323.55H79.70V331.17H72.06ZM163.74 323.55H171.38V331.17H163.74ZM232.50 323.55H240.14V331.17H232.50ZM255.42 323.55H263.06V331.17H255.42ZM293.62 323.55H308.90V331.17H293.62ZM247.78 331.17H255.42V338.79H247.78ZM285.98 331.17H293.62V338.79H285.98ZM133.18 338.79H140.82V346.40H133.18ZM224.86 338.79H232.50V346.40H224.86ZM255.42 338.79H263.06V346.40H255.42ZM285.98 338.79H293.62V346.40H285.98ZM64.42 346.40H72.06V354.01H64.42ZM240.14 346.40H247.78V354.01H240.14ZM270.70 346.40H278.34V354.01H270.70ZM125.54 354.01H140.82V361.62H125.54ZM110.26 361.62H117.90V369.21H110.26ZM49.14 369.21H56.78V376.81H49.14ZM56.78 376.81H64.42V384.40H56.78ZM79.70 384.40H94.98V391.98H79.70ZM64.42 391.98H79.70V399.56H64.42Z"/><path fill="#0030ff" d="M179.02 84.68H186.66V92.46H179.02ZM201.94 84.68H209.58V92.46H201.94ZM209.58 92.46H217.22V100.24H209.58ZM247.78 92.46H255.42V100.24H247.78ZM171.38 100.24H179.02V108.02H171.38ZM217.22 100.24H232.50V108.02H217.22ZM240.14 100.24H247.78V108.02H240.14ZM163.74 108.02H171.38V115.78H163.74ZM217.22 108.02H224.86V115.78H217.22ZM232.50 108.02H240.14V115.78H232.50ZM232.50 115.78H247.78V123.55H232.50ZM255.42 115.78H263.06V123.55H255.42ZM232.50 123.55H240.14V131.30H232.50ZM247.78 123.55H255.42V131.30H247.78ZM270.70 131.30H278.34V139.06H270.70ZM278.34 146.80H285.98V154.55H278.34ZM240.14 154.55H247.78V162.28H240.14ZM278.34 154.55H285.98V162.28H278.34ZM278.34 170.01H285.98V177.74H278.34ZM308.90 170.01H316.54V177.74H308.90ZM293.62 177.74H308.90V185.46H293.62ZM285.98 185.46H293.62V193.17H285.98ZM331.82 185.46H348.00V193.17H331.82ZM308.90 193.17H324.18V200.88H308.90ZM331.82 193.17H348.00V200.88H331.82ZM347.10 200.88H348.00V208.59H347.10ZM347.10 208.59H348.00V216.29H347.10ZM293.62 216.29H301.26V223.98H293.62ZM339.46 223.98H347.10V231.67H339.46ZM316.54 231.67H324.18V239.36H316.54ZM347.10 239.36H348.00V247.04H347.10ZM308.90 247.04H316.54V254.71H308.90ZM347.10 247.04H348.00V254.71H347.10ZM148.46 254.71H156.10V262.38H148.46ZM148.46 262.38H163.74V270.04H148.46ZM324.18 270.04H331.82V277.70H324.18ZM347.10 270.04H348.00V277.70H347.10ZM117.90 277.70H125.54V285.36H117.90ZM163.74 277.70H179.02V285.36H163.74ZM347.10 277.70H348.00V285.36H347.10ZM140.82 285.36H148.46V293.00H140.82ZM156.10 285.36H163.74V293.00H156.10ZM171.38 285.36H186.66V293.00H171.38ZM125.54 293.00H133.18V300.65H125.54ZM140.82 293.00H148.46V300.65H140.82ZM156.10 293.00H163.74V300.65H156.10ZM186.66 293.00H201.94V300.65H186.66ZM285.98 293.00H293.62V300.65H285.98ZM301.26 293.00H308.90V300.65H301.26ZM316.54 293.00H324.18V300.65H316.54ZM102.62 300.65H110.26V308.29H102.62ZM201.94 300.65H209.58V308.29H201.94ZM217.22 300.65H224.86V308.29H217.22ZM240.14 300.65H247.78V308.29H240.14ZM293.62 300.65H301.26V308.29H293.62ZM316.54 300.65H324.18V308.29H316.54ZM87.34 308.29H94.98V315.92H87.34ZM240.14 308.29H247.78V315.92H240.14ZM301.26 308.29H308.90V315.92H301.26ZM148.46 315.92H156.10V323.55H148.46ZM240.14 315.92H263.06V323.55H240.14ZM270.70 315.92H285.98V323.55H270.70ZM148.46 323.55H156.10V331.17H148.46ZM270.70 323.55H278.34V331.17H270.70ZM285.98 323.55H293.62V331.17H285.98ZM156.10 331.17H163.74V338.79H156.10ZM255.42 331.17H278.34V338.79H255.42ZM140.82 338.79H148.46V346.40H140.82ZM240.14 338.79H247.78V346.40H240.14ZM87.34 369.21H94.98V376.81H87.34ZM102.62 369.21H110.26V376.81H102.62ZM49.14 376.81H56.78V384.40H49.14ZM64.42 376.81H72.06V384.40H64.42ZM64.42 384.40H79.70V391.98H64.42Z"/><path fill="#0040ff" d="M163.74 100.24H171.38V108.02H163.74ZM209.58 100.24H217.22V108.02H209.58ZM201.94 108.02H217.22V115.78H201.94ZM240.14 123.55H247.78V131.30H240.14ZM255.42 131.30H270.70V139.06H255.42ZM232.50 139.06H240.14V146.80H232.50ZM240.14 146.80H255.42V154.55H240.14ZM255.42 154.55H263.06V162.28H255.42ZM270.70 154.55H278.34V162.28H270.70ZM263.06 162.28H270.70V170.01H263.06ZM278.34 162.28H285.98V170.01H278.34ZM293.62 162.28H301.26V170.01H293.62ZM270.70 170.01H278.34V177.74H270.70ZM285.98 170.01H293.62V177.74H285.98ZM270.70 177.74H285.98V185.46H270.70ZM308.90 177.74H316.54V185.46H308.90ZM293.62 185.46H301.26V193.17H293.62ZM316.54 185.46H324.18V193.17H316.54ZM301.26 193.17H308.90V200.88H301.26ZM324.18 193.17H331.82V200.88H324.18ZM263.06 200.88H270.70V208.59H263.06ZM324.18 200.88H339.46V208.59H324.18ZM293.62 208.59H308.90V216.29H293.62ZM331.82 208.59H339.46V216.29H331.82ZM308.90 216.29H316.54V223.98H308.90ZM324.18 216.29H331.82V223.98H324.18ZM339.46 216.29H347.10V223.98H339.46ZM324.18 231.67H331.82V239.36H324.18ZM347.10 231.67H348.00V239.36H347.10ZM339.46 247.04H347.10V254.71H339.46ZM308.90 254.71H324.18V262.38H308.90ZM148.46 270.04H163.74V277.70H148.46ZM148.46 277.70H163.74V285.36H148.46ZM186.66 277.70H194.30V285.36H186.66ZM201.94 277.70H209.58V285.36H201.94ZM247.78 277.70H255.42V285.36H247.78ZM270.70 277.70H278.34V285.36H270.70ZM293.62 277.70H308.90V285.36H293.62ZM331.82 277.70H339.46V285.36H331.82ZM125.54 285.36H133.18V293.00H125.54ZM148.46 285.36H156.10V293.00H148.46ZM163.74 285.36H171.38V293.00H163.74ZM194.30 285.36H217.22V293.00H194.30ZM240.14 285.36H247.78V293.00H240.14ZM270.70 285.36H278.34V293.00H270.70ZM285.98 285.36H308.90V293.00H285.98ZM316.54 285.36H324.18V293.00H316.54ZM110.26 293.00H117.90V300.65H110.26ZM133.18 293.00H140.82V300.65H133.18ZM148.46 293.00H156.10V300.65H148.46ZM201.94 293.00H217.22V300.65H201.94ZM263.06 293.00H270.70V300.65H263.06ZM293.62 293.00H301.26V300.65H293.62ZM308.90 293.00H316.54V300.65H308.90ZM324.18 293.00H331.82V300.65H324.18ZM140.82 300.65H148.46V308.29H140.82ZM209.58 300.65H217.22V308.29H209.58ZM224.86 300.65H240.14V308.29H224.86ZM255.42 300.65H270.70V308.29H255.42ZM278.34 300.65H293.62V308.29H278.34ZM308.90 300.65H316.54V308.29H308.90ZM148.46 308.29H156.10V315.92H148.46ZM232.50 308.29H240.14V315.92H232.50ZM255.42 308.29H263.06V315.92H255.42ZM270.70 308.29H301.26V315.92H270.70ZM125.54 315.92H133.18V323.55H125.54ZM263.06 315.92H270.70V323.55H263.06ZM293.62 315.92H301.26V323.55H293.62ZM156.10 323.55H163.74V331.17H156.10ZM247.78 323.55H255.42V331.17H247.78ZM140.82 331.17H156.10V338.79H140.82ZM293.62 331.17H301.26V338.79H293.62ZM270.70 338.79H278.34V346.40H270.70ZM110.26 354.01H125.54V361.62H110.26ZM117.90 361.62H133.18V369.21H117.90ZM79.70 376.81H102.62V384.40H79.70Z"/><path fill="#0050ff" d="M179.02 100.24H209.58V108.02H179.02ZM186.66 108.02H194.30V115.78H186.66ZM224.86 115.78H232.50V123.55H224.86ZM224.86 123.55H232.50V131.30H224.86ZM224.86 131.30H240.14V139.06H224.86ZM247.78 131.30H255.42V139.06H247.78ZM247.78 139.06H255.42V146.80H247.78ZM247.78 154.55H255.42V162.28H247.78ZM263.06 154.55H270.70V162.28H263.06ZM240.14 162.28H247.78V170.01H240.14ZM255.42 162.28H263.06V170.01H255.42ZM270.70 162.28H278.34V170.01H270.70ZM247.78 177.74H255.42V185.46H247.78ZM285.98 177.74H293.62V185.46H285.98ZM255.42 185.46H263.06V193.17H255.42ZM270.70 185.46H285.98V193.17H270.70ZM301.26 185.46H308.90V193.17H301.26ZM324.18 185.46H331.82V193.17H324.18ZM285.98 193.17H301.26V200.88H285.98ZM270.70 200.88H278.34V208.59H270.70ZM293.62 200.88H316.54V208.59H293.62ZM316.54 208.59H324.18V216.29H316.54ZM339.46 208.59H347.10V216.29H339.46ZM263.06 216.29H270.70V223.98H263.06ZM316.54 216.29H324.18V223.98H316.54ZM270.70 223.98H278.34V231.67H270.70ZM285.98 223.98H308.90V231.67H285.98ZM324.18 223.98H339.46V231.67H324.18ZM347.10 223.98H348.00V231.67H347.10ZM255.42 231.67H263.06V239.36H255.42ZM278.34 231.67H285.98V239.36H278.34ZM308.90 231.67H316.54V239.36H308.90ZM285.98 239.36H301.26V247.04H285.98ZM308.90 239.36H316.54V247.04H308.90ZM324.18 239.36H331.82V247.04H324.18ZM278.34 247.04H301.26V254.71H278.34ZM331.82 247.04H339.46V254.71H331.82ZM156.10 254.71H163.74V262.38H156.10ZM247.78 254.71H255.42V262.38H247.78ZM293.62 254.71H308.90V262.38H293.62ZM331.82 254.71H339.46V262.38H331.82ZM308.90 262.38H324.18V270.04H308.90ZM339.46 262.38H347.10V270.04H339.46ZM163.74 270.04H171.38V277.70H163.74ZM285.98 270.04H293.62V277.70H285.98ZM301.26 270.04H316.54V277.70H301.26ZM331.82 270.04H339.46V277.70H331.82ZM140.82 277.70H148.46V285.36H140.82ZM217.22 277.70H232.50V285.36H217.22ZM308.90 277.70H316.54V285.36H308.90ZM339.46 277.70H347.10V285.36H339.46ZM186.66 285.36H194.30V293.00H186.66ZM331.82 285.36H339.46V293.00H331.82ZM117.90 293.00H125.54V300.65H117.90ZM232.50 293.00H240.14V300.65H232.50ZM247.78 293.00H255.42V300.65H247.78ZM247.78 300.65H255.42V308.29H247.78ZM94.98 308.29H110.26V315.92H94.98ZM140.82 308.29H148.46V315.92H140.82ZM247.78 308.29H255.42V315.92H247.78ZM263.06 308.29H270.70V315.92H263.06ZM133.18 315.92H148.46V323.55H133.18ZM72.06 331.17H79.70V338.79H72.06ZM117.90 346.40H125.54V354.01H117.90ZM133.18 346.40H140.82V354.01H133.18ZM56.78 361.62H64.42V369.21H56.78ZM56.78 369.21H72.06V376.81H56.78ZM94.98 369.21H102.62V376.81H94.98ZM72.06 376.81H79.70V384.40H72.06Z"/><path fill="#0070ff" d="M171.38 108.02H186.66V115.78H171.38ZM163.74 115.78H171.38V123.55H163.74ZM194.30 115.78H201.94V123.55H194.30ZM156.10 123.55H163.74V131.30H156.10ZM209.58 123.55H217.22V131.30H209.58ZM217.22 131.30H224.86V139.06H217.22ZM224.86 139.06H232.50V146.80H224.86ZM240.14 170.01H263.06V177.74H240.14ZM247.78 193.17H263.06V200.88H247.78ZM270.70 208.59H278.34V216.29H270.70ZM285.98 208.59H293.62V216.29H285.98ZM255.42 216.29H263.06V223.98H255.42ZM263.06 223.98H270.70V231.67H263.06ZM270.70 231.67H278.34V239.36H270.70ZM285.98 231.67H293.62V239.36H285.98ZM301.26 231.67H308.90V239.36H301.26ZM255.42 239.36H270.70V247.04H255.42ZM316.54 239.36H324.18V247.04H316.54ZM263.06 247.04H270.70V254.71H263.06ZM316.54 247.04H331.82V254.71H316.54ZM224.86 254.71H232.50V262.38H224.86ZM263.06 254.71H270.70V262.38H263.06ZM278.34 254.71H293.62V262.38H278.34ZM339.46 254.71H347.10V262.38H339.46ZM163.74 262.38H171.38V270.04H163.74ZM247.78 262.38H255.42V270.04H247.78ZM270.70 262.38H278.34V270.04H270.70ZM285.98 262.38H308.90V270.04H285.98ZM331.82 262.38H339.46V270.04H331.82ZM247.78 270.04H255.42V277.70H247.78ZM316.54 270.04H324.18V277.70H316.54ZM255.42 277.70H270.70V285.36H255.42ZM285.98 277.70H293.62V285.36H285.98ZM316.54 277.70H324.18V285.36H316.54ZM255.42 285.36H263.06V293.00H255.42ZM278.34 285.36H285.98V293.00H278.34ZM278.34 293.00H285.98V300.65H278.34ZM110.26 300.65H117.90V308.29H110.26ZM125.54 300.65H133.18V308.29H125.54ZM125.54 308.29H133.18V315.92H125.54ZM87.34 315.92H94.98V323.55H87.34ZM125.54 323.55H133.18V331.17H125.54ZM125.54 331.17H133.18V338.79H125.54ZM117.90 338.79H125.54V346.40H117.90ZM110.26 346.40H117.90V354.01H110.26ZM64.42 361.62H72.06V369.21H64.42ZM94.98 361.62H110.26V369.21H94.98Z"/><path fill="#0060ff" d="M194.30 108.02H201.94V115.78H194.30ZM171.38 115.78H179.02V123.55H171.38ZM217.22 115.78H224.86V123.55H217.22ZM240.14 131.30H247.78V139.06H240.14ZM240.14 139.06H247.78V146.80H240.14ZM232.50 170.01H240.14V177.74H232.50ZM263.06 170.01H270.70V177.74H263.06ZM232.50 177.74H240.14V185.46H232.50ZM255.42 177.74H263.06V185.46H255.42ZM247.78 185.46H255.42V193.17H247.78ZM263.06 185.46H270.70V193.17H263.06ZM263.06 193.17H285.98V200.88H263.06ZM247.78 200.88H255.42V208.59H247.78ZM278.34 200.88H285.98V208.59H278.34ZM316.54 200.88H324.18V208.59H316.54ZM278.34 208.59H285.98V216.29H278.34ZM308.90 208.59H316.54V216.29H308.90ZM324.18 208.59H331.82V216.29H324.18ZM270.70 216.29H293.62V223.98H270.70ZM301.26 216.29H308.90V223.98H301.26ZM331.82 216.29H339.46V223.98H331.82ZM278.34 223.98H285.98V231.67H278.34ZM308.90 223.98H324.18V231.67H308.90ZM293.62 231.67H301.26V239.36H293.62ZM331.82 231.67H347.10V239.36H331.82ZM278.34 239.36H285.98V247.04H278.34ZM301.26 239.36H308.90V247.04H301.26ZM331.82 239.36H347.10V247.04H331.82ZM255.42 247.04H263.06V254.71H255.42ZM270.70 247.04H278.34V254.71H270.70ZM301.26 247.04H308.90V254.71H301.26ZM324.18 254.71H331.82V262.38H324.18ZM347.10 254.71H348.00V262.38H347.10ZM232.50 262.38H240.14V270.04H232.50ZM324.18 262.38H331.82V270.04H324.18ZM347.10 262.38H348.00V270.04H347.10ZM201.94 270.04H217.22V277.70H201.94ZM263.06 270.04H285.98V277.70H263.06ZM293.62 270.04H301.26V277.70H293.62ZM339.46 270.04H347.10V277.70H339.46ZM179.02 277.70H186.66V285.36H179.02ZM194.30 277.70H201.94V285.36H194.30ZM209.58 277.70H217.22V285.36H209.58ZM278.34 277.70H285.98V285.36H278.34ZM217.22 285.36H240.14V293.00H217.22ZM247.78 285.36H255.42V293.00H247.78ZM263.06 285.36H270.70V293.00H263.06ZM308.90 285.36H316.54V293.00H308.90ZM324.18 285.36H331.82V293.00H324.18ZM240.14 293.00H247.78V300.65H240.14ZM255.42 293.00H263.06V300.65H255.42ZM270.70 293.00H278.34V300.65H270.70ZM133.18 300.65H140.82V308.29H133.18ZM79.70 323.55H94.98V331.17H79.70ZM133.18 323.55H148.46V331.17H133.18ZM79.70 331.17H87.34V338.79H79.70ZM117.90 331.17H125.54V338.79H117.90ZM125.54 338.79H133.18V346.40H125.54ZM125.54 346.40H133.18V354.01H125.54ZM79.70 369.21H87.34V376.81H79.70Z"/><path fill="#009fff" d="M179.02 115.78H186.66V123.55H179.02ZM201.94 131.30H209.58V139.06H201.94ZM209.58 146.80H217.22V154.55H209.58ZM224.86 154.55H232.50V162.28H224.86ZM217.22 162.28H224.86V170.01H217.22ZM179.02 177.74H194.30V185.46H179.02ZM209.58 185.46H217.22V193.17H209.58ZM186.66 193.17H201.94V200.88H186.66ZM179.02 200.88H186.66V208.59H179.02ZM247.78 216.29H255.42V223.98H247.78ZM255.42 223.98H263.06V231.67H255.42ZM240.14 231.67H247.78V239.36H240.14ZM232.50 247.04H240.14V254.71H232.50ZM171.38 262.38H179.02V270.04H171.38ZM209.58 262.38H217.22V270.04H209.58ZM224.86 270.04H232.50V277.70H224.86ZM110.26 308.29H125.54V315.92H110.26ZM117.90 323.55H125.54V331.17H117.90ZM110.26 338.79H117.90V346.40H110.26ZM64.42 354.01H72.06V361.62H64.42ZM79.70 361.62H94.98V369.21H79.70Z"/><path fill="#008fff" d="M186.66 115.78H194.30V123.55H186.66ZM201.94 115.78H209.58V123.55H201.94ZM201.94 123.55H209.58V131.30H201.94ZM217.22 146.80H224.86V154.55H217.22ZM224.86 162.28H232.50V170.01H224.86ZM209.58 170.01H217.22V177.74H209.58ZM224.86 170.01H232.50V177.74H224.86ZM179.02 185.46H194.30V193.17H179.02ZM217.22 185.46H224.86V193.17H217.22ZM232.50 193.17H240.14V200.88H232.50ZM285.98 200.88H293.62V208.59H285.98ZM224.86 216.29H232.50V223.98H224.86ZM247.78 223.98H255.42V231.67H247.78ZM247.78 231.67H255.42V239.36H247.78ZM263.06 231.67H270.70V239.36H263.06ZM240.14 247.04H247.78V254.71H240.14ZM232.50 254.71H247.78V262.38H232.50ZM270.70 254.71H278.34V262.38H270.70ZM217.22 262.38H224.86V270.04H217.22ZM240.14 262.38H247.78V270.04H240.14ZM255.42 262.38H263.06V270.04H255.42ZM278.34 262.38H285.98V270.04H278.34ZM171.38 270.04H179.02V277.70H171.38ZM232.50 270.04H247.78V277.70H232.50ZM240.14 277.70H247.78V285.36H240.14ZM117.90 300.65H125.54V308.29H117.90ZM79.70 354.01H87.34V361.62H79.70ZM72.06 361.62H79.70V369.21H72.06ZM72.06 369.21H79.70V376.81H72.06Z"/><path fill="#0080ff" d="M209.58 115.78H217.22V123.55H209.58ZM217.22 123.55H224.86V131.30H217.22ZM217.22 139.06H224.86V146.80H217.22ZM224.86 146.80H240.14V154.55H224.86ZM217.22 154.55H224.86V162.28H217.22ZM232.50 154.55H240.14V162.28H232.50ZM232.50 162.28H240.14V170.01H232.50ZM247.78 162.28H255.42V170.01H247.78ZM217.22 170.01H224.86V177.74H217.22ZM217.22 177.74H232.50V185.46H217.22ZM240.14 177.74H247.78V185.46H240.14ZM263.06 177.74H270.70V185.46H263.06ZM224.86 185.46H247.78V193.17H224.86ZM224.86 193.17H232.50V200.88H224.86ZM240.14 193.17H247.78V200.88H240.14ZM232.50 208.59H270.70V216.29H232.50ZM240.14 216.29H247.78V223.98H240.14ZM240.14 223.98H247.78V231.67H240.14ZM232.50 231.67H240.14V239.36H232.50ZM270.70 239.36H278.34V247.04H270.70ZM163.74 254.71H171.38V262.38H163.74ZM255.42 254.71H263.06V262.38H255.42ZM263.06 262.38H270.70V270.04H263.06ZM179.02 270.04H201.94V277.70H179.02ZM217.22 270.04H224.86V277.70H217.22ZM255.42 270.04H263.06V277.70H255.42ZM232.50 277.70H240.14V285.36H232.50ZM133.18 308.29H140.82V315.92H133.18ZM94.98 315.92H102.62V323.55H94.98ZM133.18 331.17H140.82V338.79H133.18ZM72.06 338.79H79.70V346.40H72.06ZM102.62 346.40H110.26V354.01H102.62ZM87.34 354.01H94.98V361.62H87.34ZM102.62 354.01H110.26V361.62H102.62Z"/><path fill="#00bfff" d="M163.74 123.55H171.38V131.30H163.74ZM179.02 193.17H186.66V200.88H179.02ZM201.94 193.17H209.58V200.88H201.94ZM217.22 193.17H224.86V200.88H217.22ZM186.66 200.88H194.30V208.59H186.66ZM224.86 208.59H232.50V216.29H224.86ZM232.50 216.29H240.14V223.98H232.50ZM224.86 239.36H232.50V247.04H224.86ZM240.14 239.36H247.78V247.04H240.14ZM110.26 315.92H117.90V323.55H110.26ZM94.98 346.40H102.62V354.01H94.98Z"/><path fill="#00efff" d="M171.38 123.55H179.02V131.30H171.38ZM186.66 123.55H194.30V131.30H186.66ZM194.30 131.30H201.94V139.06H194.30ZM201.94 146.80H209.58V154.55H201.94ZM186.66 162.28H194.30V170.01H186.66ZM194.30 177.74H201.94V185.46H194.30ZM179.02 208.59H186.66V216.29H179.02ZM201.94 208.59H217.22V216.29H201.94ZM217.22 223.98H232.50V231.67H217.22ZM171.38 254.71H179.02V262.38H171.38ZM102.62 323.55H117.90V331.17H102.62ZM94.98 338.79H102.62V346.40H94.98ZM72.06 346.40H79.70V354.01H72.06Z"/><path fill="#10ffef" d="M179.02 123.55H186.66V131.30H179.02ZM194.30 170.01H201.94V177.74H194.30ZM194.30 216.29H201.94V223.98H194.30ZM217.22 239.36H224.86V247.04H217.22ZM209.58 247.04H217.22V254.71H209.58ZM87.34 331.17H94.98V338.79H87.34Z"/><path fill="#00afff" d="M194.30 123.55H201.94V131.30H194.30ZM209.58 131.30H217.22V139.06H209.58ZM201.94 139.06H217.22V146.80H201.94ZM209.58 162.28H217.22V170.01H209.58ZM201.94 177.74H209.58V185.46H201.94ZM194.30 185.46H209.58V193.17H194.30ZM209.58 200.88H247.78V208.59H209.58ZM232.50 223.98H240.14V231.67H232.50ZM247.78 239.36H255.42V247.04H247.78ZM224.86 247.04H232.50V254.71H224.86ZM247.78 247.04H255.42V254.71H247.78ZM209.58 254.71H224.86V262.38H209.58ZM224.86 262.38H232.50V270.04H224.86ZM102.62 338.79H110.26V346.40H102.62ZM94.98 354.01H102.62V361.62H94.98Z"/><path fill="#00dfff" d="M163.74 131.30H171.38V139.06H163.74ZM201.94 154.55H209.58V162.28H201.94ZM201.94 162.28H209.58V170.01H201.94ZM179.02 170.01H186.66V177.74H179.02ZM209.58 193.17H217.22V200.88H209.58ZM194.30 200.88H201.94V208.59H194.30ZM186.66 208.59H194.30V216.29H186.66ZM217.22 216.29H224.86V223.98H217.22ZM217.22 247.04H224.86V254.71H217.22ZM194.30 262.38H201.94V270.04H194.30ZM102.62 315.92H110.26V323.55H102.62ZM102.62 331.17H117.90V338.79H102.62ZM79.70 346.40H87.34V354.01H79.70Z"/><path fill="#bfff40" d="M171.38 131.30H179.02V139.06H171.38ZM201.94 231.67H209.58V239.36H201.94Z"/><path fill="#80ff80" d="M179.02 131.30H186.66V139.06H179.02ZM163.74 139.06H171.38V146.80H163.74ZM201.94 254.71H209.58V262.38H201.94Z"/><path fill="#8fff70" d="M186.66 131.30H194.30V139.06H186.66ZM186.66 154.55H194.30V162.28H186.66Z"/><path fill="#df0000" d="M171.38 139.06H179.02V146.80H171.38ZM194.30 239.36H201.94V247.04H194.30Z"/><path fill="#800000" d="M179.02 139.06H186.66V146.80H179.02ZM179.02 146.80H186.66V154.55H179.02ZM186.66 239.36H194.30V247.04H186.66ZM186.66 247.04H194.30V254.71H186.66Z"/><path fill="#cfff30" d="M186.66 139.06H194.30V146.80H186.66ZM163.74 146.80H171.38V154.55H163.74Z"/><path fill="#30ffcf" d="M194.30 139.06H201.94V146.80H194.30ZM209.58 216.29H217.22V223.98H209.58ZM201.94 223.98H209.58V231.67H201.94Z"/><path fill="#bf0000" d="M171.38 146.80H179.02V154.55H171.38Z"/><path fill="#ffdf00" d="M186.66 146.80H194.30V154.55H186.66Z"/><path fill="#20ffdf" d="M194.30 146.80H201.94V154.55H194.30ZM171.38 162.28H179.02V170.01H171.38ZM194.30 208.59H201.94V216.29H194.30ZM179.02 216.29H186.66V223.98H179.02ZM224.86 231.67H232.50V239.36H224.86Z"/><path fill="#9fff60" d="M171.38 154.55H179.02V162.28H171.38ZM94.98 331.17H102.62V338.79H94.98Z"/><path fill="#efff10" d="M179.02 154.55H186.66V162.28H179.02Z"/><path fill="#40ffbf" d="M194.30 154.55H201.94V162.28H194.30ZM209.58 223.98H217.22V231.67H209.58ZM209.58 231.67H217.22V239.36H209.58ZM87.34 346.40H94.98V354.01H87.34Z"/><path fill="#00cfff" d="M209.58 154.55H217.22V162.28H209.58ZM194.30 162.28H201.94V170.01H194.30ZM186.66 170.01H194.30V177.74H186.66ZM201.94 170.01H209.58V177.74H201.94ZM209.58 177.74H217.22V185.46H209.58ZM201.94 200.88H209.58V208.59H201.94ZM217.22 208.59H224.86V216.29H217.22ZM217.22 231.67H224.86V239.36H217.22ZM232.50 239.36H240.14V247.04H232.50ZM94.98 323.55H102.62V331.17H94.98ZM72.06 354.01H79.70V361.62H72.06Z"/><path fill="#60ff9f" d="M179.02 162.28H186.66V170.01H179.02ZM179.02 223.98H186.66V231.67H179.02ZM209.58 239.36H217.22V247.04H209.58ZM186.66 262.38H194.30V270.04H186.66ZM87.34 338.79H94.98V346.40H87.34Z"/><path fill="#00ffff" d="M186.66 216.29H194.30V223.98H186.66ZM186.66 223.98H194.30V231.67H186.66ZM201.94 262.38H209.58V270.04H201.94ZM117.90 315.92H125.54V323.55H117.90ZM79.70 338.79H87.34V346.40H79.70Z"/><path fill="#50ffaf" d="M201.94 216.29H209.58V223.98H201.94ZM194.30 223.98H201.94V231.67H194.30ZM179.02 262.38H186.66V270.04H179.02Z"/><path fill="#dfff20" d="M179.02 231.67H186.66V239.36H179.02ZM201.94 247.04H209.58V254.71H201.94Z"/><path fill="#ffff00" d="M186.66 231.67H194.30V239.36H186.66Z"/><path fill="#ff8f00" d="M194.30 231.67H201.94V239.36H194.30Z"/><path fill="#ff4000" d="M179.02 239.36H186.66V247.04H179.02Z"/><path fill="#ffef00" d="M201.94 239.36H209.58V247.04H201.94ZM194.30 254.71H201.94V262.38H194.30Z"/><path fill="#cf0000" d="M179.02 247.04H186.66V254.71H179.02ZM194.30 247.04H201.94V254.71H194.30Z"/><path fill="#afff50" d="M179.02 254.71H186.66V262.38H179.02Z"/><path fill="#ff6000" d="M186.66 254.71H194.30V262.38H186.66Z"/></g>
<g shape-rendering="crispEdges"><path fill="#00009f" d="M3.30 277.70H10.94V285.36H3.30ZM3.30 323.55H10.94V331.17H3.30Z"/></g><path d="M134.2 38.7L147.0 28.0L174.5 26.0L202.0 37.7L219.0 34.5L242.0 50.0L263.6 73.8L280.5 99.0L291.0 127.0L299.6 148.0L316.6 160.7L331.0 163.0L322.0 150.0L334.0 133.0L321.0 129.0L338.0 112.0L330.0 104.0L342.0 89.0L338.0 74.0L346.0 68.0L330.0 47.0L338.0 25.0L334.0 10.0M62.0 341.0L60.0 347.0L47.0 358.0L30.0 377.0L41.0 396.0L72.6 415.0L91.7 413.0L108.7 392.0L117.0 381.0L123.6 383.0L125.7 398.0L147.0 385.0L178.7 397.0L195.7 377.0L227.5 383.0L242.0 389.6L270.0 370.5L285.0 364.0L304.0 349.0L321.0 332.0L333.6 307.0L346.0 298.0M201.0 350.0L200.6 355.2L199.4 360.0L197.5 364.1L195.0 367.3L192.1 369.3L189.0 370.0L185.9 369.3L183.0 367.3L180.5 364.1L178.6 360.0L177.4 355.2L177.0 350.0L177.4 344.8L178.6 340.0L180.5 335.9L183.0 332.7L185.9 330.7L189.0 330.0L192.1 330.7L195.0 332.7L197.5 335.9L199.4 340.0L200.6 344.8ZM134 38l10 8l20 4M141 70l12 -4l10 -10M146 112l8 2l0 14M150 252l10 4l6 -6M162 296l8 -6l6 4l-4 10z" stroke="#000" stroke-width="0.9" fill="none"/><g transform="translate(166,50) rotate(70)"><text x="0" y="4.68" font-size="13" text-anchor="middle" fill="#000">3</text></g><g transform="translate(156,95) rotate(80)"><text x="0" y="4.68" font-size="13" text-anchor="middle" fill="#000">3</text></g><g transform="translate(330,134) rotate(60)"><text x="0" y="4.68" font-size="13" text-anchor="middle" fill="#000">3</text></g><g transform="translate(336,22) rotate(70)"><text x="0" y="4.68" font-size="13" text-anchor="middle" fill="#000">3</text></g><g transform="translate(329,60) rotate(70)"><text x="0" y="4.68" font-size="13" text-anchor="middle" fill="#000">3</text></g><g transform="translate(290,136) rotate(80)"><text x="0" y="4.68" font-size="13" text-anchor="middle" fill="#000">3</text></g><g transform="translate(153,254) rotate(-20)"><text x="0" y="4.68" font-size="13" text-anchor="middle" fill="#000">3</text></g><g transform="translate(166,297) rotate(30)"><text x="0" y="4.68" font-size="13" text-anchor="middle" fill="#000">3</text></g><g transform="translate(181,331) rotate(-10)"><text x="0" y="4.68" font-size="13" text-anchor="middle" fill="#000">3</text></g><g transform="translate(322,303) rotate(40)"><text x="0" y="4.68" font-size="13" text-anchor="middle" fill="#000">3</text></g><g transform="translate(284,364) rotate(-20)"><text x="0" y="4.68" font-size="13" text-anchor="middle" fill="#000">3</text></g><g transform="translate(87,413) rotate(0)"><text x="0" y="4.68" font-size="13" text-anchor="middle" fill="#000">3</text></g><path d="M154.4 157.3H170.8M162.6 149.1V165.5M156.8 151.5L168.4 163.1M156.8 163.1L168.4 151.5" stroke="#ff0000" stroke-width="1.15" fill="none"/><path d="M163.4 250.1H179.8M171.6 241.9V258.3M165.8 244.3L177.4 255.9M165.8 255.9L177.4 244.3" stroke="#ff0000" stroke-width="1.15" fill="none"/><path d="M60.0 320.8H76.4M68.2 312.6V329.0M62.4 315.0L74.0 326.6M62.4 326.6L74.0 315.0" stroke="#ff0000" stroke-width="1.15" fill="none"/>
</g>
<rect x="0" y="0" width="348.0" height="427.5" fill="none" stroke="#000" stroke-width="1"/>
<g shape-rendering="crispEdges"><rect x="125.54" y="-0.55" width="7.64" height="1.2" fill="#00008f"/><rect x="133.18" y="-0.55" width="7.64" height="1.2" fill="#00008f"/><rect x="140.82" y="-0.55" width="7.64" height="1.2" fill="#00009f"/><rect x="148.46" y="-0.55" width="7.64" height="1.2" fill="#00008f"/><rect x="156.10" y="-0.55" width="7.64" height="1.2" fill="#00008f"/><rect x="163.74" y="-0.55" width="7.64" height="1.2" fill="#00008f"/><rect x="171.38" y="-0.55" width="7.64" height="1.2" fill="#00008f"/><rect x="179.02" y="-0.55" width="7.64" height="1.2" fill="#00008f"/><rect x="186.66" y="-0.55" width="7.64" height="1.2" fill="#00009f"/><rect x="194.30" y="-0.55" width="7.64" height="1.2" fill="#00008f"/><rect x="201.94" y="-0.55" width="7.64" height="1.2" fill="#00008f"/><rect x="209.58" y="-0.55" width="7.64" height="1.2" fill="#00008f"/><rect x="217.22" y="-0.55" width="7.64" height="1.2" fill="#00008f"/><rect x="224.86" y="-0.55" width="7.64" height="1.2" fill="#00008f"/><rect x="232.50" y="-0.55" width="7.64" height="1.2" fill="#00008f"/><rect x="240.14" y="-0.55" width="7.64" height="1.2" fill="#00009f"/><rect x="247.78" y="-0.55" width="7.64" height="1.2" fill="#00008f"/><rect x="255.42" y="-0.55" width="7.64" height="1.2" fill="#00008f"/><rect x="263.06" y="-0.55" width="7.64" height="1.2" fill="#00008f"/><rect x="270.70" y="-0.55" width="7.64" height="1.2" fill="#00008f"/><rect x="278.34" y="-0.55" width="7.64" height="1.2" fill="#00009f"/><rect x="285.98" y="-0.55" width="7.64" height="1.2" fill="#00009f"/><rect x="293.62" y="-0.55" width="7.64" height="1.2" fill="#00009f"/><rect x="301.26" y="-0.55" width="7.64" height="1.2" fill="#00009f"/><rect x="308.90" y="-0.55" width="7.64" height="1.2" fill="#00008f"/><rect x="316.54" y="-0.55" width="7.64" height="1.2" fill="#00008f"/><rect x="324.18" y="-0.55" width="7.64" height="1.2" fill="#00008f"/><rect x="331.82" y="-0.55" width="7.64" height="1.2" fill="#00008f"/><rect x="339.46" y="-0.55" width="7.64" height="1.2" fill="#0000cf"/><rect x="347.10" y="-0.55" width="1.40" height="1.2" fill="#0000bf"/></g>
<text x="-7" y="7.0" font-size="19.5" text-anchor="end" fill="#000" textLength="46" lengthAdjust="spacingAndGlyphs">37°N</text>
<text x="-7" y="151.3" font-size="19.5" text-anchor="end" fill="#000" textLength="46" lengthAdjust="spacingAndGlyphs">36°N</text>
<text x="-7" y="293.8" font-size="19.5" text-anchor="end" fill="#000" textLength="46" lengthAdjust="spacingAndGlyphs">35°N</text>
<text x="-7" y="434.5" font-size="19.5" text-anchor="end" fill="#000" textLength="46" lengthAdjust="spacingAndGlyphs">34°N</text>
<text x="-6" y="77.4" font-size="14.5" text-anchor="end" fill="#000" textLength="21.5" lengthAdjust="spacingAndGlyphs">30'</text>
<text x="-6" y="220.7" font-size="14.5" text-anchor="end" fill="#000" textLength="21.5" lengthAdjust="spacingAndGlyphs">30'</text>
<text x="-6" y="362.3" font-size="14.5" text-anchor="end" fill="#000" textLength="21.5" lengthAdjust="spacingAndGlyphs">30'</text>
<text x="0" y="448" font-size="19.5" text-anchor="middle" fill="#000" textLength="50.5" lengthAdjust="spacingAndGlyphs">77°W</text>
<text x="116" y="448" font-size="19.5" text-anchor="middle" fill="#000" textLength="50.5" lengthAdjust="spacingAndGlyphs">76°W</text>
<text x="232" y="448" font-size="19.5" text-anchor="middle" fill="#000" textLength="50.5" lengthAdjust="spacingAndGlyphs">75°W</text>
<text x="348" y="448" font-size="19.5" text-anchor="middle" fill="#000" textLength="50.5" lengthAdjust="spacingAndGlyphs">74°W</text>
<text x="58" y="443.5" font-size="14.5" text-anchor="middle" fill="#000" textLength="21.5" lengthAdjust="spacingAndGlyphs">30'</text>
<text x="174" y="443.5" font-size="14.5" text-anchor="middle" fill="#000" textLength="21.5" lengthAdjust="spacingAndGlyphs">30'</text>
<text x="290" y="443.5" font-size="14.5" text-anchor="middle" fill="#000" textLength="21.5" lengthAdjust="spacingAndGlyphs">30'</text>
<text x="79.4" y="-11.7" font-size="20" font-weight="bold" fill="#000" textLength="189.6" lengthAdjust="spacingAndGlyphs">Number of Rads (3)</text><text x="3.4" y="7.2" font-size="19.5" text-anchor="middle" fill="#3a3a3a">0</text><text x="98.8" y="7.2" font-size="19.5" text-anchor="middle" fill="#3a3a3a">50</text><rect x="3.4" y="19.9" width="111.8" height="25.1" fill="url(#jet)" stroke="#262626" stroke-width="1"/><text x="285.7" y="37" font-size="19.5" fill="#000" textLength="57" lengthAdjust="spacingAndGlyphs">10 km</text><path d="M304.5 43.1H318.5" stroke="#000" stroke-width="3.6" stroke-linecap="round"/><path d="M117 0v3" stroke="#262626"/>
</g>
<g transform="translate(1227.0,142.5)">
<rect x="0" y="0" width="348.0" height="427.5" fill="#fff"/>
<g clip-path="url(#clip)">
<use href="#coast"/>
<path d="M58 0V427.5M116 0V427.5M174 0V427.5M232 0V427.5M290 0V427.5M0 72.4H348.0M0 144.3H348.0M0 215.7H348.0M0 286.8H348.0M0 357.3H348.0" stroke="#000" stroke-opacity="0.16" stroke-width="1" stroke-dasharray="2 5" fill="none"/>
<path d="M0 427.5v-4M0 0v4M58 427.5v-4M58 0v4M116 427.5v-4M116 0v4M174 427.5v-4M174 0v4M232 427.5v-4M232 0v4M290 427.5v-4M290 0v4M348 427.5v-4M348 0v4M0 72.4h4M348.0 72.4h-4M0 144.3h4M348.0 144.3h-4M0 215.7h4M348.0 215.7h-4M0 286.8h4M348.0 286.8h-4M0 357.3h4M348.0 357.3h-4" stroke="#000" stroke-width="1" fill="none"/>
<g shape-rendering="crispEdges"><path fill="#00008f" d="M125.54 0.00H293.62V6.53H125.54ZM125.54 6.53H171.38V14.37H125.54ZM194.30 6.53H301.26V14.37H194.30ZM194.30 14.37H301.26V22.21H194.30ZM224.86 22.21H301.26V30.03H224.86ZM240.14 30.03H301.26V37.86H240.14ZM255.42 37.86H301.26V45.67H255.42ZM133.18 45.67H140.82V53.49H133.18ZM156.10 45.67H163.74V53.49H156.10ZM263.06 45.67H301.26V53.49H263.06ZM270.70 53.49H301.26V61.29H270.70ZM278.34 61.29H301.26V69.09H278.34ZM278.34 69.09H308.90V76.89H278.34ZM285.98 76.89H308.90V84.68H285.98ZM293.62 84.68H316.54V92.46H293.62ZM293.62 92.46H316.54V100.24H293.62ZM293.62 100.24H316.54V108.02H293.62ZM293.62 108.02H324.18V115.78H293.62ZM301.26 115.78H316.54V123.55H301.26ZM301.26 123.55H316.54V131.30H301.26ZM308.90 131.30H316.54V139.06H308.90ZM3.30 277.70H10.94V285.36H3.30ZM339.46 315.92H348.00V323.55H339.46ZM3.30 323.55H10.94V331.17H3.30ZM339.46 323.55H348.00V331.17H339.46ZM3.30 331.17H26.22V338.79H3.30ZM49.14 331.17H56.78V338.79H49.14ZM324.18 331.17H348.00V338.79H324.18ZM3.30 338.79H26.22V346.40H3.30ZM56.78 338.79H64.42V346.40H56.78ZM316.54 338.79H348.00V346.40H316.54ZM3.30 346.40H26.22V354.01H3.30ZM308.90 346.40H348.00V354.01H308.90ZM3.30 354.01H33.86V361.62H3.30ZM301.26 354.01H348.00V361.62H301.26ZM3.30 361.62H26.22V369.21H3.30ZM301.26 361.62H348.00V369.21H301.26ZM3.30 369.21H26.22V376.81H3.30ZM293.62 369.21H348.00V376.81H293.62ZM3.30 376.81H26.22V384.40H3.30ZM117.90 376.81H125.54V384.40H117.90ZM270.70 376.81H348.00V384.40H270.70ZM3.30 384.40H33.86V391.98H3.30ZM263.06 384.40H348.00V391.98H263.06ZM3.30 391.98H41.50V399.56H3.30ZM194.30 391.98H201.94V399.56H194.30ZM224.86 391.98H232.50V399.56H224.86ZM263.06 391.98H348.00V399.56H263.06ZM3.30 399.56H56.78V407.14H3.30ZM133.18 399.56H156.10V407.14H133.18ZM163.74 399.56H194.30V407.14H163.74ZM224.86 399.56H240.14V407.14H224.86ZM255.42 399.56H348.00V407.14H255.42ZM3.30 407.14H56.78V414.70H3.30ZM110.26 407.14H186.66V414.70H110.26ZM217.22 407.14H348.00V414.70H217.22ZM3.30 414.70H179.02V422.27H3.30ZM209.58 414.70H348.00V422.27H209.58ZM3.30 422.27H171.38V427.50H3.30ZM209.58 422.27H348.00V427.50H209.58Z"/><path fill="#00dfff" d="M293.62 0.00H348.00V6.53H293.62ZM171.38 6.53H194.30V14.37H171.38ZM301.26 6.53H348.00V14.37H301.26ZM133.18 14.37H194.30V22.21H133.18ZM301.26 14.37H348.00V22.21H301.26ZM133.18 22.21H224.86V30.03H133.18ZM301.26 22.21H348.00V30.03H301.26ZM133.18 30.03H240.14V37.86H133.18ZM301.26 30.03H348.00V37.86H301.26ZM133.18 37.86H255.42V45.67H133.18ZM301.26 37.86H348.00V45.67H301.26ZM140.82 45.67H156.10V53.49H140.82ZM163.74 45.67H263.06V53.49H163.74ZM301.26 45.67H348.00V53.49H301.26ZM140.82 53.49H270.70V61.29H140.82ZM301.26 53.49H348.00V61.29H301.26ZM140.82 61.29H278.34V69.09H140.82ZM301.26 61.29H348.00V69.09H301.26ZM140.82 69.09H278.34V76.89H140.82ZM308.90 69.09H348.00V76.89H308.90ZM140.82 76.89H285.98V84.68H140.82ZM308.90 76.89H348.00V84.68H308.90ZM140.82 84.68H293.62V92.46H140.82ZM316.54 84.68H348.00V92.46H316.54ZM148.46 92.46H293.62V100.24H148.46ZM316.54 92.46H348.00V100.24H316.54ZM148.46 100.24H293.62V108.02H148.46ZM316.54 100.24H348.00V108.02H316.54ZM156.10 108.02H293.62V115.78H156.10ZM324.18 108.02H348.00V115.78H324.18ZM156.10 115.78H301.26V123.55H156.10ZM316.54 115.78H348.00V123.55H316.54ZM156.10 123.55H301.26V131.30H156.10ZM316.54 123.55H348.00V131.30H316.54ZM163.74 131.30H270.70V139.06H163.74ZM301.26 131.30H308.90V139.06H301.26ZM316.54 131.30H348.00V139.06H316.54ZM163.74 139.06H270.70V146.80H163.74ZM308.90 139.06H348.00V146.80H308.90ZM163.74 146.80H270.70V154.55H163.74ZM308.90 146.80H348.00V154.55H308.90ZM171.38 154.55H278.34V162.28H171.38ZM316.54 154.55H348.00V162.28H316.54ZM171.38 162.28H285.98V170.01H171.38ZM324.18 162.28H348.00V170.01H324.18ZM179.02 170.01H232.50V177.74H179.02ZM247.78 170.01H293.62V177.74H247.78ZM331.82 170.01H348.00V177.74H331.82ZM179.02 177.74H224.86V185.46H179.02ZM255.42 177.74H293.62V185.46H255.42ZM301.26 177.74H308.90V185.46H301.26ZM331.82 177.74H348.00V185.46H331.82ZM179.02 185.46H209.58V193.17H179.02ZM217.22 185.46H224.86V193.17H217.22ZM301.26 185.46H308.90V193.17H301.26ZM339.46 185.46H348.00V193.17H339.46ZM179.02 193.17H194.30V200.88H179.02ZM339.46 193.17H348.00V200.88H339.46ZM179.02 200.88H186.66V208.59H179.02ZM339.46 200.88H348.00V208.59H339.46ZM339.46 208.59H348.00V216.29H339.46ZM339.46 216.29H348.00V223.98H339.46ZM339.46 223.98H348.00V231.67H339.46ZM270.70 231.67H278.34V239.36H270.70ZM339.46 231.67H348.00V239.36H339.46ZM263.06 239.36H293.62V247.04H263.06ZM301.26 239.36H308.90V247.04H301.26ZM339.46 239.36H348.00V247.04H339.46ZM255.42 247.04H301.26V254.71H255.42ZM339.46 247.04H348.00V254.71H339.46ZM148.46 254.71H163.74V262.38H148.46ZM247.78 254.71H301.26V262.38H247.78ZM331.82 254.71H348.00V262.38H331.82ZM240.14 262.38H301.26V270.04H240.14ZM331.82 262.38H348.00V270.04H331.82ZM240.14 270.04H308.90V277.70H240.14ZM331.82 270.04H348.00V277.70H331.82ZM240.14 277.70H308.90V285.36H240.14ZM339.46 277.70H348.00V285.36H339.46ZM110.26 285.36H125.54V293.00H110.26ZM194.30 285.36H224.86V293.00H194.30ZM247.78 285.36H301.26V293.00H247.78ZM339.46 285.36H348.00V293.00H339.46ZM102.62 293.00H133.18V300.65H102.62ZM163.74 293.00H217.22V300.65H163.74ZM247.78 293.00H301.26V300.65H247.78ZM331.82 293.00H348.00V300.65H331.82ZM140.82 300.65H217.22V308.29H140.82ZM247.78 300.65H263.06V308.29H247.78ZM278.34 300.65H293.62V308.29H278.34ZM331.82 300.65H348.00V308.29H331.82ZM148.46 308.29H163.74V315.92H148.46ZM186.66 308.29H209.58V315.92H186.66ZM247.78 308.29H255.42V315.92H247.78ZM331.82 308.29H348.00V315.92H331.82ZM148.46 315.92H171.38V323.55H148.46ZM186.66 315.92H209.58V323.55H186.66ZM324.18 315.92H339.46V323.55H324.18ZM125.54 323.55H156.10V331.17H125.54ZM163.74 323.55H179.02V331.17H163.74ZM186.66 323.55H217.22V331.17H186.66ZM324.18 323.55H339.46V331.17H324.18ZM26.22 331.17H49.14V338.79H26.22ZM72.06 331.17H87.34V338.79H72.06ZM186.66 331.17H201.94V338.79H186.66ZM316.54 331.17H324.18V338.79H316.54ZM26.22 338.79H33.86V346.40H26.22ZM49.14 338.79H56.78V346.40H49.14ZM64.42 338.79H79.70V346.40H64.42ZM186.66 338.79H209.58V346.40H186.66ZM26.22 346.40H79.70V354.01H26.22ZM179.02 346.40H209.58V354.01H179.02ZM33.86 354.01H87.34V361.62H33.86ZM148.46 354.01H156.10V361.62H148.46ZM179.02 354.01H201.94V361.62H179.02ZM285.98 354.01H301.26V361.62H285.98ZM26.22 361.62H94.98V369.21H26.22ZM179.02 361.62H194.30V369.21H179.02ZM285.98 361.62H301.26V369.21H285.98ZM26.22 369.21H102.62V376.81H26.22ZM110.26 369.21H117.90V376.81H110.26ZM270.70 369.21H293.62V376.81H270.70ZM26.22 376.81H117.90V384.40H26.22ZM125.54 376.81H156.10V384.40H125.54ZM194.30 376.81H224.86V384.40H194.30ZM255.42 376.81H270.70V384.40H255.42ZM33.86 384.40H148.46V391.98H33.86ZM156.10 384.40H163.74V391.98H156.10ZM194.30 384.40H224.86V391.98H194.30ZM247.78 384.40H263.06V391.98H247.78ZM41.50 391.98H194.30V399.56H41.50ZM201.94 391.98H224.86V399.56H201.94ZM232.50 391.98H263.06V399.56H232.50ZM56.78 399.56H133.18V407.14H56.78ZM156.10 399.56H163.74V407.14H156.10ZM194.30 399.56H224.86V407.14H194.30ZM240.14 399.56H255.42V407.14H240.14ZM56.78 407.14H110.26V414.70H56.78ZM186.66 407.14H217.22V414.70H186.66ZM179.02 414.70H209.58V422.27H179.02ZM171.38 422.27H209.58V427.50H171.38Z"/><path fill="#ffcf00" d="M270.70 131.30H301.26V139.06H270.70ZM270.70 139.06H308.90V146.80H270.70ZM270.70 146.80H308.90V154.55H270.70ZM278.34 154.55H316.54V162.28H278.34ZM285.98 162.28H324.18V170.01H285.98ZM232.50 170.01H247.78V177.74H232.50ZM293.62 170.01H331.82V177.74H293.62ZM224.86 177.74H255.42V185.46H224.86ZM293.62 177.74H301.26V185.46H293.62ZM308.90 177.74H331.82V185.46H308.90ZM209.58 185.46H217.22V193.17H209.58ZM224.86 185.46H301.26V193.17H224.86ZM308.90 185.46H339.46V193.17H308.90ZM194.30 193.17H339.46V200.88H194.30ZM186.66 200.88H339.46V208.59H186.66ZM179.02 208.59H339.46V216.29H179.02ZM179.02 216.29H339.46V223.98H179.02ZM179.02 223.98H339.46V231.67H179.02ZM179.02 231.67H270.70V239.36H179.02ZM278.34 231.67H339.46V239.36H278.34ZM179.02 239.36H263.06V247.04H179.02ZM293.62 239.36H301.26V247.04H293.62ZM308.90 239.36H339.46V247.04H308.90ZM179.02 247.04H255.42V254.71H179.02ZM301.26 247.04H339.46V254.71H301.26ZM163.74 254.71H247.78V262.38H163.74ZM301.26 254.71H331.82V262.38H301.26ZM140.82 262.38H163.74V270.04H140.82ZM171.38 262.38H240.14V270.04H171.38ZM301.26 262.38H331.82V270.04H301.26ZM125.54 270.04H163.74V277.70H125.54ZM171.38 270.04H217.22V277.70H171.38ZM232.50 270.04H240.14V277.70H232.50ZM308.90 270.04H331.82V277.70H308.90ZM117.90 277.70H217.22V285.36H117.90ZM224.86 277.70H240.14V285.36H224.86ZM308.90 277.70H339.46V285.36H308.90ZM125.54 285.36H156.10V293.00H125.54ZM163.74 285.36H194.30V293.00H163.74ZM224.86 285.36H247.78V293.00H224.86ZM301.26 285.36H339.46V293.00H301.26ZM133.18 293.00H163.74V300.65H133.18ZM217.22 293.00H247.78V300.65H217.22ZM301.26 293.00H331.82V300.65H301.26ZM94.98 300.65H140.82V308.29H94.98ZM217.22 300.65H247.78V308.29H217.22ZM263.06 300.65H278.34V308.29H263.06ZM293.62 300.65H331.82V308.29H293.62ZM87.34 308.29H148.46V315.92H87.34ZM163.74 308.29H186.66V315.92H163.74ZM209.58 308.29H224.86V315.92H209.58ZM232.50 308.29H247.78V315.92H232.50ZM255.42 308.29H331.82V315.92H255.42ZM79.70 315.92H148.46V323.55H79.70ZM171.38 315.92H186.66V323.55H171.38ZM209.58 315.92H224.86V323.55H209.58ZM232.50 315.92H240.14V323.55H232.50ZM247.78 315.92H324.18V323.55H247.78ZM72.06 323.55H125.54V331.17H72.06ZM156.10 323.55H163.74V331.17H156.10ZM179.02 323.55H186.66V331.17H179.02ZM217.22 323.55H224.86V331.17H217.22ZM247.78 323.55H324.18V331.17H247.78ZM87.34 331.17H186.66V338.79H87.34ZM201.94 331.17H217.22V338.79H201.94ZM247.78 331.17H316.54V338.79H247.78ZM33.86 338.79H49.14V346.40H33.86ZM79.70 338.79H186.66V346.40H79.70ZM209.58 338.79H224.86V346.40H209.58ZM247.78 338.79H316.54V346.40H247.78ZM79.70 346.40H179.02V354.01H79.70ZM209.58 346.40H217.22V354.01H209.58ZM240.14 346.40H308.90V354.01H240.14ZM87.34 354.01H148.46V361.62H87.34ZM156.10 354.01H179.02V361.62H156.10ZM201.94 354.01H217.22V361.62H201.94ZM240.14 354.01H285.98V361.62H240.14ZM94.98 361.62H179.02V369.21H94.98ZM194.30 361.62H217.22V369.21H194.30ZM240.14 361.62H285.98V369.21H240.14ZM102.62 369.21H110.26V376.81H102.62ZM117.90 369.21H163.74V376.81H117.90ZM171.38 369.21H209.58V376.81H171.38ZM240.14 369.21H270.70V376.81H240.14ZM156.10 376.81H163.74V384.40H156.10ZM171.38 376.81H194.30V384.40H171.38ZM224.86 376.81H255.42V384.40H224.86ZM148.46 384.40H156.10V391.98H148.46ZM163.74 384.40H194.30V391.98H163.74ZM224.86 384.40H247.78V391.98H224.86Z"/><path fill="#800000" d="M163.74 262.38H171.38V270.04H163.74ZM163.74 270.04H171.38V277.70H163.74ZM217.22 270.04H232.50V277.70H217.22ZM217.22 277.70H224.86V285.36H217.22ZM156.10 285.36H163.74V293.00H156.10ZM224.86 308.29H232.50V315.92H224.86ZM224.86 315.92H232.50V323.55H224.86ZM240.14 315.92H247.78V323.55H240.14ZM224.86 323.55H247.78V331.17H224.86ZM217.22 331.17H247.78V338.79H217.22ZM224.86 338.79H247.78V346.40H224.86ZM217.22 346.40H240.14V354.01H217.22ZM217.22 354.01H240.14V361.62H217.22ZM217.22 361.62H240.14V369.21H217.22ZM163.74 369.21H171.38V376.81H163.74ZM209.58 369.21H240.14V376.81H209.58ZM163.74 376.81H171.38V384.40H163.74Z"/></g>
<g shape-rendering="crispEdges"><path fill="#00008f" d="M3.30 277.70H10.94V285.36H3.30ZM3.30 323.55H10.94V331.17H3.30Z"/></g><path d="M37.7 342.5L37.6 342.6M37.6 342.6L37.7 342.7M45.3 342.5L37.7 342.5M45.3 342.7L37.7 342.7M45.4 342.6L45.3 342.5M45.4 342.6L45.3 342.7M83.5 327.4L75.9 327.4M83.5 342.5L83.4 342.6M83.4 342.6L83.4 350.2M83.4 350.2L83.5 350.3M91.1 335.0L83.5 327.4M91.1 335.0L83.5 342.5M91.1 357.8L83.5 350.3M91.1 357.8L91.2 357.9M98.7 365.4L91.2 357.9M98.7 365.4L98.8 365.5M106.4 373.0L98.8 365.5M106.4 373.0L106.4 373.1M114.1 304.4L106.4 304.4M114.1 365.5L106.5 373.0M106.5 373.0L106.4 373.1M121.7 304.4L114.1 304.4M121.6 373.0L114.1 365.5M121.6 373.0L121.7 373.0M129.3 289.2L121.7 281.6M129.3 289.2L129.4 289.3M129.4 304.4L121.7 304.4M129.4 319.8L121.8 327.4M121.8 327.4L129.4 334.9M129.4 373.1L121.7 373.0M136.9 296.8L129.4 289.3M136.9 296.8L129.4 304.4M137.0 319.8L129.4 319.8M137.0 334.9L129.4 334.9M137.0 373.1L129.4 373.1M144.6 296.9L137.1 304.5M137.1 304.5L144.6 312.0M144.6 319.8L137.0 319.8M144.6 334.9L137.0 334.9M144.6 373.1L137.0 373.1M152.3 296.9L144.6 296.9M144.7 312.1L144.6 312.0M144.7 312.1L144.7 319.7M144.7 319.7L144.6 319.8M152.3 334.9L144.6 334.9M152.3 350.3L144.7 357.8M144.7 357.8L152.3 365.3M152.3 373.1L144.6 373.1M152.3 388.1L152.2 388.2M152.2 388.2L152.3 388.3M159.9 266.1L152.3 266.1M159.9 296.9L152.3 296.9M159.9 327.3L159.8 327.4M159.8 327.4L152.3 334.9M159.8 357.8L152.3 350.3M159.8 357.8L152.3 365.3M159.8 380.6L152.3 373.1M159.8 380.6L159.9 380.7M152.4 388.2L152.3 388.1M152.4 388.2L152.3 388.3M167.5 258.5L159.9 266.1M167.6 289.3L160.0 296.8M160.0 296.8L159.9 296.9M167.6 312.0L167.5 312.1M167.5 312.1L167.6 312.2M160.0 327.4L159.9 327.3M160.0 327.4L167.6 334.9M167.5 388.2L159.9 380.7M167.5 388.2L167.6 388.3M175.2 289.3L167.6 289.3M175.2 312.0L167.6 312.0M175.1 319.7L167.6 312.2M175.1 319.7L175.2 319.8M175.2 334.9L167.6 334.9M175.2 388.3L167.6 388.3M182.8 289.3L175.2 289.3M182.8 312.0L175.2 312.0M182.8 327.4L175.2 319.8M182.8 327.4L175.2 334.9M182.8 342.7L175.3 350.2M175.3 350.2L175.3 357.8M175.3 357.8L175.3 365.4M175.3 365.4L182.8 372.9M182.8 388.3L175.2 388.3M190.5 204.7L190.4 204.7M190.4 204.7L182.8 212.4M190.5 289.3L182.8 289.3M182.9 312.1L182.8 312.0M182.9 312.1L182.9 319.7M182.9 319.7L182.9 327.4M182.9 327.4L182.9 335.0M182.9 335.0L182.9 342.6M182.9 342.6L182.8 342.7M190.5 372.9L182.8 372.9M190.5 388.3L182.8 388.3M198.1 197.0L198.0 197.0M198.0 197.0L190.5 204.7M198.1 281.6L190.6 289.2M190.6 289.2L190.5 289.3M198.1 365.3L198.0 365.4M198.0 365.4L190.5 372.9M198.1 373.1L190.6 380.6M190.6 380.6L190.6 388.2M190.6 388.2L190.5 388.3M205.8 197.0L198.1 197.0M205.8 281.6L198.1 281.6M205.8 334.9L205.7 335.0M205.7 335.0L205.8 335.1M205.8 357.7L205.7 357.8M205.7 357.8L198.1 365.3M205.8 373.1L198.1 373.1M213.4 189.2L213.3 189.3M213.3 189.3L205.8 197.0M213.4 281.6L205.8 281.6M213.4 312.0L213.3 312.1M213.3 312.1L213.3 319.7M213.3 319.7L213.4 319.8M213.4 334.9L205.8 334.9M213.3 342.6L205.8 335.1M213.3 342.6L213.3 350.2M213.3 350.2L205.8 357.7M213.4 376.8L205.8 373.1M213.5 189.3L213.4 189.2M213.5 189.3L221.0 197.0M221.0 285.4L213.4 281.6M221.0 296.7L221.0 296.8M221.0 296.8L221.0 304.5M221.0 304.5L213.4 312.0M221.0 327.4L213.4 319.8M221.0 327.4L213.4 334.9M221.0 376.8L213.4 376.8M228.7 181.5L228.6 181.6M228.6 181.6L228.6 189.3M228.6 189.3L221.0 197.0M228.6 289.2L221.0 285.4M228.6 289.2L221.0 296.7M228.6 380.6L221.0 376.8M228.6 380.6L228.6 388.2M228.6 388.2L228.7 388.2M236.3 173.8L236.2 173.9M236.2 173.9L228.7 181.5M236.3 388.3L228.7 388.2M244.0 173.8L236.3 173.8M244.0 258.6L236.4 266.2M236.4 266.2L236.4 273.9M236.4 273.9L236.4 281.5M236.4 281.5L244.0 289.1M244.0 388.3L236.3 388.3M244.0 173.9L244.0 173.8M244.0 173.9L251.6 181.5M251.6 251.0L244.0 258.5M244.0 258.5L244.0 258.6M244.0 289.2L244.0 289.1M244.0 289.2L244.0 296.8M244.0 296.8L244.0 304.5M244.0 304.5L244.0 312.1M244.0 312.1L251.6 319.7M251.6 380.7L244.0 388.2M244.0 388.2L244.0 388.3M251.7 181.6L251.6 181.5M251.7 181.6L259.2 189.2M259.2 243.3L251.7 250.9M251.7 250.9L251.6 251.0M259.2 312.0L259.2 312.1M259.2 312.1L251.6 319.7M259.2 373.1L251.7 380.6M251.7 380.6L251.6 380.7M266.9 189.2L259.2 189.2M266.9 235.6L259.3 243.2M259.3 243.2L259.2 243.3M266.9 304.4L266.8 304.5M266.8 304.5L259.2 312.0M266.9 373.1L259.2 373.1M274.5 135.1L274.4 135.2M274.4 135.2L274.4 142.9M274.4 142.9L274.4 150.7M274.4 150.7L274.5 150.8M274.5 189.2L266.9 189.2M274.5 227.9L267.0 235.5M267.0 235.5L266.9 235.6M274.5 304.4L266.9 304.4M274.5 365.5L267.0 373.0M267.0 373.0L266.9 373.1M282.2 135.1L274.5 135.1M282.1 158.4L274.5 150.8M282.1 158.4L282.2 158.5M282.2 189.2L274.5 189.2M282.1 235.5L274.5 227.9M282.1 235.5L282.2 235.6M274.6 304.5L274.5 304.4M274.6 304.5L282.2 312.0M282.2 365.5L274.5 365.5M289.8 135.1L282.2 135.1M289.7 166.1L282.2 158.5M289.7 166.1L289.8 166.2M289.8 189.2L282.2 189.2M289.8 235.6L282.2 235.6M289.8 312.0L282.2 312.0M289.8 350.3L282.2 357.8M282.2 357.8L282.2 365.4M282.2 365.4L282.2 365.5M297.4 135.1L289.8 135.1M297.4 173.9L289.8 166.2M297.4 173.9L297.4 181.6M297.4 181.6L289.8 189.2M297.4 243.2L289.8 235.6M297.4 243.2L297.4 243.3M297.4 304.4L297.4 304.5M297.4 304.5L289.8 312.0M297.4 350.3L289.8 350.3M297.5 135.2L297.4 135.1M297.5 135.2L305.1 142.9M305.1 174.0L297.5 181.6M297.5 181.6L297.5 189.3M297.5 189.3L305.1 197.0M305.1 235.6L297.5 243.2M297.5 243.2L305.1 250.8M305.0 250.9L297.4 243.3M305.0 250.9L305.0 258.5M305.0 258.5L305.0 266.2M305.0 266.2L305.1 266.3M305.1 289.1L305.0 289.2M305.0 289.2L305.0 296.8M305.0 296.8L297.4 304.4M305.1 350.2L297.4 350.3M305.2 142.9L305.1 142.9M305.2 142.9L305.2 150.7M305.2 150.7L312.7 158.3M312.6 181.6L305.1 174.0M312.6 181.6L312.6 189.3M312.6 189.3L305.1 197.0M312.6 243.2L305.1 235.6M312.6 243.2L305.1 250.8M312.6 273.9L305.1 266.3M312.6 273.9L312.6 281.5M312.6 281.5L305.1 289.1M312.7 342.6L305.1 350.2M305.1 350.2L305.1 350.2M312.8 158.4L312.7 158.3M312.8 158.4L320.4 166.1M320.4 327.4L312.8 335.0M312.8 335.0L312.8 342.6M312.8 342.6L312.7 342.6M320.4 166.1L320.4 166.1M320.4 166.1L328.0 173.8M328.0 312.2L320.4 319.7M320.4 319.7L320.4 327.4M320.4 327.4L320.4 327.4M328.1 173.9L328.0 173.8M328.1 173.9L328.1 181.6M328.1 181.6L335.6 189.2M335.6 251.0L328.1 258.5M328.1 258.5L328.1 266.2M328.1 266.2L328.1 273.9M328.1 273.9L335.6 281.5M335.6 289.3L328.1 296.8M328.1 296.8L328.1 304.5M328.1 304.5L328.1 312.1M328.1 312.1L328.0 312.2M335.7 189.3L335.6 189.2M335.7 189.3L335.7 197.0M335.7 197.0L335.7 204.7M335.7 204.7L335.7 212.4M335.7 212.4L335.7 220.1M335.7 220.1L335.7 227.8M335.7 227.8L335.7 235.5M335.7 235.5L335.7 243.2M335.7 243.2L335.7 250.9M335.7 250.9L335.6 251.0M335.7 281.5L335.6 281.5M335.7 281.5L335.7 289.2M335.7 289.2L335.6 289.3" stroke="#000" stroke-width="0.9" fill="none" stroke-linecap="round"/><g transform="translate(153.8,269.7) rotate(-20)"><text x="0" y="4.68" font-size="13" text-anchor="middle" fill="#000">2</text></g><g transform="translate(126.6,306.8) rotate(70)"><text x="0" y="4.68" font-size="13" text-anchor="middle" fill="#000">2</text></g><g transform="translate(139,322.7) rotate(60)"><text x="0" y="4.68" font-size="13" text-anchor="middle" fill="#000">2</text></g><g transform="translate(168.6,316.8) rotate(-10)"><text x="0" y="4.68" font-size="13" text-anchor="middle" fill="#000">2</text></g><g transform="translate(240.8,313.2) rotate(-70)"><text x="0" y="4.68" font-size="13" text-anchor="middle" fill="#000">2</text></g><g transform="translate(273.6,311) rotate(-20)"><text x="0" y="4.68" font-size="13" text-anchor="middle" fill="#000">2</text></g><g transform="translate(83.8,358.8) rotate(40)"><text x="0" y="4.68" font-size="13" text-anchor="middle" fill="#000">2</text></g><g transform="translate(144,362) rotate(50)"><text x="0" y="4.68" font-size="13" text-anchor="middle" fill="#000">2</text></g><g transform="translate(172,361.4) rotate(80)"><text x="0" y="4.68" font-size="13" text-anchor="middle" fill="#000">2</text></g><g transform="translate(294.9,353.5) rotate(-10)"><text x="0" y="4.68" font-size="13" text-anchor="middle" fill="#000">2</text></g><g transform="translate(298,149) rotate(40)"><text x="0" y="4.68" font-size="13" text-anchor="middle" fill="#000">2</text></g><g transform="translate(211,195.7) rotate(-30)"><text x="0" y="4.68" font-size="13" text-anchor="middle" fill="#000">2</text></g><path d="M154.4 157.3H170.8M162.6 149.1V165.5M156.8 151.5L168.4 163.1M156.8 163.1L168.4 151.5" stroke="#ff0000" stroke-width="1.15" fill="none"/><path d="M163.4 250.1H179.8M171.6 241.9V258.3M165.8 244.3L177.4 255.9M165.8 255.9L177.4 244.3" stroke="#ff0000" stroke-width="1.15" fill="none"/><path d="M60.0 320.8H76.4M68.2 312.6V329.0M62.4 315.0L74.0 326.6M62.4 326.6L74.0 315.0" stroke="#ff0000" stroke-width="1.15" fill="none"/>
</g>
<rect x="0" y="0" width="348.0" height="427.5" fill="none" stroke="#000" stroke-width="1"/>
<g shape-rendering="crispEdges"><rect x="125.54" y="-0.55" width="7.64" height="1.2" fill="#00008f"/><rect x="133.18" y="-0.55" width="7.64" height="1.2" fill="#00008f"/><rect x="140.82" y="-0.55" width="7.64" height="1.2" fill="#00008f"/><rect x="148.46" y="-0.55" width="7.64" height="1.2" fill="#00008f"/><rect x="156.10" y="-0.55" width="7.64" height="1.2" fill="#00008f"/><rect x="163.74" y="-0.55" width="7.64" height="1.2" fill="#00008f"/><rect x="171.38" y="-0.55" width="7.64" height="1.2" fill="#00008f"/><rect x="179.02" y="-0.55" width="7.64" height="1.2" fill="#00008f"/><rect x="186.66" y="-0.55" width="7.64" height="1.2" fill="#00008f"/><rect x="194.30" y="-0.55" width="7.64" height="1.2" fill="#00008f"/><rect x="201.94" y="-0.55" width="7.64" height="1.2" fill="#00008f"/><rect x="209.58" y="-0.55" width="7.64" height="1.2" fill="#00008f"/><rect x="217.22" y="-0.55" width="7.64" height="1.2" fill="#00008f"/><rect x="224.86" y="-0.55" width="7.64" height="1.2" fill="#00008f"/><rect x="232.50" y="-0.55" width="7.64" height="1.2" fill="#00008f"/><rect x="240.14" y="-0.55" width="7.64" height="1.2" fill="#00008f"/><rect x="247.78" y="-0.55" width="7.64" height="1.2" fill="#00008f"/><rect x="255.42" y="-0.55" width="7.64" height="1.2" fill="#00008f"/><rect x="263.06" y="-0.55" width="7.64" height="1.2" fill="#00008f"/><rect x="270.70" y="-0.55" width="7.64" height="1.2" fill="#00008f"/><rect x="278.34" y="-0.55" width="7.64" height="1.2" fill="#00008f"/><rect x="285.98" y="-0.55" width="7.64" height="1.2" fill="#00008f"/><rect x="293.62" y="-0.55" width="7.64" height="1.2" fill="#00dfff"/><rect x="301.26" y="-0.55" width="7.64" height="1.2" fill="#00dfff"/><rect x="308.90" y="-0.55" width="7.64" height="1.2" fill="#00dfff"/><rect x="316.54" y="-0.55" width="7.64" height="1.2" fill="#00dfff"/><rect x="324.18" y="-0.55" width="7.64" height="1.2" fill="#00dfff"/><rect x="331.82" y="-0.55" width="7.64" height="1.2" fill="#00dfff"/><rect x="339.46" y="-0.55" width="7.64" height="1.2" fill="#00dfff"/><rect x="347.10" y="-0.55" width="1.40" height="1.2" fill="#00dfff"/></g>
<text x="-7" y="7.0" font-size="19.5" text-anchor="end" fill="#000" textLength="46" lengthAdjust="spacingAndGlyphs">37°N</text>
<text x="-7" y="151.3" font-size="19.5" text-anchor="end" fill="#000" textLength="46" lengthAdjust="spacingAndGlyphs">36°N</text>
<text x="-7" y="293.8" font-size="19.5" text-anchor="end" fill="#000" textLength="46" lengthAdjust="spacingAndGlyphs">35°N</text>
<text x="-7" y="434.5" font-size="19.5" text-anchor="end" fill="#000" textLength="46" lengthAdjust="spacingAndGlyphs">34°N</text>
<text x="-6" y="77.4" font-size="14.5" text-anchor="end" fill="#000" textLength="21.5" lengthAdjust="spacingAndGlyphs">30'</text>
<text x="-6" y="220.7" font-size="14.5" text-anchor="end" fill="#000" textLength="21.5" lengthAdjust="spacingAndGlyphs">30'</text>
<text x="-6" y="362.3" font-size="14.5" text-anchor="end" fill="#000" textLength="21.5" lengthAdjust="spacingAndGlyphs">30'</text>
<text x="0" y="448" font-size="19.5" text-anchor="middle" fill="#000" textLength="50.5" lengthAdjust="spacingAndGlyphs">77°W</text>
<text x="116" y="448" font-size="19.5" text-anchor="middle" fill="#000" textLength="50.5" lengthAdjust="spacingAndGlyphs">76°W</text>
<text x="232" y="448" font-size="19.5" text-anchor="middle" fill="#000" textLength="50.5" lengthAdjust="spacingAndGlyphs">75°W</text>
<text x="348" y="448" font-size="19.5" text-anchor="middle" fill="#000" textLength="50.5" lengthAdjust="spacingAndGlyphs">74°W</text>
<text x="58" y="443.5" font-size="14.5" text-anchor="middle" fill="#000" textLength="21.5" lengthAdjust="spacingAndGlyphs">30'</text>
<text x="174" y="443.5" font-size="14.5" text-anchor="middle" fill="#000" textLength="21.5" lengthAdjust="spacingAndGlyphs">30'</text>
<text x="290" y="443.5" font-size="14.5" text-anchor="middle" fill="#000" textLength="21.5" lengthAdjust="spacingAndGlyphs">30'</text>
<text x="79" y="-11.7" font-size="20" font-weight="bold" fill="#000" textLength="188.5" lengthAdjust="spacingAndGlyphs">Number of Sites (2)</text><text x="4" y="7.2" font-size="19.5" text-anchor="middle" fill="#3a3a3a">0</text><text x="41.6" y="7.2" font-size="19.5" text-anchor="middle" fill="#3a3a3a">1</text><text x="79" y="7.2" font-size="19.5" text-anchor="middle" fill="#3a3a3a">2</text><text x="116.5" y="7.2" font-size="19.5" text-anchor="middle" fill="#3a3a3a">3</text><rect x="4.2" y="19.9" width="112.3" height="25.1" fill="url(#jet)" stroke="#262626" stroke-width="1"/><text x="285.0" y="37" font-size="19.5" fill="#000" textLength="57" lengthAdjust="spacingAndGlyphs">10 km</text><path d="M306.5 43.1H320.5" stroke="#000" stroke-width="3.6" stroke-linecap="round"/>
</g>
<g transform="translate(75.0,742.5)">
<rect x="0" y="0" width="348.0" height="427.5" fill="#fff"/>
<g clip-path="url(#clip)">
<use href="#coast"/>
<path d="M58 0V427.5M116 0V427.5M174 0V427.5M232 0V427.5M290 0V427.5M0 72.4H348.0M0 144.3H348.0M0 215.7H348.0M0 286.8H348.0M0 357.3H348.0" stroke="#000" stroke-opacity="0.16" stroke-width="1" stroke-dasharray="2 5" fill="none"/>
<path d="M0 427.5v-4M0 0v4M58 427.5v-4M58 0v4M116 427.5v-4M116 0v4M174 427.5v-4M174 0v4M232 427.5v-4M232 0v4M290 427.5v-4M290 0v4M348 427.5v-4M348 0v4M0 72.4h4M348.0 72.4h-4M0 144.3h4M348.0 144.3h-4M0 215.7h4M348.0 215.7h-4M0 286.8h4M348.0 286.8h-4M0 357.3h4M348.0 357.3h-4" stroke="#000" stroke-width="1" fill="none"/>

<path d="M273.3 0.2L272.3 4.6L272.0 9.1L271.4 13.2L270.0 17.8L268.9 21.9L268.5 26.1L267.8 30.8L267.1 33.4L266.1 37.8L264.8 42.7L263.9 45.8L263.1 50.6L261.6 54.7L261.4 59.4L261.1 63.9L261.5 68.0L260.2 72.6L260.5 76.8L260.2 81.0L257.8 86.0L256.3 90.3L255.2 95.3L254.5 98.9L254.4 103.1L253.3 107.4L252.6 111.6L252.7 116.0L251.8 120.6L251.4 124.8L251.2 129.6L251.4 133.7L251.7 137.4L250.6 141.8L249.2 145.4L248.0 150.3L247.5 154.7L247.1 158.8L246.6 162.5L246.3 166.1L247.3 171.0L248.1 174.9L247.6 179.8L248.7 183.2L249.9 188.2L250.8 192.4L251.3 197.3L252.9 201.1L249.7 207.1L251.1 213.6L248.5 218.1L246.4 222.0L242.8 227.0L239.7 231.8L236.2 236.2L233.4 241.1L230.6 246.5L228.4 249.8L224.6 253.4L221.4 258.0L217.6 262.4L214.5 266.1L210.6 269.7L207.2 271.6L201.7 277.6L198.7 281.0L196.1 284.7L191.3 290.3L188.9 293.6L186.1 297.4L183.4 300.7L180.4 304.2L177.3 308.5L174.9 312.9L172.6 315.5L168.9 320.0L166.4 322.6L163.5 326.3L160.2 329.8L156.7 335.4L153.1 339.0L150.6 342.7L146.4 346.7L142.9 350.3L139.5 353.9L133.9 359.6L130.4 362.6L127.7 365.5L124.8 369.7L122.0 374.8L119.1 379.9L116.1 384.4L112.3 388.7L108.2 392.8L103.1 397.4L100.2 402.1L95.8 407.3L93.6 410.5L90.4 413.5L88.3 416.6L85.4 420.8L82.5 423.6L79.7 427.5" fill="none" stroke="#000" stroke-width="1.1"/><g transform="translate(252.5,118) rotate(-86)"><rect x="-19" y="-7.5" width="38" height="15" fill="#fff"/><text x="0" y="5.8" font-size="16" text-anchor="middle" fill="#000" textLength="35" lengthAdjust="spacingAndGlyphs">-100</text></g><g transform="translate(168,318) rotate(-54)"><rect x="-19" y="-7.5" width="38" height="15" fill="#fff"/><text x="0" y="5.8" font-size="16" text-anchor="middle" fill="#000" textLength="35" lengthAdjust="spacingAndGlyphs">-100</text></g><circle cx="259.5" cy="55.5" r="1.6" fill="#fff" stroke="#000" stroke-width="0.8"/><path d="M160.7 150.2h0M158.8 143.0h0M156.9 135.9h0M155.0 128.8h0M153.0 121.6h0M151.1 114.5h0M149.2 107.4h0M147.3 100.2h0M145.4 93.1h0M143.5 86.0h0M141.6 78.8h0M137.8 64.6h0M135.8 57.4h0M161.3 150.0h0M160.0 142.8h0M158.8 135.5h0M157.5 128.2h0M156.2 120.9h0M154.9 113.7h0M153.6 106.4h0M152.3 99.1h0M151.1 91.8h0M149.8 84.6h0M148.5 77.3h0M145.9 62.8h0M143.4 48.2h0M162.0 149.9h0M161.3 142.6h0M160.7 135.2h0M160.0 127.9h0M159.4 120.5h0M158.7 113.2h0M158.1 105.8h0M157.5 98.4h0M156.8 91.1h0M156.2 83.7h0M155.5 76.4h0M153.6 54.3h0M152.3 39.6h0M162.6 149.9h0M162.6 142.5h0M162.6 135.1h0M162.6 127.8h0M162.6 120.4h0M162.6 113.0h0M162.6 105.6h0M162.6 98.2h0M162.6 90.8h0M162.6 83.5h0M162.6 76.1h0M162.6 61.3h0M162.6 39.1h0M162.6 31.8h0M162.6 24.4h0M163.2 149.9h0M163.9 142.6h0M164.5 135.2h0M165.2 127.9h0M165.8 120.5h0M166.5 113.2h0M167.1 105.8h0M167.7 98.4h0M168.4 91.1h0M169.0 83.7h0M169.7 76.4h0M170.3 69.0h0M171.6 54.3h0M172.3 46.9h0M172.9 39.6h0M163.9 150.0h0M165.2 142.8h0M166.4 135.5h0M167.7 128.2h0M169.0 120.9h0M170.3 113.7h0M171.6 106.4h0M172.9 99.1h0M174.1 91.8h0M175.4 84.6h0M176.7 77.3h0M179.3 62.8h0M180.6 55.5h0M164.5 150.2h0M166.4 143.0h0M168.3 135.9h0M170.2 128.8h0M172.2 121.6h0M174.1 114.5h0M176.0 107.4h0M177.9 100.2h0M179.8 93.1h0M181.7 86.0h0M183.6 78.8h0M187.4 64.6h0M189.4 57.4h0M195.1 36.0h0M165.1 150.4h0M167.7 143.4h0M170.2 136.5h0M172.7 129.5h0M175.2 122.6h0M177.8 115.7h0M180.3 108.7h0M182.8 101.8h0M185.3 94.8h0M187.9 87.9h0M190.4 81.0h0M192.9 74.0h0M195.4 67.1h0M198.0 60.1h0M200.5 53.2h0M165.7 150.6h0M168.8 143.9h0M172.0 137.2h0M175.1 130.5h0M178.2 123.8h0M181.3 117.1h0M184.4 110.4h0M187.6 103.8h0M190.7 97.1h0M193.8 90.4h0M196.9 83.7h0M200.1 77.0h0M203.2 70.3h0M206.3 63.6h0M209.4 56.9h0M212.5 50.2h0M215.7 43.5h0M166.3 150.9h0M170.0 144.5h0M173.7 138.1h0M177.4 131.7h0M181.1 125.3h0M184.8 118.9h0M188.4 112.5h0M192.1 106.1h0M195.8 99.7h0M199.5 93.3h0M203.2 86.9h0M206.9 80.6h0M210.6 74.2h0M214.3 67.8h0M218.0 61.4h0M166.8 151.3h0M171.1 145.2h0M175.3 139.2h0M179.5 133.1h0M183.8 127.1h0M188.0 121.0h0M192.3 115.0h0M196.5 108.9h0M200.7 102.9h0M205.0 96.8h0M209.2 90.8h0M213.4 84.7h0M217.7 78.7h0M221.9 72.6h0M226.1 66.6h0M167.3 151.6h0M172.1 146.0h0M176.8 140.3h0M181.6 134.7h0M186.3 129.0h0M191.1 123.4h0M195.8 117.7h0M200.6 112.0h0M205.3 106.4h0M210.1 100.7h0M214.8 95.1h0M219.6 89.4h0M224.3 83.8h0M229.1 78.1h0M233.8 72.4h0M238.6 66.8h0M167.8 152.1h0M173.0 146.9h0M178.3 141.6h0M183.5 136.4h0M188.7 131.2h0M193.9 126.0h0M199.2 120.7h0M204.4 115.5h0M209.6 110.3h0M214.8 105.1h0M220.0 99.9h0M225.3 94.6h0M230.5 89.4h0M235.7 84.2h0M240.9 79.0h0M168.3 152.6h0M173.9 147.8h0M179.6 143.1h0M185.2 138.3h0M190.9 133.6h0M196.5 128.8h0M202.2 124.1h0M207.9 119.3h0M213.5 114.6h0M219.2 109.8h0M224.8 105.1h0M230.5 100.3h0M236.1 95.6h0M241.8 90.8h0M247.5 86.1h0M253.1 81.3h0M168.6 153.1h0M174.7 148.8h0M180.7 144.6h0M186.8 140.4h0M192.8 136.1h0M198.9 131.9h0M204.9 127.6h0M211.0 123.4h0M217.0 119.2h0M223.1 114.9h0M229.1 110.7h0M235.2 106.5h0M241.2 102.2h0M247.3 98.0h0M253.3 93.8h0M259.4 89.5h0M265.4 85.3h0M169.0 153.6h0M175.4 149.9h0M181.8 146.2h0M188.2 142.5h0M194.6 138.8h0M201.0 135.1h0M207.4 131.5h0M213.8 127.8h0M220.2 124.1h0M226.6 120.4h0M233.0 116.7h0M239.3 113.0h0M245.7 109.3h0M252.1 105.6h0M258.5 101.9h0M169.3 154.2h0M176.0 151.1h0M182.7 147.9h0M189.4 144.8h0M196.1 141.7h0M202.8 138.6h0M209.5 135.5h0M216.1 132.3h0M222.8 129.2h0M229.5 126.1h0M236.2 123.0h0M242.9 119.8h0M249.6 116.7h0M256.3 113.6h0M263.0 110.5h0M269.7 107.4h0M289.8 98.0h0M296.5 94.9h0M303.2 91.8h0M309.8 88.6h0M316.5 85.5h0M323.2 82.4h0M336.6 76.2h0M343.3 73.0h0M169.5 154.8h0M176.5 152.2h0M183.4 149.7h0M190.4 147.2h0M197.3 144.7h0M204.2 142.1h0M211.2 139.6h0M218.1 137.1h0M225.1 134.6h0M232.0 132.0h0M238.9 129.5h0M245.9 127.0h0M252.8 124.5h0M259.8 121.9h0M266.7 119.4h0M280.6 114.4h0M287.5 111.8h0M315.3 101.7h0M329.2 96.7h0M336.1 94.2h0M343.0 91.6h0M169.7 155.4h0M176.9 153.5h0M184.0 151.6h0M191.1 149.7h0M198.3 147.7h0M205.4 145.8h0M212.5 143.9h0M219.7 142.0h0M226.8 140.1h0M233.9 138.2h0M241.1 136.3h0M248.2 134.4h0M255.3 132.5h0M262.5 130.5h0M269.6 128.6h0M169.9 156.0h0M177.1 154.7h0M184.4 153.5h0M191.7 152.2h0M199.0 150.9h0M206.2 149.6h0M213.5 148.3h0M220.8 147.0h0M228.1 145.8h0M235.3 144.5h0M242.6 143.2h0M249.9 141.9h0M257.1 140.6h0M264.4 139.3h0M271.7 138.1h0M279.0 136.8h0M286.2 135.5h0M322.6 129.1h0M337.1 126.5h0M170.0 156.7h0M177.3 156.0h0M184.7 155.4h0M192.0 154.7h0M199.4 154.1h0M206.7 153.4h0M214.1 152.8h0M221.5 152.2h0M228.8 151.5h0M236.2 150.9h0M243.5 150.2h0M250.9 149.6h0M258.2 148.9h0M265.6 148.3h0M273.0 147.6h0M280.3 147.0h0M287.7 146.4h0M302.4 145.1h0M317.1 143.8h0M324.5 143.1h0M331.8 142.5h0M339.2 141.9h0M170.0 157.3h0M177.4 157.3h0M184.8 157.3h0M192.1 157.3h0M199.5 157.3h0M206.9 157.3h0M214.3 157.3h0M221.7 157.3h0M229.1 157.3h0M236.4 157.3h0M243.8 157.3h0M251.2 157.3h0M258.6 157.3h0M266.0 157.3h0M273.4 157.3h0M280.8 157.3h0M288.1 157.3h0M302.9 157.3h0M325.1 157.3h0M339.8 157.3h0M170.0 157.9h0M177.3 158.6h0M184.7 159.2h0M192.0 159.9h0M199.4 160.5h0M206.7 161.2h0M214.1 161.8h0M221.5 162.4h0M228.8 163.1h0M236.2 163.7h0M243.5 164.4h0M250.9 165.0h0M258.2 165.7h0M265.6 166.3h0M273.0 167.0h0M280.3 167.6h0M295.0 168.9h0M309.7 170.2h0M169.9 158.6h0M177.1 159.9h0M184.4 161.1h0M191.7 162.4h0M199.0 163.7h0M206.2 165.0h0M213.5 166.3h0M220.8 167.6h0M228.1 168.8h0M235.3 170.1h0M242.6 171.4h0M249.9 172.7h0M257.1 174.0h0M264.4 175.3h0M271.7 176.5h0M293.5 180.4h0M308.1 182.9h0M322.6 185.5h0M329.9 186.8h0M337.1 188.1h0M344.4 189.4h0M169.7 159.2h0M176.9 161.1h0M184.0 163.0h0M191.1 164.9h0M198.3 166.9h0M205.4 168.8h0M212.5 170.7h0M219.7 172.6h0M226.8 174.5h0M233.9 176.4h0M241.1 178.3h0M248.2 180.2h0M255.3 182.1h0M262.5 184.1h0M269.6 186.0h0M276.7 187.9h0M291.0 191.7h0M298.1 193.6h0M305.3 195.5h0M169.5 159.8h0M176.5 162.4h0M183.4 164.9h0M190.4 167.4h0M197.3 169.9h0M204.2 172.5h0M211.2 175.0h0M218.1 177.5h0M225.1 180.0h0M232.0 182.6h0M238.9 185.1h0M245.9 187.6h0M252.8 190.1h0M259.8 192.7h0M266.7 195.2h0M169.3 160.4h0M176.0 163.5h0M182.7 166.7h0M189.4 169.8h0M196.1 172.9h0M202.8 176.0h0M209.5 179.1h0M216.1 182.3h0M222.8 185.4h0M229.5 188.5h0M236.2 191.6h0M242.9 194.8h0M249.6 197.9h0M256.3 201.0h0M263.0 204.1h0M269.7 207.2h0M276.4 210.4h0M169.0 161.0h0M175.4 164.7h0M181.8 168.4h0M188.2 172.1h0M194.6 175.8h0M201.0 179.5h0M207.4 183.1h0M213.8 186.8h0M220.2 190.5h0M226.6 194.2h0M233.0 197.9h0M239.3 201.6h0M245.7 205.3h0M252.1 209.0h0M258.5 212.7h0M264.9 216.4h0M168.6 161.5h0M174.7 165.8h0M180.7 170.0h0M186.8 174.2h0M192.8 178.5h0M198.9 182.7h0M204.9 187.0h0M211.0 191.2h0M217.0 195.4h0M223.1 199.7h0M229.1 203.9h0M235.2 208.1h0M241.2 212.4h0M247.3 216.6h0M253.3 220.8h0M168.3 162.0h0M173.9 166.8h0M179.6 171.5h0M185.2 176.3h0M190.9 181.0h0M196.5 185.8h0M202.2 190.5h0M207.9 195.3h0M213.5 200.0h0M219.2 204.8h0M224.8 209.5h0M230.5 214.3h0M236.1 219.0h0M241.8 223.8h0M247.5 228.5h0M167.8 162.5h0M173.0 167.7h0M178.3 173.0h0M183.5 178.2h0M188.7 183.4h0M193.9 188.6h0M199.2 193.9h0M204.4 199.1h0M209.6 204.3h0M214.8 209.5h0M220.0 214.7h0M225.3 220.0h0M230.5 225.2h0M235.7 230.4h0M240.9 235.6h0M251.4 246.1h0M256.6 251.3h0M267.0 261.7h0M282.7 277.4h0M287.9 282.6h0M293.1 287.8h0M298.4 293.1h0M303.6 298.3h0M308.8 303.5h0M324.5 319.2h0M329.7 324.4h0M340.1 334.8h0M167.3 163.0h0M172.1 168.6h0M176.8 174.3h0M181.6 179.9h0M186.3 185.6h0M191.1 191.2h0M195.8 196.9h0M200.6 202.6h0M205.3 208.2h0M210.1 213.9h0M214.8 219.5h0M219.6 225.2h0M224.3 230.8h0M229.1 236.5h0M233.8 242.2h0M166.8 163.3h0M171.1 169.4h0M175.3 175.4h0M179.5 181.5h0M183.8 187.5h0M188.0 193.6h0M192.3 199.6h0M196.5 205.7h0M200.7 211.7h0M205.0 217.8h0M209.2 223.8h0M213.4 229.9h0M217.7 235.9h0M221.9 242.0h0M226.1 248.0h0M166.3 163.7h0M170.0 170.1h0M173.7 176.5h0M177.4 182.9h0M181.1 189.3h0M184.8 195.7h0M188.4 202.1h0M192.1 208.5h0M195.8 214.9h0M199.5 221.3h0M203.2 227.7h0M206.9 234.0h0M210.6 240.4h0M214.3 246.8h0M218.0 253.2h0M168.8 170.7h0M172.0 177.4h0M175.1 184.1h0M178.2 190.8h0M181.3 197.5h0M184.4 204.2h0M187.6 210.8h0M190.7 217.5h0M193.8 224.2h0M196.9 230.9h0M200.1 237.6h0M203.2 244.3h0M206.3 251.0h0M209.4 257.7h0M215.7 271.1h0M225.0 291.2h0M177.8 198.9h0M180.3 205.9h0M182.8 212.8h0M185.3 219.8h0M187.9 226.7h0M190.4 233.6h0M192.9 240.6h0M195.4 247.5h0M198.0 254.5h0M200.5 261.4h0M208.1 282.2h0M215.6 303.0h0M218.2 310.0h0M220.7 316.9h0M225.7 330.8h0M228.3 337.7h0M233.3 351.6h0M177.9 214.4h0M179.8 221.5h0M181.7 228.6h0M183.6 235.8h0M185.5 242.9h0M187.4 250.0h0M189.4 257.2h0M191.3 264.3h0M195.1 278.6h0M197.0 285.7h0M198.9 292.8h0M200.8 300.0h0M175.4 230.0h0M176.7 237.3h0M178.0 244.6h0M179.3 251.8h0M180.6 259.1h0M181.8 266.4h0M184.4 280.9h0M187.0 295.5h0M188.2 302.8h0M189.5 310.0h0M190.8 317.3h0M192.1 324.6h0M198.5 360.9h0M330.0 8.0h0M338.0 20.0h0M322.0 28.0h0M343.0 42.0h0M331.0 52.0h0M318.0 66.0h0M340.0 70.0h0M329.0 88.0h0M345.0 96.0h0M335.0 110.0h0M322.0 120.0h0M341.0 130.0h0M300.0 60.0h0M310.0 40.0h0M305.0 96.0h0M296.0 118.0h0M314.0 142.0h0M333.0 150.0h0M206.9 234.0h0M214.3 246.8h0M218.0 253.2h0M258.6 323.6h0M262.3 330.0h0M284.5 368.4h0M209.4 257.7h0M215.7 271.1h0M228.1 297.9h0M231.3 304.5h0M240.6 324.6h0M250.0 344.7h0M268.7 384.9h0M271.8 391.6h0M200.5 261.4h0M215.6 303.0h0M225.7 330.8h0M233.3 351.6h0M243.4 379.4h0M248.5 393.2h0M193.2 271.4h0M198.9 292.8h0M206.6 321.4h0M210.4 335.6h0M225.7 392.7h0M227.6 399.8h0M181.8 266.4h0M183.1 273.7h0M187.0 295.5h0M203.6 390.0h0M207.5 411.8h0M175.5 304.4h0M176.8 319.2h0M178.0 333.9h0M181.9 378.0h0M183.8 400.1h0M162.6 260.7h0M162.6 275.5h0M162.6 290.2h0M162.6 305.0h0M162.6 334.5h0M162.6 341.9h0M162.6 393.6h0M153.6 260.3h0M151.7 282.4h0M151.0 289.7h0M149.7 304.4h0M145.2 355.9h0M142.6 385.4h0M141.4 400.1h0M140.7 407.4h0M142.1 273.7h0M139.5 288.2h0M138.2 295.5h0M137.0 302.8h0M133.1 324.6h0M126.7 360.9h0M119.0 404.6h0M132.0 271.4h0M130.1 278.6h0M124.4 300.0h0M122.5 307.1h0M118.6 321.4h0M107.2 364.2h0M101.4 385.6h0M99.5 392.7h0M161.0 0.5h0M208.0 0.5h0M219.0 0.5h0M227.0 0.5h0M252.0 0.5h0M272.0 0.5h0M283.0 0.5h0M294.0 0.5h0M305.0 0.5h0M315.0 0.5h0M325.0 0.5h0M336.0 0.5h0M346.0 0.5h0M347.5 14.0h0M347.5 36.0h0M347.5 58.0h0M347.5 80.0h0M347.5 98.0h0M347.5 120.0h0M347.5 147.0h0M347.5 175.0h0M347.5 205.0h0M347.5 228.0h0M347.5 251.0h0M347.5 262.0h0M347.5 285.0h0M347.5 300.0h0M0.5 232.0h0M0.5 283.0h0M0.5 339.0h0" stroke="#ff0000" stroke-width="2.9" stroke-linecap="round" fill="none"/><path d="M173.5 243.0h0M175.4 235.8h0M177.3 228.7h0M179.2 221.6h0M181.2 214.4h0M183.1 207.3h0M185.0 200.2h0M186.9 193.0h0M188.8 185.9h0M190.7 178.8h0M192.6 171.6h0M194.5 164.5h0M174.1 243.2h0M176.7 236.2h0M179.2 229.3h0M181.7 222.3h0M184.2 215.4h0M186.8 208.5h0M189.3 201.5h0M191.8 194.6h0M194.3 187.6h0M196.9 180.7h0M199.4 173.8h0M201.9 166.8h0M174.7 243.4h0M177.8 236.7h0M181.0 230.0h0M184.1 223.3h0M187.2 216.6h0M190.3 209.9h0M193.4 203.2h0M196.6 196.6h0M199.7 189.9h0M202.8 183.2h0M175.3 243.7h0M179.0 237.3h0M182.7 230.9h0M186.4 224.5h0M190.1 218.1h0M193.8 211.7h0M197.4 205.3h0M201.1 198.9h0M204.8 192.5h0M208.5 186.1h0M212.2 179.7h0M215.9 173.4h0M175.8 244.1h0M180.1 238.0h0M184.3 232.0h0M188.5 225.9h0M192.8 219.9h0M197.0 213.8h0M201.3 207.8h0M205.5 201.7h0M209.7 195.7h0M214.0 189.6h0M218.2 183.6h0M222.4 177.5h0M226.7 171.5h0M230.9 165.4h0M235.1 159.4h0M239.4 153.3h0M243.6 147.3h0M256.3 129.1h0M260.6 123.1h0M176.3 244.4h0M181.1 238.8h0M185.8 233.1h0M190.6 227.5h0M195.3 221.8h0M200.1 216.2h0M204.8 210.5h0M209.6 204.8h0M214.3 199.2h0M219.1 193.5h0M223.8 187.9h0M228.6 182.2h0M233.3 176.6h0M238.1 170.9h0M242.8 165.2h0M247.6 159.6h0M176.8 244.9h0M182.0 239.7h0M187.3 234.4h0M192.5 229.2h0M197.7 224.0h0M202.9 218.8h0M208.2 213.5h0M213.4 208.3h0M218.6 203.1h0M223.8 197.9h0M229.0 192.7h0M234.3 187.4h0M239.5 182.2h0M244.7 177.0h0M249.9 171.8h0M255.2 166.5h0M260.4 161.3h0M265.6 156.1h0M270.8 150.9h0M177.3 245.4h0M182.9 240.6h0M188.6 235.9h0M194.2 231.1h0M199.9 226.4h0M205.5 221.6h0M211.2 216.9h0M216.9 212.1h0M222.5 207.4h0M228.2 202.6h0M233.8 197.9h0M239.5 193.1h0M245.1 188.4h0M250.8 183.6h0M256.5 178.9h0M177.6 245.9h0M183.7 241.6h0M189.7 237.4h0M195.8 233.2h0M201.8 228.9h0M207.9 224.7h0M213.9 220.4h0M220.0 216.2h0M226.0 212.0h0M232.1 207.7h0M238.1 203.5h0M244.2 199.3h0M250.2 195.0h0M256.3 190.8h0M262.3 186.6h0M274.4 178.1h0M280.5 173.9h0M286.5 169.6h0M178.0 246.4h0M184.4 242.7h0M190.8 239.0h0M197.2 235.3h0M203.6 231.6h0M210.0 227.9h0M216.4 224.3h0M222.8 220.6h0M229.2 216.9h0M235.6 213.2h0M242.0 209.5h0M248.3 205.8h0M254.7 202.1h0M261.1 198.4h0M267.5 194.7h0M273.9 191.0h0M178.3 247.0h0M185.0 243.9h0M191.7 240.7h0M198.4 237.6h0M205.1 234.5h0M211.8 231.4h0M218.5 228.3h0M225.1 225.1h0M231.8 222.0h0M238.5 218.9h0M245.2 215.8h0M251.9 212.6h0M258.6 209.5h0M265.3 206.4h0M278.7 200.2h0M178.5 247.6h0M185.5 245.0h0M192.4 242.5h0M199.4 240.0h0M206.3 237.5h0M213.2 234.9h0M220.2 232.4h0M227.1 229.9h0M234.1 227.4h0M241.0 224.8h0M247.9 222.3h0M254.9 219.8h0M261.8 217.3h0M268.8 214.7h0M275.7 212.2h0M282.6 209.7h0M178.7 248.2h0M185.9 246.3h0M193.0 244.4h0M200.1 242.5h0M207.3 240.5h0M214.4 238.6h0M221.5 236.7h0M228.7 234.8h0M235.8 232.9h0M242.9 231.0h0M250.1 229.1h0M257.2 227.2h0M264.3 225.3h0M271.5 223.3h0M278.6 221.4h0M285.7 219.5h0M292.9 217.6h0M178.9 248.8h0M186.1 247.5h0M193.4 246.3h0M200.7 245.0h0M208.0 243.7h0M215.2 242.4h0M222.5 241.1h0M229.8 239.8h0M237.1 238.6h0M244.3 237.3h0M251.6 236.0h0M258.9 234.7h0M266.1 233.4h0M273.4 232.1h0M280.7 230.9h0M288.0 229.6h0M179.0 249.5h0M186.3 248.8h0M193.7 248.2h0M201.0 247.5h0M208.4 246.9h0M215.7 246.2h0M223.1 245.6h0M230.5 245.0h0M237.8 244.3h0M245.2 243.7h0M252.5 243.0h0M259.9 242.4h0M267.2 241.7h0M282.0 240.4h0M289.3 239.8h0M296.7 239.2h0M304.0 238.5h0M179.0 250.1h0M186.4 250.1h0M193.8 250.1h0M201.1 250.1h0M208.5 250.1h0M215.9 250.1h0M223.3 250.1h0M230.7 250.1h0M238.1 250.1h0M245.4 250.1h0M252.8 250.1h0M260.2 250.1h0M267.6 250.1h0M275.0 250.1h0M282.4 250.1h0M289.8 250.1h0M297.1 250.1h0M304.5 250.1h0M311.9 250.1h0M319.3 250.1h0M179.0 250.7h0M186.3 251.4h0M193.7 252.0h0M201.0 252.7h0M208.4 253.3h0M215.7 254.0h0M223.1 254.6h0M230.5 255.2h0M237.8 255.9h0M245.2 256.5h0M252.5 257.2h0M259.9 257.8h0M267.2 258.5h0M274.6 259.1h0M282.0 259.8h0M289.3 260.4h0M296.7 261.0h0M304.0 261.7h0M311.4 262.3h0M178.9 251.4h0M186.1 252.7h0M193.4 253.9h0M200.7 255.2h0M208.0 256.5h0M215.2 257.8h0M222.5 259.1h0M229.8 260.4h0M237.1 261.6h0M244.3 262.9h0M251.6 264.2h0M258.9 265.5h0M266.1 266.8h0M273.4 268.1h0M280.7 269.3h0M288.0 270.6h0M295.2 271.9h0M302.5 273.2h0M178.7 252.0h0M185.9 253.9h0M193.0 255.8h0M200.1 257.7h0M207.3 259.7h0M214.4 261.6h0M221.5 263.5h0M228.7 265.4h0M235.8 267.3h0M242.9 269.2h0M250.1 271.1h0M257.2 273.0h0M264.3 274.9h0M271.5 276.9h0M278.6 278.8h0M285.7 280.7h0M292.9 282.6h0M178.5 252.6h0M185.5 255.2h0M192.4 257.7h0M199.4 260.2h0M206.3 262.7h0M213.2 265.3h0M220.2 267.8h0M227.1 270.3h0M234.1 272.8h0M241.0 275.4h0M247.9 277.9h0M254.9 280.4h0M261.8 282.9h0M268.8 285.5h0M275.7 288.0h0M289.6 293.0h0M178.3 253.2h0M185.0 256.3h0M191.7 259.5h0M198.4 262.6h0M205.1 265.7h0M211.8 268.8h0M218.5 271.9h0M225.1 275.1h0M231.8 278.2h0M238.5 281.3h0M245.2 284.4h0M251.9 287.6h0M258.6 290.7h0M265.3 293.8h0M272.0 296.9h0M278.7 300.0h0M285.4 303.2h0M292.1 306.3h0M178.0 253.8h0M184.4 257.5h0M190.8 261.2h0M197.2 264.9h0M203.6 268.6h0M210.0 272.3h0M216.4 275.9h0M222.8 279.6h0M229.2 283.3h0M235.6 287.0h0M242.0 290.7h0M248.3 294.4h0M254.7 298.1h0M261.1 301.8h0M267.5 305.5h0M273.9 309.2h0M286.7 316.6h0M293.1 320.3h0M177.6 254.3h0M183.7 258.6h0M189.7 262.8h0M195.8 267.0h0M201.8 271.3h0M207.9 275.5h0M213.9 279.8h0M220.0 284.0h0M226.0 288.2h0M232.1 292.5h0M238.1 296.7h0M244.2 300.9h0M250.2 305.2h0M256.3 309.4h0M262.3 313.6h0M268.4 317.9h0M274.4 322.1h0M280.5 326.3h0M177.3 254.8h0M182.9 259.6h0M188.6 264.3h0M194.2 269.1h0M199.9 273.8h0M205.5 278.6h0M211.2 283.3h0M216.9 288.1h0M222.5 292.8h0M228.2 297.6h0M233.8 302.3h0M239.5 307.1h0M245.1 311.8h0M250.8 316.6h0M262.1 326.1h0M267.8 330.8h0M176.8 255.3h0M182.0 260.5h0M187.3 265.8h0M192.5 271.0h0M197.7 276.2h0M202.9 281.4h0M208.2 286.7h0M213.4 291.9h0M218.6 297.1h0M223.8 302.3h0M229.0 307.5h0M234.3 312.8h0M239.5 318.0h0M244.7 323.2h0M249.9 328.4h0M255.2 333.7h0M260.4 338.9h0M265.6 344.1h0M270.8 349.3h0M276.0 354.5h0M176.3 255.8h0M181.1 261.4h0M185.8 267.1h0M190.6 272.7h0M195.3 278.4h0M200.1 284.0h0M204.8 289.7h0M209.6 295.4h0M214.3 301.0h0M219.1 306.7h0M223.8 312.3h0M228.6 318.0h0M233.3 323.6h0M238.1 329.3h0M242.8 335.0h0M247.6 340.6h0M252.3 346.3h0M261.8 357.6h0M175.8 256.1h0M180.1 262.2h0M184.3 268.2h0M188.5 274.3h0M192.8 280.3h0M197.0 286.4h0M201.3 292.4h0M205.5 298.5h0M209.7 304.5h0M214.0 310.6h0M218.2 316.6h0M222.4 322.7h0M226.7 328.7h0M230.9 334.8h0M239.4 346.9h0M243.6 352.9h0M252.1 365.0h0M256.3 371.1h0M175.3 256.5h0M179.0 262.9h0M182.7 269.3h0M186.4 275.7h0M190.1 282.1h0M193.8 288.5h0M197.4 294.9h0M201.1 301.3h0M204.8 307.7h0M208.5 314.1h0M212.2 320.5h0M215.9 326.8h0M219.6 333.2h0M223.3 339.6h0M227.0 346.0h0M230.7 352.4h0M234.4 358.8h0M238.1 365.2h0M174.7 256.8h0M177.8 263.5h0M181.0 270.2h0M184.1 276.9h0M187.2 283.6h0M190.3 290.3h0M193.4 297.0h0M196.6 303.6h0M199.7 310.3h0M202.8 317.0h0M205.9 323.7h0M209.1 330.4h0M212.2 337.1h0M215.3 343.8h0M218.4 350.5h0M221.5 357.2h0M224.7 363.9h0M230.9 377.3h0M174.1 257.0h0M176.7 264.0h0M179.2 270.9h0M181.7 277.9h0M184.2 284.8h0M186.8 291.7h0M189.3 298.7h0M191.8 305.6h0M194.3 312.6h0M196.9 319.5h0M199.4 326.4h0M201.9 333.4h0M204.4 340.3h0M207.0 347.3h0M209.5 354.2h0M212.0 361.1h0M214.5 368.1h0M217.1 375.0h0M219.6 382.0h0M173.5 257.2h0M175.4 264.4h0M177.3 271.5h0M179.2 278.6h0M181.2 285.8h0M183.1 292.9h0M185.0 300.0h0M186.9 307.2h0M188.8 314.3h0M190.7 321.4h0M192.6 328.6h0M194.5 335.7h0M196.4 342.8h0M198.4 350.0h0M200.3 357.1h0M202.2 364.2h0M206.0 378.5h0M172.9 257.4h0M174.2 264.6h0M175.4 271.9h0M176.7 279.2h0M178.0 286.5h0M179.3 293.7h0M180.6 301.0h0M181.9 308.3h0M183.1 315.6h0M184.4 322.8h0M185.7 330.1h0M172.2 257.5h0M172.9 264.8h0M173.5 272.2h0M174.2 279.5h0M174.8 286.9h0M175.5 294.2h0M176.1 301.6h0M176.7 309.0h0M177.4 316.3h0M178.0 323.7h0M171.6 257.5h0M171.6 264.9h0M171.6 272.3h0M171.6 279.6h0M171.6 287.0h0M171.6 294.4h0M171.6 301.8h0M171.6 309.2h0M171.6 316.6h0M171.6 323.9h0M171.6 331.3h0M171.0 257.5h0M170.3 264.8h0M169.7 272.2h0M169.0 279.5h0M168.4 286.9h0M167.7 294.2h0M167.1 301.6h0M166.5 309.0h0M165.8 316.3h0M165.2 323.7h0M164.5 331.0h0M163.9 338.4h0M163.2 345.7h0M170.3 257.4h0M169.0 264.6h0M167.8 271.9h0M166.5 279.2h0M165.2 286.5h0M163.9 293.7h0M162.6 301.0h0M161.3 308.3h0M160.1 315.6h0M158.8 322.8h0M157.5 330.1h0M169.7 257.2h0M167.8 264.4h0M165.9 271.5h0M164.0 278.6h0M162.0 285.8h0M160.1 292.9h0M158.2 300.0h0M156.3 307.2h0M154.4 314.3h0M152.5 321.4h0M150.6 328.6h0M148.7 335.7h0M146.8 342.8h0" stroke="#00ff00" stroke-width="2.9" stroke-linecap="round" fill="none"/><path d="M96.5 297.1h0M102.1 292.3h0M107.8 287.6h0M113.5 282.8h0M119.1 278.1h0M124.8 273.3h0M130.4 268.6h0M98.4 299.6h0M104.5 295.4h0M110.5 291.1h0M116.6 286.9h0M122.6 282.7h0M128.7 278.4h0M134.7 274.2h0M140.8 270.0h0M100.2 302.3h0M106.6 298.6h0M113.0 295.0h0M119.4 291.3h0M125.8 287.6h0M132.2 283.9h0M138.6 280.2h0M144.9 276.5h0M101.7 305.2h0M108.4 302.1h0M115.1 299.0h0M121.7 295.8h0M135.1 289.6h0M141.8 286.5h0M148.5 283.3h0M102.9 308.2h0M109.8 305.6h0M116.8 303.1h0M123.7 300.6h0M130.7 298.1h0M144.5 293.0h0M151.5 290.5h0M158.4 288.0h0M103.9 311.2h0M111.0 309.3h0M118.1 307.4h0M125.3 305.5h0M132.4 303.6h0M139.5 301.7h0M146.7 299.8h0M153.8 297.9h0M104.6 314.4h0M111.8 313.1h0M119.1 311.8h0M126.4 310.5h0M133.7 309.3h0M140.9 308.0h0M148.2 306.7h0M155.5 305.4h0M97.6 318.2h0M105.0 317.6h0M112.3 316.9h0M119.7 316.3h0M127.1 315.7h0M134.4 315.0h0M141.8 314.4h0M149.1 313.7h0M156.5 313.1h0M105.1 320.8h0M112.5 320.8h0M119.9 320.8h0M127.3 320.8h0M134.7 320.8h0M142.1 320.8h0M149.4 320.8h0M156.8 320.8h0M105.0 324.0h0M112.3 324.7h0M119.7 325.3h0M127.1 325.9h0M134.4 326.6h0M141.8 327.2h0M149.1 327.9h0M156.5 328.5h0M104.6 327.2h0M111.8 328.5h0M119.1 329.8h0M126.4 331.1h0M133.7 332.3h0M140.9 333.6h0M148.2 334.9h0M155.5 336.2h0M103.9 330.4h0M111.0 332.3h0M118.1 334.2h0M125.3 336.1h0M139.5 339.9h0M146.7 341.8h0M153.8 343.7h0M160.9 345.6h0M96.0 330.9h0M102.9 333.4h0M109.8 336.0h0M116.8 338.5h0M123.7 341.0h0M130.7 343.5h0M137.6 346.1h0M144.5 348.6h0M158.4 353.6h0M101.7 336.4h0M108.4 339.5h0M115.1 342.6h0M121.7 345.8h0M128.4 348.9h0M135.1 352.0h0M141.8 355.1h0M175.3 370.7h0M182.0 373.9h0M100.2 339.3h0M106.6 343.0h0M113.0 346.6h0M119.4 350.3h0M125.8 354.0h0M132.2 357.7h0M138.6 361.4h0M144.9 365.1h0M98.4 342.0h0M104.5 346.2h0M110.5 350.5h0M116.6 354.7h0M128.7 363.2h0M134.7 367.4h0M140.8 371.6h0M177.1 397.0h0M85.2 335.0h0M96.5 344.5h0M102.1 349.3h0M107.8 354.0h0M113.5 358.8h0M119.1 363.5h0M124.8 368.3h0M130.4 373.0h0M136.1 377.8h0M141.7 382.5h0M158.7 396.8h0M78.6 331.2h0M83.9 336.5h0M94.3 346.9h0M99.5 352.1h0M104.8 357.4h0M110.0 362.6h0M115.2 367.8h0M120.4 373.0h0M125.6 378.2h0M136.1 388.7h0M162.2 414.8h0M77.7 332.1h0M82.4 337.8h0M91.9 349.1h0M96.7 354.7h0M101.4 360.4h0M106.2 366.1h0M115.7 377.4h0M120.4 383.0h0M125.2 388.7h0M129.9 394.3h0M76.7 332.9h0M80.9 338.9h0M89.4 351.0h0M93.6 357.1h0M97.9 363.1h0M102.1 369.2h0M106.3 375.2h0M110.6 381.3h0M114.8 387.3h0M119.0 393.4h0M127.5 405.5h0M75.6 333.6h0M79.3 340.0h0M83.0 346.4h0M86.7 352.8h0M90.4 359.2h0M94.0 365.6h0M97.7 372.0h0M101.4 378.4h0M105.1 384.8h0M108.8 391.2h0M112.5 397.5h0M74.4 334.2h0M77.6 340.9h0M80.7 347.6h0M83.8 354.3h0M86.9 361.0h0M90.0 367.7h0M93.2 374.3h0M96.3 381.0h0M99.4 387.7h0M102.5 394.4h0M105.7 401.1h0M108.8 407.8h0M73.3 334.7h0M75.8 341.6h0M78.3 348.6h0M80.8 355.5h0M83.4 362.4h0M85.9 369.4h0M88.4 376.3h0M90.9 383.3h0M93.5 390.2h0M96.0 397.1h0M98.5 404.1h0M72.0 335.1h0M73.9 342.2h0M75.8 349.3h0M77.8 356.5h0M79.7 363.6h0M81.6 370.7h0M83.5 377.9h0M85.4 385.0h0M87.3 392.1h0M89.2 399.3h0M91.1 406.4h0M70.8 335.3h0M75.9 364.4h0M77.2 371.7h0M78.5 379.0h0M79.7 386.3h0M81.0 393.5h0M82.3 400.8h0M69.5 335.5h0M71.4 357.6h0M72.1 364.9h0M72.7 372.3h0M73.3 379.7h0M74.0 387.0h0M74.6 394.4h0M75.3 401.7h0M75.9 409.1h0M68.2 335.6h0M68.2 357.7h0M68.2 365.1h0M68.2 372.5h0M68.2 387.3h0M68.2 394.6h0M68.2 402.0h0M68.2 409.4h0M65.0 357.6h0M64.3 364.9h0M63.7 372.3h0M62.4 387.0h0M61.8 394.4h0M61.1 401.7h0M60.5 409.1h0M61.8 357.2h0M60.5 364.4h0M59.2 371.7h0M57.9 379.0h0M56.7 386.3h0M55.4 393.5h0M54.1 400.8h0M52.8 408.1h0M51.5 415.3h0M58.6 356.5h0M56.7 363.6h0M54.8 370.7h0M52.9 377.9h0M51.0 385.0h0M49.1 392.1h0M47.2 399.3h0M45.3 406.4h0M43.4 413.5h0M55.6 355.5h0M53.0 362.4h0M50.5 369.4h0M48.0 376.3h0M45.5 383.3h0M42.9 390.2h0M52.6 354.3h0M49.5 361.0h0M46.4 367.7h0M43.2 374.3h0M37.0 387.7h0M49.7 352.8h0M46.0 359.2h0M42.4 365.6h0M38.7 372.0h0M35.0 378.4h0M47.0 351.0h0M42.8 357.1h0M38.5 363.1h0M34.3 369.2h0M30.1 375.2h0M25.8 381.3h0M44.5 349.1h0M39.7 354.7h0M35.0 360.4h0M30.2 366.1h0M25.5 371.7h0M20.7 377.4h0M42.1 346.9h0M36.9 352.1h0M31.6 357.4h0M26.4 362.6h0M39.9 344.5h0M34.3 349.3h0M28.6 354.0h0M22.9 358.8h0M17.3 363.5h0M38.0 342.0h0M31.9 346.2h0M25.9 350.5h0M19.8 354.7h0M13.8 358.9h0M7.7 363.2h0M36.2 339.3h0M29.8 343.0h0M23.4 346.6h0M17.0 350.3h0M10.6 354.0h0M0.5 240.0h0M0.5 268.0h0M0.5 323.0h0M50.0 427.0h0M190.0 427.0h0" stroke="#0000ff" stroke-width="2.9" stroke-linecap="round" fill="none"/><path d="M154.4 157.3H170.8M162.6 149.1V165.5M156.8 151.5L168.4 163.1M156.8 163.1L168.4 151.5" stroke="#ff0000" stroke-width="1.15" fill="none"/><path d="M163.4 250.1H179.8M171.6 241.9V258.3M165.8 244.3L177.4 255.9M165.8 255.9L177.4 244.3" stroke="#ff0000" stroke-width="1.15" fill="none"/><path d="M60.0 320.8H76.4M68.2 312.6V329.0M62.4 315.0L74.0 326.6M62.4 326.6L74.0 315.0" stroke="#ff0000" stroke-width="1.15" fill="none"/>
</g>
<rect x="0" y="0" width="348.0" height="427.5" fill="none" stroke="#000" stroke-width="1"/>

<text x="-7" y="7.0" font-size="19.5" text-anchor="end" fill="#000" textLength="46" lengthAdjust="spacingAndGlyphs">37°N</text>
<text x="-7" y="151.3" font-size="19.5" text-anchor="end" fill="#000" textLength="46" lengthAdjust="spacingAndGlyphs">36°N</text>
<text x="-7" y="293.8" font-size="19.5" text-anchor="end" fill="#000" textLength="46" lengthAdjust="spacingAndGlyphs">35°N</text>
<text x="-7" y="434.5" font-size="19.5" text-anchor="end" fill="#000" textLength="46" lengthAdjust="spacingAndGlyphs">34°N</text>
<text x="-6" y="77.4" font-size="14.5" text-anchor="end" fill="#000" textLength="21.5" lengthAdjust="spacingAndGlyphs">30'</text>
<text x="-6" y="220.7" font-size="14.5" text-anchor="end" fill="#000" textLength="21.5" lengthAdjust="spacingAndGlyphs">30'</text>
<text x="-6" y="362.3" font-size="14.5" text-anchor="end" fill="#000" textLength="21.5" lengthAdjust="spacingAndGlyphs">30'</text>
<text x="0" y="448" font-size="19.5" text-anchor="middle" fill="#000" textLength="50.5" lengthAdjust="spacingAndGlyphs">77°W</text>
<text x="116" y="448" font-size="19.5" text-anchor="middle" fill="#000" textLength="50.5" lengthAdjust="spacingAndGlyphs">76°W</text>
<text x="232" y="448" font-size="19.5" text-anchor="middle" fill="#000" textLength="50.5" lengthAdjust="spacingAndGlyphs">75°W</text>
<text x="348" y="448" font-size="19.5" text-anchor="middle" fill="#000" textLength="50.5" lengthAdjust="spacingAndGlyphs">74°W</text>
<text x="58" y="443.5" font-size="14.5" text-anchor="middle" fill="#000" textLength="21.5" lengthAdjust="spacingAndGlyphs">30'</text>
<text x="174" y="443.5" font-size="14.5" text-anchor="middle" fill="#000" textLength="21.5" lengthAdjust="spacingAndGlyphs">30'</text>
<text x="290" y="443.5" font-size="14.5" text-anchor="middle" fill="#000" textLength="21.5" lengthAdjust="spacingAndGlyphs">30'</text>
<text x="107.7" y="-12.5" font-size="24" font-weight="bold" fill="#000" textLength="130.6" lengthAdjust="spacingAndGlyphs">Radial Grid</text><text x="283.3" y="37" font-size="19.5" fill="#000" textLength="57" lengthAdjust="spacingAndGlyphs">10 km</text><path d="M307 43.3H320" stroke="#000" stroke-width="3.6" stroke-linecap="round"/>
</g>
<g transform="translate(458.5,742.5)">
<rect x="0" y="0" width="348.0" height="427.5" fill="#fff"/>
<g clip-path="url(#clip)">
<use href="#coast"/>
<path d="M58 0V427.5M116 0V427.5M174 0V427.5M232 0V427.5M290 0V427.5M0 72.4H348.0M0 144.3H348.0M0 215.7H348.0M0 286.8H348.0M0 357.3H348.0" stroke="#000" stroke-opacity="0.16" stroke-width="1" stroke-dasharray="2 5" fill="none"/>
<path d="M0 427.5v-4M0 0v4M58 427.5v-4M58 0v4M116 427.5v-4M116 0v4M174 427.5v-4M174 0v4M232 427.5v-4M232 0v4M290 427.5v-4M290 0v4M348 427.5v-4M348 0v4M0 72.4h4M348.0 72.4h-4M0 144.3h4M348.0 144.3h-4M0 215.7h4M348.0 215.7h-4M0 286.8h4M348.0 286.8h-4M0 357.3h4M348.0 357.3h-4" stroke="#000" stroke-width="1" fill="none"/>
<g shape-rendering="crispEdges"><path fill="#0000df" d="M270.70 131.30H293.62V139.06H270.70ZM285.98 146.80H301.26V154.55H285.98ZM255.42 185.46H263.06V193.17H255.42ZM247.78 193.17H255.42V200.88H247.78ZM285.98 193.17H293.62V200.88H285.98ZM308.90 193.17H316.54V200.88H308.90ZM324.18 193.17H331.82V200.88H324.18ZM308.90 200.88H316.54V208.59H308.90ZM293.62 208.59H301.26V216.29H293.62ZM324.18 208.59H331.82V216.29H324.18ZM293.62 223.98H301.26V231.67H293.62ZM324.18 231.67H331.82V239.36H324.18ZM293.62 239.36H301.26V247.04H293.62ZM247.78 247.04H255.42V254.71H247.78ZM308.90 247.04H316.54V254.71H308.90ZM140.82 262.38H156.10V270.04H140.82ZM308.90 270.04H316.54V277.70H308.90ZM316.54 293.00H324.18V300.65H316.54ZM102.62 300.65H110.26V308.29H102.62ZM270.70 300.65H278.34V308.29H270.70ZM301.26 300.65H308.90V308.29H301.26ZM87.34 308.29H94.98V315.92H87.34ZM110.26 308.29H117.90V315.92H110.26ZM255.42 308.29H263.06V315.92H255.42ZM270.70 308.29H278.34V315.92H270.70ZM94.98 315.92H102.62V323.55H94.98ZM255.42 315.92H263.06V323.55H255.42ZM316.54 315.92H324.18V323.55H316.54ZM72.06 323.55H79.70V331.17H72.06ZM87.34 323.55H94.98V331.17H87.34ZM247.78 323.55H255.42V331.17H247.78ZM263.06 323.55H270.70V331.17H263.06ZM125.54 331.17H133.18V338.79H125.54ZM263.06 331.17H270.70V338.79H263.06ZM94.98 338.79H102.62V346.40H94.98ZM293.62 338.79H308.90V346.40H293.62ZM140.82 346.40H148.46V354.01H140.82ZM217.22 346.40H224.86V354.01H217.22ZM255.42 346.40H263.06V354.01H255.42ZM278.34 346.40H285.98V354.01H278.34ZM171.38 354.01H179.02V361.62H171.38ZM270.70 354.01H285.98V361.62H270.70ZM133.18 361.62H140.82V369.21H133.18ZM194.30 361.62H201.94V369.21H194.30ZM209.58 361.62H217.22V369.21H209.58ZM240.14 361.62H247.78V369.21H240.14ZM255.42 361.62H263.06V369.21H255.42ZM117.90 369.21H125.54V376.81H117.90ZM163.74 369.21H171.38V376.81H163.74ZM194.30 369.21H201.94V376.81H194.30ZM209.58 369.21H217.22V376.81H209.58Z"/><path fill="#0030ff" d="M293.62 131.30H301.26V139.06H293.62ZM270.70 146.80H278.34V154.55H270.70ZM278.34 154.55H285.98V162.28H278.34ZM201.94 193.17H209.58V200.88H201.94ZM270.70 193.17H278.34V200.88H270.70ZM263.06 200.88H270.70V208.59H263.06ZM255.42 208.59H270.70V216.29H255.42ZM301.26 208.59H308.90V216.29H301.26ZM331.82 208.59H339.46V216.29H331.82ZM247.78 216.29H255.42V223.98H247.78ZM301.26 216.29H308.90V223.98H301.26ZM331.82 216.29H339.46V223.98H331.82ZM209.58 223.98H217.22V231.67H209.58ZM308.90 223.98H316.54V231.67H308.90ZM255.42 231.67H263.06V239.36H255.42ZM316.54 231.67H324.18V239.36H316.54ZM331.82 231.67H339.46V239.36H331.82ZM247.78 239.36H255.42V247.04H247.78ZM316.54 239.36H324.18V247.04H316.54ZM240.14 247.04H247.78V254.71H240.14ZM316.54 247.04H324.18V254.71H316.54ZM240.14 254.71H247.78V262.38H240.14ZM232.50 277.70H240.14V285.36H232.50ZM232.50 285.36H240.14V293.00H232.50ZM133.18 293.00H140.82V300.65H133.18ZM217.22 293.00H224.86V300.65H217.22ZM232.50 293.00H240.14V300.65H232.50ZM217.22 300.65H232.50V308.29H217.22ZM133.18 308.29H140.82V315.92H133.18ZM163.74 308.29H171.38V315.92H163.74ZM217.22 308.29H224.86V315.92H217.22ZM179.02 315.92H186.66V323.55H179.02ZM278.34 315.92H285.98V323.55H278.34ZM293.62 315.92H301.26V323.55H293.62ZM240.14 323.55H247.78V331.17H240.14ZM293.62 323.55H301.26V331.17H293.62ZM140.82 331.17H156.10V338.79H140.82ZM171.38 331.17H179.02V338.79H171.38ZM201.94 331.17H217.22V338.79H201.94ZM148.46 338.79H156.10V346.40H148.46ZM171.38 338.79H179.02V346.40H171.38ZM94.98 346.40H117.90V354.01H94.98ZM224.86 346.40H232.50V354.01H224.86ZM94.98 354.01H125.54V361.62H94.98ZM140.82 361.62H148.46V369.21H140.82ZM186.66 384.40H194.30V391.98H186.66Z"/><path fill="#0000ef" d="M270.70 139.06H278.34V146.80H270.70ZM285.98 154.55H301.26V162.28H285.98ZM293.62 177.74H301.26V185.46H293.62ZM324.18 177.74H331.82V185.46H324.18ZM209.58 185.46H217.22V193.17H209.58ZM247.78 185.46H255.42V193.17H247.78ZM293.62 185.46H301.26V193.17H293.62ZM324.18 185.46H331.82V193.17H324.18ZM232.50 193.17H240.14V200.88H232.50ZM263.06 193.17H270.70V200.88H263.06ZM316.54 193.17H324.18V200.88H316.54ZM247.78 200.88H255.42V208.59H247.78ZM293.62 200.88H301.26V208.59H293.62ZM316.54 200.88H331.82V208.59H316.54ZM179.02 208.59H186.66V216.29H179.02ZM308.90 208.59H316.54V216.29H308.90ZM324.18 216.29H331.82V223.98H324.18ZM301.26 223.98H308.90V231.67H301.26ZM324.18 223.98H331.82V231.67H324.18ZM293.62 231.67H308.90V239.36H293.62ZM255.42 239.36H263.06V247.04H255.42ZM301.26 247.04H308.90V254.71H301.26ZM324.18 262.38H331.82V270.04H324.18ZM148.46 270.04H156.10V277.70H148.46ZM324.18 277.70H331.82V285.36H324.18ZM324.18 285.36H331.82V293.00H324.18ZM301.26 293.00H316.54V300.65H301.26ZM324.18 293.00H331.82V300.65H324.18ZM94.98 300.65H102.62V308.29H94.98ZM110.26 300.65H133.18V308.29H110.26ZM293.62 300.65H301.26V308.29H293.62ZM324.18 300.65H331.82V308.29H324.18ZM102.62 308.29H110.26V315.92H102.62ZM171.38 308.29H179.02V315.92H171.38ZM263.06 308.29H270.70V315.92H263.06ZM79.70 315.92H94.98V323.55H79.70ZM125.54 315.92H140.82V323.55H125.54ZM171.38 315.92H179.02V323.55H171.38ZM263.06 315.92H270.70V323.55H263.06ZM79.70 323.55H87.34V331.17H79.70ZM94.98 323.55H102.62V331.17H94.98ZM117.90 323.55H125.54V331.17H117.90ZM255.42 323.55H263.06V331.17H255.42ZM308.90 323.55H324.18V331.17H308.90ZM87.34 331.17H94.98V338.79H87.34ZM179.02 331.17H186.66V338.79H179.02ZM240.14 331.17H247.78V338.79H240.14ZM270.70 331.17H301.26V338.79H270.70ZM308.90 331.17H316.54V338.79H308.90ZM79.70 338.79H94.98V346.40H79.70ZM102.62 338.79H110.26V346.40H102.62ZM125.54 338.79H133.18V346.40H125.54ZM209.58 338.79H217.22V346.40H209.58ZM240.14 338.79H255.42V346.40H240.14ZM278.34 338.79H293.62V346.40H278.34ZM79.70 346.40H94.98V354.01H79.70ZM117.90 346.40H125.54V354.01H117.90ZM163.74 346.40H171.38V354.01H163.74ZM263.06 346.40H270.70V354.01H263.06ZM87.34 354.01H94.98V361.62H87.34ZM140.82 354.01H148.46V361.62H140.82ZM209.58 354.01H217.22V361.62H209.58ZM94.98 361.62H102.62V369.21H94.98ZM125.54 361.62H133.18V369.21H125.54ZM163.74 361.62H171.38V369.21H163.74ZM224.86 361.62H232.50V369.21H224.86ZM263.06 361.62H270.70V369.21H263.06ZM102.62 369.21H110.26V376.81H102.62ZM125.54 369.21H133.18V376.81H125.54ZM232.50 369.21H240.14V376.81H232.50ZM247.78 369.21H263.06V376.81H247.78ZM240.14 376.81H247.78V384.40H240.14Z"/><path fill="#0000ff" d="M278.34 139.06H293.62V146.80H278.34ZM278.34 146.80H285.98V154.55H278.34ZM308.90 162.28H316.54V170.01H308.90ZM240.14 170.01H247.78V177.74H240.14ZM301.26 170.01H308.90V177.74H301.26ZM324.18 170.01H331.82V177.74H324.18ZM224.86 177.74H232.50V185.46H224.86ZM270.70 185.46H278.34V193.17H270.70ZM217.22 193.17H224.86V200.88H217.22ZM232.50 200.88H247.78V208.59H232.50ZM255.42 200.88H263.06V208.59H255.42ZM285.98 216.29H301.26V223.98H285.98ZM263.06 223.98H278.34V231.67H263.06ZM263.06 231.67H270.70V239.36H263.06ZM308.90 231.67H316.54V239.36H308.90ZM308.90 239.36H316.54V247.04H308.90ZM125.54 270.04H133.18V277.70H125.54ZM316.54 270.04H324.18V277.70H316.54ZM316.54 277.70H324.18V285.36H316.54ZM331.82 277.70H339.46V285.36H331.82ZM316.54 285.36H324.18V293.00H316.54ZM331.82 285.36H339.46V293.00H331.82ZM156.10 293.00H163.74V300.65H156.10ZM263.06 300.65H270.70V308.29H263.06ZM94.98 308.29H102.62V315.92H94.98ZM117.90 308.29H133.18V315.92H117.90ZM179.02 308.29H186.66V315.92H179.02ZM278.34 308.29H293.62V315.92H278.34ZM324.18 308.29H331.82V315.92H324.18ZM102.62 315.92H110.26V323.55H102.62ZM247.78 315.92H255.42V323.55H247.78ZM285.98 315.92H293.62V323.55H285.98ZM270.70 323.55H285.98V331.17H270.70ZM217.22 338.79H224.86V346.40H217.22ZM148.46 346.40H156.10V354.01H148.46ZM209.58 346.40H217.22V354.01H209.58ZM240.14 346.40H255.42V354.01H240.14ZM270.70 346.40H278.34V354.01H270.70ZM163.74 354.01H171.38V361.62H163.74ZM240.14 354.01H270.70V361.62H240.14ZM102.62 361.62H117.90V369.21H102.62ZM217.22 361.62H224.86V369.21H217.22ZM232.50 361.62H240.14V369.21H232.50ZM247.78 361.62H255.42V369.21H247.78ZM156.10 369.21H163.74V376.81H156.10ZM201.94 369.21H209.58V376.81H201.94ZM163.74 376.81H171.38V384.40H163.74Z"/><path fill="#00009f" d="M293.62 139.06H301.26V146.80H293.62ZM308.90 154.55H316.54V162.28H308.90ZM308.90 170.01H316.54V177.74H308.90ZM232.50 185.46H247.78V193.17H232.50ZM316.54 185.46H324.18V193.17H316.54ZM240.14 193.17H247.78V200.88H240.14ZM285.98 223.98H293.62V231.67H285.98ZM331.82 247.04H339.46V254.71H331.82ZM308.90 285.36H316.54V293.00H308.90ZM308.90 308.29H316.54V315.92H308.90ZM110.26 315.92H117.90V323.55H110.26ZM179.02 323.55H186.66V331.17H179.02ZM224.86 331.17H232.50V338.79H224.86ZM110.26 338.79H117.90V346.40H110.26ZM255.42 338.79H263.06V346.40H255.42ZM240.14 369.21H247.78V376.81H240.14ZM263.06 369.21H270.70V376.81H263.06ZM232.50 376.81H240.14V384.40H232.50Z"/><path fill="#0000af" d="M301.26 146.80H308.90V154.55H301.26ZM316.54 162.28H324.18V170.01H316.54ZM232.50 177.74H240.14V185.46H232.50ZM247.78 177.74H255.42V185.46H247.78ZM308.90 177.74H316.54V185.46H308.90ZM224.86 185.46H232.50V193.17H224.86ZM263.06 185.46H270.70V193.17H263.06ZM224.86 193.17H232.50V200.88H224.86ZM278.34 223.98H285.98V231.67H278.34ZM278.34 231.67H285.98V239.36H278.34ZM331.82 239.36H339.46V247.04H331.82ZM308.90 277.70H316.54V285.36H308.90ZM301.26 285.36H308.90V293.00H301.26ZM308.90 300.65H316.54V308.29H308.90ZM117.90 315.92H125.54V323.55H117.90ZM102.62 323.55H117.90V331.17H102.62ZM110.26 331.17H117.90V338.79H110.26ZM247.78 331.17H263.06V338.79H247.78ZM301.26 331.17H308.90V338.79H301.26ZM117.90 338.79H125.54V346.40H117.90ZM263.06 338.79H278.34V346.40H263.06ZM171.38 346.40H179.02V354.01H171.38ZM293.62 346.40H301.26V354.01H293.62ZM201.94 361.62H209.58V369.21H201.94ZM270.70 361.62H278.34V369.21H270.70ZM224.86 376.81H232.50V384.40H224.86Z"/><path fill="#0080ff" d="M301.26 154.55H308.90V162.28H301.26ZM209.58 193.17H217.22V200.88H209.58ZM224.86 223.98H232.50V231.67H224.86ZM247.78 231.67H255.42V239.36H247.78ZM179.02 254.71H186.66V262.38H179.02ZM240.14 300.65H247.78V308.29H240.14ZM209.58 315.92H217.22V323.55H209.58ZM201.94 354.01H209.58V361.62H201.94ZM224.86 354.01H232.50V361.62H224.86ZM133.18 369.21H140.82V376.81H133.18Z"/><path fill="#0040ff" d="M285.98 162.28H293.62V170.01H285.98ZM278.34 185.46H285.98V193.17H278.34ZM240.14 216.29H247.78V223.98H240.14ZM308.90 216.29H316.54V223.98H308.90ZM201.94 223.98H209.58V231.67H201.94ZM255.42 223.98H263.06V231.67H255.42ZM331.82 223.98H339.46V231.67H331.82ZM156.10 270.04H163.74V277.70H156.10ZM224.86 277.70H232.50V285.36H224.86ZM125.54 285.36H133.18V293.00H125.54ZM224.86 285.36H232.50V293.00H224.86ZM301.26 308.29H308.90V315.92H301.26ZM301.26 315.92H316.54V323.55H301.26ZM156.10 323.55H163.74V331.17H156.10ZM301.26 323.55H308.90V331.17H301.26ZM133.18 331.17H140.82V338.79H133.18ZM217.22 331.17H224.86V338.79H217.22ZM133.18 338.79H148.46V346.40H133.18ZM133.18 346.40H140.82V354.01H133.18ZM156.10 376.81H163.74V384.40H156.10Z"/><path fill="#0060ff" d="M293.62 162.28H301.26V170.01H293.62ZM285.98 185.46H293.62V193.17H285.98ZM232.50 208.59H240.14V216.29H232.50ZM285.98 208.59H293.62V216.29H285.98ZM247.78 223.98H255.42V231.67H247.78ZM316.54 223.98H324.18V231.67H316.54ZM324.18 239.36H331.82V247.04H324.18ZM201.94 247.04H209.58V254.71H201.94ZM232.50 247.04H240.14V254.71H232.50ZM171.38 254.71H179.02V262.38H171.38ZM171.38 285.36H179.02V293.00H171.38ZM232.50 300.65H240.14V308.29H232.50ZM209.58 308.29H217.22V315.92H209.58ZM171.38 369.21H186.66V376.81H171.38Z"/><path fill="#0020ff" d="M301.26 162.28H308.90V170.01H301.26ZM240.14 208.59H255.42V216.29H240.14ZM316.54 208.59H324.18V216.29H316.54ZM255.42 216.29H270.70V223.98H255.42ZM217.22 223.98H224.86V231.67H217.22ZM240.14 223.98H247.78V231.67H240.14ZM324.18 247.04H331.82V254.71H324.18ZM324.18 270.04H331.82V277.70H324.18ZM240.14 285.36H247.78V293.00H240.14ZM133.18 300.65H140.82V308.29H133.18ZM232.50 308.29H240.14V315.92H232.50ZM293.62 308.29H301.26V315.92H293.62ZM285.98 323.55H293.62V331.17H285.98ZM156.10 331.17H163.74V338.79H156.10ZM125.54 346.40H133.18V354.01H125.54ZM125.54 354.01H140.82V361.62H125.54ZM117.90 361.62H125.54V369.21H117.90Z"/><path fill="#0000bf" d="M232.50 170.01H240.14V177.74H232.50ZM316.54 170.01H324.18V177.74H316.54ZM240.14 177.74H247.78V185.46H240.14ZM316.54 177.74H324.18V185.46H316.54ZM308.90 185.46H316.54V193.17H308.90ZM255.42 193.17H263.06V200.88H255.42ZM293.62 193.17H308.90V200.88H293.62ZM301.26 200.88H308.90V208.59H301.26ZM285.98 231.67H293.62V239.36H285.98ZM324.18 254.71H331.82V262.38H324.18ZM156.10 262.38H163.74V270.04H156.10ZM117.90 277.70H125.54V285.36H117.90ZM316.54 300.65H324.18V308.29H316.54ZM316.54 308.29H324.18V315.92H316.54ZM94.98 331.17H110.26V338.79H94.98ZM117.90 331.17H125.54V338.79H117.90ZM285.98 346.40H293.62V354.01H285.98ZM278.34 361.62H285.98V369.21H278.34Z"/><path fill="#0070ff" d="M293.62 170.01H301.26V177.74H293.62ZM186.66 200.88H194.30V208.59H186.66ZM224.86 200.88H232.50V208.59H224.86ZM331.82 200.88H339.46V208.59H331.82ZM217.22 208.59H232.50V216.29H217.22ZM209.58 216.29H240.14V223.98H209.58ZM316.54 216.29H324.18V223.98H316.54ZM186.66 223.98H201.94V231.67H186.66ZM232.50 223.98H240.14V231.67H232.50ZM194.30 231.67H201.94V239.36H194.30ZM209.58 231.67H217.22V239.36H209.58ZM240.14 231.67H247.78V239.36H240.14ZM240.14 239.36H247.78V247.04H240.14ZM186.66 247.04H201.94V254.71H186.66ZM163.74 254.71H171.38V262.38H163.74ZM186.66 254.71H201.94V262.38H186.66ZM301.26 254.71H308.90V262.38H301.26ZM148.46 293.00H156.10V300.65H148.46ZM224.86 293.00H232.50V300.65H224.86ZM240.14 293.00H247.78V300.65H240.14ZM240.14 308.29H247.78V315.92H240.14ZM240.14 315.92H247.78V323.55H240.14ZM270.70 315.92H278.34V323.55H270.70ZM232.50 346.40H240.14V354.01H232.50ZM232.50 354.01H240.14V361.62H232.50ZM171.38 361.62H179.02V369.21H171.38ZM140.82 369.21H148.46V376.81H140.82ZM186.66 369.21H194.30V376.81H186.66Z"/><path fill="#009fff" d="M194.30 193.17H201.94V200.88H194.30ZM232.50 231.67H240.14V239.36H232.50ZM186.66 239.36H194.30V247.04H186.66ZM179.02 247.04H186.66V254.71H179.02ZM217.22 247.04H224.86V254.71H217.22ZM217.22 315.92H224.86V323.55H217.22ZM171.38 384.40H179.02V391.98H171.38Z"/><path fill="#00dfff" d="M278.34 193.17H285.98V200.88H278.34ZM201.94 200.88H209.58V208.59H201.94ZM278.34 208.59H285.98V216.29H278.34ZM171.38 262.38H179.02V270.04H171.38ZM186.66 262.38H194.30V270.04H186.66ZM201.94 262.38H209.58V270.04H201.94ZM209.58 270.04H217.22V277.70H209.58ZM140.82 277.70H148.46V285.36H140.82ZM140.82 285.36H148.46V293.00H140.82ZM232.50 323.55H240.14V331.17H232.50ZM163.74 338.79H171.38V346.40H163.74ZM224.86 338.79H232.50V346.40H224.86Z"/><path fill="#00afff" d="M194.30 200.88H201.94V208.59H194.30ZM209.58 200.88H217.22V208.59H209.58ZM285.98 200.88H293.62V208.59H285.98ZM179.02 216.29H194.30V223.98H179.02ZM278.34 216.29H285.98V223.98H278.34ZM179.02 223.98H186.66V231.67H179.02ZM179.02 231.67H194.30V239.36H179.02ZM201.94 231.67H209.58V239.36H201.94ZM217.22 231.67H232.50V239.36H217.22ZM179.02 239.36H186.66V247.04H179.02ZM194.30 239.36H201.94V247.04H194.30ZM217.22 239.36H232.50V247.04H217.22ZM308.90 254.71H316.54V262.38H308.90ZM308.90 262.38H324.18V270.04H308.90ZM140.82 270.04H148.46V277.70H140.82ZM232.50 270.04H240.14V277.70H232.50ZM133.18 285.36H140.82V293.00H133.18ZM140.82 308.29H148.46V315.92H140.82ZM232.50 315.92H240.14V323.55H232.50ZM163.74 331.17H171.38V338.79H163.74ZM156.10 338.79H163.74V346.40H156.10ZM156.10 346.40H163.74V354.01H156.10ZM148.46 369.21H156.10V376.81H148.46ZM179.02 376.81H194.30V384.40H179.02Z"/><path fill="#00bfff" d="M217.22 200.88H224.86V208.59H217.22ZM209.58 247.04H217.22V254.71H209.58ZM201.94 254.71H209.58V262.38H201.94ZM316.54 254.71H324.18V262.38H316.54ZM301.26 262.38H308.90V270.04H301.26ZM224.86 308.29H232.50V315.92H224.86ZM140.82 315.92H148.46V323.55H140.82ZM217.22 323.55H224.86V331.17H217.22ZM156.10 354.01H163.74V361.62H156.10ZM217.22 354.01H224.86V361.62H217.22ZM148.46 361.62H163.74V369.21H148.46ZM171.38 376.81H179.02V384.40H171.38ZM179.02 384.40H186.66V391.98H179.02Z"/><path fill="#00efff" d="M270.70 200.88H285.98V208.59H270.70ZM201.94 208.59H209.58V216.29H201.94ZM224.86 247.04H232.50V254.71H224.86ZM209.58 254.71H217.22V262.38H209.58ZM163.74 262.38H171.38V270.04H163.74ZM201.94 270.04H209.58V277.70H201.94ZM148.46 277.70H156.10V285.36H148.46ZM209.58 277.70H217.22V285.36H209.58ZM179.02 285.36H194.30V293.00H179.02ZM224.86 315.92H232.50V323.55H224.86ZM217.22 369.21H232.50V376.81H217.22Z"/><path fill="#30ffcf" d="M186.66 208.59H201.94V216.29H186.66ZM232.50 254.71H240.14V262.38H232.50ZM133.18 277.70H140.82V285.36H133.18ZM171.38 277.70H186.66V285.36H171.38ZM194.30 277.70H201.94V285.36H194.30Z"/><path fill="#70ff8f" d="M209.58 208.59H217.22V216.29H209.58ZM133.18 270.04H140.82V277.70H133.18ZM171.38 270.04H186.66V277.70H171.38ZM156.10 277.70H171.38V285.36H156.10Z"/><path fill="#00ffff" d="M270.70 208.59H278.34V216.29H270.70ZM201.94 216.29H209.58V223.98H201.94ZM270.70 216.29H278.34V223.98H270.70ZM201.94 239.36H217.22V247.04H201.94ZM232.50 239.36H240.14V247.04H232.50ZM179.02 262.38H186.66V270.04H179.02ZM194.30 262.38H201.94V270.04H194.30ZM163.74 270.04H171.38V277.70H163.74ZM194.30 270.04H201.94V277.70H194.30ZM148.46 285.36H156.10V293.00H148.46ZM140.82 293.00H148.46V300.65H140.82ZM232.50 331.17H240.14V338.79H232.50ZM232.50 338.79H240.14V346.40H232.50Z"/><path fill="#40ffbf" d="M194.30 216.29H201.94V223.98H194.30ZM232.50 262.38H240.14V270.04H232.50ZM186.66 277.70H194.30V285.36H186.66ZM201.94 277.70H209.58V285.36H201.94Z"/><path fill="#80ff80" d="M217.22 254.71H232.50V262.38H217.22Z"/><path fill="#afff50" d="M209.58 262.38H217.22V270.04H209.58Z"/><path fill="#9fff60" d="M217.22 262.38H224.86V270.04H217.22Z"/><path fill="#60ff9f" d="M224.86 262.38H232.50V270.04H224.86Z"/><path fill="#20ffdf" d="M186.66 270.04H194.30V277.70H186.66ZM125.54 277.70H133.18V285.36H125.54ZM224.86 323.55H232.50V331.17H224.86Z"/><path fill="#ff8f00" d="M217.22 270.04H232.50V277.70H217.22Z"/><path fill="#efff10" d="M217.22 277.70H224.86V285.36H217.22Z"/><path fill="#ffcf00" d="M156.10 285.36H163.74V293.00H156.10Z"/><path fill="#bfff40" d="M163.74 285.36H171.38V293.00H163.74Z"/></g>
<path d="M159.9 282.5L155.9 289.2M155.9 289.2L159.9 291.4M167.6 284.4L159.9 282.5M168.5 289.2L167.6 284.4M213.4 264.6L211.8 266.2M211.8 266.2L213.4 267.8M221.0 261.4L213.4 264.6M216.4 273.9L213.4 267.8M216.4 273.9L217.9 281.5M225.8 266.2L221.0 261.4M225.8 266.2L228.7 266.9M228.7 277.0L222.8 281.5M232.6 273.9L228.7 266.9M232.6 273.9L228.7 277.0" stroke="#000" stroke-width="0.9" fill="none" stroke-linecap="round"/><g transform="translate(218,270) rotate(20)"><text x="0" y="4.68" font-size="13" text-anchor="middle" fill="#000">30</text></g><path d="M154.4 157.3H170.8M162.6 149.1V165.5M156.8 151.5L168.4 163.1M156.8 163.1L168.4 151.5" stroke="#ff0000" stroke-width="1.15" fill="none"/><path d="M163.4 250.1H179.8M171.6 241.9V258.3M165.8 244.3L177.4 255.9M165.8 255.9L177.4 244.3" stroke="#ff0000" stroke-width="1.15" fill="none"/><path d="M60.0 320.8H76.4M68.2 312.6V329.0M62.4 315.0L74.0 326.6M62.4 326.6L74.0 315.0" stroke="#ff0000" stroke-width="1.15" fill="none"/>
</g>
<rect x="0" y="0" width="348.0" height="427.5" fill="none" stroke="#000" stroke-width="1"/>

<text x="-7" y="7.0" font-size="19.5" text-anchor="end" fill="#000" textLength="46" lengthAdjust="spacingAndGlyphs">37°N</text>
<text x="-7" y="151.3" font-size="19.5" text-anchor="end" fill="#000" textLength="46" lengthAdjust="spacingAndGlyphs">36°N</text>
<text x="-7" y="293.8" font-size="19.5" text-anchor="end" fill="#000" textLength="46" lengthAdjust="spacingAndGlyphs">35°N</text>
<text x="-7" y="434.5" font-size="19.5" text-anchor="end" fill="#000" textLength="46" lengthAdjust="spacingAndGlyphs">34°N</text>
<text x="-6" y="77.4" font-size="14.5" text-anchor="end" fill="#000" textLength="21.5" lengthAdjust="spacingAndGlyphs">30'</text>
<text x="-6" y="220.7" font-size="14.5" text-anchor="end" fill="#000" textLength="21.5" lengthAdjust="spacingAndGlyphs">30'</text>
<text x="-6" y="362.3" font-size="14.5" text-anchor="end" fill="#000" textLength="21.5" lengthAdjust="spacingAndGlyphs">30'</text>
<text x="0" y="448" font-size="19.5" text-anchor="middle" fill="#000" textLength="50.5" lengthAdjust="spacingAndGlyphs">77°W</text>
<text x="116" y="448" font-size="19.5" text-anchor="middle" fill="#000" textLength="50.5" lengthAdjust="spacingAndGlyphs">76°W</text>
<text x="232" y="448" font-size="19.5" text-anchor="middle" fill="#000" textLength="50.5" lengthAdjust="spacingAndGlyphs">75°W</text>
<text x="348" y="448" font-size="19.5" text-anchor="middle" fill="#000" textLength="50.5" lengthAdjust="spacingAndGlyphs">74°W</text>
<text x="58" y="443.5" font-size="14.5" text-anchor="middle" fill="#000" textLength="21.5" lengthAdjust="spacingAndGlyphs">30'</text>
<text x="174" y="443.5" font-size="14.5" text-anchor="middle" fill="#000" textLength="21.5" lengthAdjust="spacingAndGlyphs">30'</text>
<text x="290" y="443.5" font-size="14.5" text-anchor="middle" fill="#000" textLength="21.5" lengthAdjust="spacingAndGlyphs">30'</text>
<text x="68.3" y="-12" font-size="20" font-weight="bold" fill="#000" textLength="211" lengthAdjust="spacingAndGlyphs">FitDif TotalErrors (30)</text><text x="36.8" y="-19.8" font-size="19.5" fill="#3a3a3a" textLength="44.6" lengthAdjust="spacingAndGlyphs">cm/s</text><text x="2.8" y="7.2" font-size="19.5" text-anchor="middle" fill="#3a3a3a">0</text><text x="97.1" y="7.2" font-size="19.5" text-anchor="middle" fill="#3a3a3a">50</text><rect x="3.3" y="19.9" width="114" height="25.1" fill="url(#jet)" stroke="#262626" stroke-width="1"/><text x="283.8" y="37" font-size="19.5" fill="#000" textLength="57" lengthAdjust="spacingAndGlyphs">10 km</text><path d="M305 43.1H321" stroke="#000" stroke-width="3.6" stroke-linecap="round"/><path d="M117.5 0v3" stroke="#262626"/>
</g>
<g transform="translate(843.6,742.5)">
<rect x="0" y="0" width="348.0" height="427.5" fill="#fff"/>
<g clip-path="url(#clip)">
<use href="#coast"/>
<path d="M58 0V427.5M116 0V427.5M174 0V427.5M232 0V427.5M290 0V427.5M0 72.4H348.0M0 144.3H348.0M0 215.7H348.0M0 286.8H348.0M0 357.3H348.0" stroke="#000" stroke-opacity="0.16" stroke-width="1" stroke-dasharray="2 5" fill="none"/>
<path d="M0 427.5v-4M0 0v4M58 427.5v-4M58 0v4M116 427.5v-4M116 0v4M174 427.5v-4M174 0v4M232 427.5v-4M232 0v4M290 427.5v-4M290 0v4M348 427.5v-4M348 0v4M0 72.4h4M348.0 72.4h-4M0 144.3h4M348.0 144.3h-4M0 215.7h4M348.0 215.7h-4M0 286.8h4M348.0 286.8h-4M0 357.3h4M348.0 357.3h-4" stroke="#000" stroke-width="1" fill="none"/>
<g shape-rendering="crispEdges"><path fill="#00008f" d="M125.54 0.00H293.62V6.53H125.54ZM125.54 6.53H171.38V14.37H125.54ZM194.30 6.53H301.26V14.37H194.30ZM194.30 14.37H301.26V22.21H194.30ZM224.86 22.21H301.26V30.03H224.86ZM240.14 30.03H301.26V37.86H240.14ZM255.42 37.86H301.26V45.67H255.42ZM133.18 45.67H140.82V53.49H133.18ZM156.10 45.67H163.74V53.49H156.10ZM263.06 45.67H301.26V53.49H263.06ZM270.70 53.49H301.26V61.29H270.70ZM278.34 61.29H301.26V69.09H278.34ZM278.34 69.09H308.90V76.89H278.34ZM285.98 76.89H308.90V84.68H285.98ZM293.62 84.68H316.54V92.46H293.62ZM293.62 92.46H316.54V100.24H293.62ZM293.62 100.24H316.54V108.02H293.62ZM293.62 108.02H324.18V115.78H293.62ZM301.26 115.78H316.54V123.55H301.26ZM301.26 123.55H316.54V131.30H301.26ZM308.90 131.30H316.54V139.06H308.90ZM3.30 277.70H10.94V285.36H3.30ZM339.46 315.92H348.00V323.55H339.46ZM3.30 323.55H10.94V331.17H3.30ZM339.46 323.55H348.00V331.17H339.46ZM3.30 331.17H26.22V338.79H3.30ZM49.14 331.17H56.78V338.79H49.14ZM324.18 331.17H348.00V338.79H324.18ZM3.30 338.79H26.22V346.40H3.30ZM56.78 338.79H64.42V346.40H56.78ZM316.54 338.79H348.00V346.40H316.54ZM3.30 346.40H26.22V354.01H3.30ZM308.90 346.40H348.00V354.01H308.90ZM3.30 354.01H33.86V361.62H3.30ZM301.26 354.01H348.00V361.62H301.26ZM3.30 361.62H26.22V369.21H3.30ZM301.26 361.62H348.00V369.21H301.26ZM3.30 369.21H26.22V376.81H3.30ZM293.62 369.21H348.00V376.81H293.62ZM3.30 376.81H26.22V384.40H3.30ZM117.90 376.81H125.54V384.40H117.90ZM270.70 376.81H348.00V384.40H270.70ZM3.30 384.40H33.86V391.98H3.30ZM263.06 384.40H348.00V391.98H263.06ZM3.30 391.98H41.50V399.56H3.30ZM194.30 391.98H201.94V399.56H194.30ZM224.86 391.98H232.50V399.56H224.86ZM263.06 391.98H348.00V399.56H263.06ZM3.30 399.56H56.78V407.14H3.30ZM133.18 399.56H156.10V407.14H133.18ZM163.74 399.56H194.30V407.14H163.74ZM224.86 399.56H240.14V407.14H224.86ZM255.42 399.56H348.00V407.14H255.42ZM3.30 407.14H56.78V414.70H3.30ZM110.26 407.14H186.66V414.70H110.26ZM217.22 407.14H348.00V414.70H217.22ZM3.30 414.70H179.02V422.27H3.30ZM209.58 414.70H348.00V422.27H209.58ZM3.30 422.27H171.38V427.50H3.30ZM209.58 422.27H348.00V427.50H209.58Z"/><path fill="#0000df" d="M293.62 0.00H348.00V6.53H293.62ZM171.38 6.53H194.30V14.37H171.38ZM301.26 6.53H348.00V14.37H301.26ZM133.18 14.37H194.30V22.21H133.18ZM301.26 14.37H348.00V22.21H301.26ZM133.18 22.21H224.86V30.03H133.18ZM301.26 22.21H348.00V30.03H301.26ZM133.18 30.03H240.14V37.86H133.18ZM301.26 30.03H348.00V37.86H301.26ZM133.18 37.86H255.42V45.67H133.18ZM301.26 37.86H348.00V45.67H301.26ZM140.82 45.67H156.10V53.49H140.82ZM163.74 45.67H263.06V53.49H163.74ZM301.26 45.67H348.00V53.49H301.26ZM140.82 53.49H270.70V61.29H140.82ZM301.26 53.49H348.00V61.29H301.26ZM140.82 61.29H278.34V69.09H140.82ZM301.26 61.29H348.00V69.09H301.26ZM140.82 69.09H278.34V76.89H140.82ZM308.90 69.09H348.00V76.89H308.90ZM140.82 76.89H285.98V84.68H140.82ZM308.90 76.89H348.00V84.68H308.90ZM140.82 84.68H293.62V92.46H140.82ZM316.54 84.68H348.00V92.46H316.54ZM148.46 92.46H293.62V100.24H148.46ZM316.54 92.46H348.00V100.24H316.54ZM148.46 100.24H293.62V108.02H148.46ZM316.54 100.24H348.00V108.02H316.54ZM156.10 108.02H293.62V115.78H156.10ZM324.18 108.02H348.00V115.78H324.18ZM156.10 115.78H301.26V123.55H156.10ZM316.54 115.78H348.00V123.55H316.54ZM156.10 123.55H301.26V131.30H156.10ZM316.54 123.55H348.00V131.30H316.54ZM163.74 131.30H270.70V139.06H163.74ZM301.26 131.30H308.90V139.06H301.26ZM316.54 131.30H348.00V139.06H316.54ZM163.74 139.06H270.70V146.80H163.74ZM308.90 139.06H348.00V146.80H308.90ZM163.74 146.80H270.70V154.55H163.74ZM316.54 146.80H348.00V154.55H316.54ZM171.38 154.55H278.34V162.28H171.38ZM316.54 154.55H348.00V162.28H316.54ZM171.38 162.28H285.98V170.01H171.38ZM324.18 162.28H348.00V170.01H324.18ZM179.02 170.01H232.50V177.74H179.02ZM247.78 170.01H293.62V177.74H247.78ZM331.82 170.01H348.00V177.74H331.82ZM179.02 177.74H224.86V185.46H179.02ZM255.42 177.74H293.62V185.46H255.42ZM331.82 177.74H348.00V185.46H331.82ZM179.02 185.46H209.58V193.17H179.02ZM217.22 185.46H224.86V193.17H217.22ZM339.46 185.46H348.00V193.17H339.46ZM179.02 193.17H194.30V200.88H179.02ZM339.46 193.17H348.00V200.88H339.46ZM179.02 200.88H186.66V208.59H179.02ZM339.46 200.88H348.00V208.59H339.46ZM339.46 208.59H348.00V216.29H339.46ZM339.46 216.29H348.00V223.98H339.46ZM339.46 223.98H348.00V231.67H339.46ZM339.46 231.67H348.00V239.36H339.46ZM339.46 239.36H348.00V247.04H339.46ZM339.46 247.04H348.00V254.71H339.46ZM148.46 254.71H163.74V262.38H148.46ZM331.82 254.71H348.00V262.38H331.82ZM331.82 262.38H348.00V270.04H331.82ZM331.82 270.04H348.00V277.70H331.82ZM339.46 277.70H348.00V285.36H339.46ZM339.46 285.36H348.00V293.00H339.46ZM331.82 293.00H348.00V300.65H331.82ZM331.82 300.65H348.00V308.29H331.82ZM331.82 308.29H348.00V315.92H331.82ZM324.18 315.92H339.46V323.55H324.18ZM324.18 323.55H339.46V331.17H324.18ZM26.22 331.17H49.14V338.79H26.22ZM186.66 331.17H201.94V338.79H186.66ZM316.54 331.17H324.18V338.79H316.54ZM26.22 338.79H33.86V346.40H26.22ZM186.66 338.79H209.58V346.40H186.66ZM179.02 346.40H209.58V354.01H179.02ZM179.02 354.01H201.94V361.62H179.02ZM179.02 361.62H194.30V369.21H179.02ZM156.10 384.40H163.74V391.98H156.10ZM247.78 384.40H263.06V391.98H247.78ZM148.46 391.98H194.30V399.56H148.46ZM232.50 391.98H263.06V399.56H232.50ZM156.10 399.56H163.74V407.14H156.10ZM240.14 399.56H255.42V407.14H240.14Z"/><path fill="#009fff" d="M270.70 131.30H301.26V139.06H270.70ZM270.70 139.06H308.90V146.80H270.70ZM270.70 146.80H308.90V154.55H270.70ZM278.34 154.55H316.54V162.28H278.34ZM285.98 162.28H324.18V170.01H285.98ZM232.50 170.01H247.78V177.74H232.50ZM293.62 170.01H331.82V177.74H293.62ZM224.86 177.74H255.42V185.46H224.86ZM293.62 177.74H301.26V185.46H293.62ZM308.90 177.74H331.82V185.46H308.90ZM209.58 185.46H217.22V193.17H209.58ZM224.86 185.46H301.26V193.17H224.86ZM308.90 185.46H339.46V193.17H308.90ZM194.30 193.17H339.46V200.88H194.30ZM186.66 200.88H339.46V208.59H186.66ZM179.02 208.59H339.46V216.29H179.02ZM179.02 216.29H339.46V223.98H179.02ZM179.02 223.98H339.46V231.67H179.02ZM179.02 231.67H270.70V239.36H179.02ZM278.34 231.67H339.46V239.36H278.34ZM179.02 239.36H263.06V247.04H179.02ZM293.62 239.36H301.26V247.04H293.62ZM308.90 239.36H339.46V247.04H308.90ZM179.02 247.04H255.42V254.71H179.02ZM301.26 247.04H339.46V254.71H301.26ZM163.74 254.71H247.78V262.38H163.74ZM301.26 254.71H331.82V262.38H301.26ZM171.38 262.38H240.14V270.04H171.38ZM301.26 262.38H331.82V270.04H301.26ZM171.38 270.04H217.22V277.70H171.38ZM308.90 270.04H331.82V277.70H308.90ZM163.74 277.70H217.22V285.36H163.74ZM308.90 277.70H339.46V285.36H308.90ZM163.74 285.36H194.30V293.00H163.74ZM301.26 285.36H339.46V293.00H301.26ZM301.26 293.00H331.82V300.65H301.26ZM217.22 300.65H224.86V308.29H217.22ZM263.06 300.65H278.34V308.29H263.06ZM293.62 300.65H331.82V308.29H293.62ZM209.58 308.29H224.86V315.92H209.58ZM255.42 308.29H331.82V315.92H255.42ZM209.58 315.92H224.86V323.55H209.58ZM247.78 315.92H324.18V323.55H247.78ZM217.22 323.55H224.86V331.17H217.22ZM247.78 323.55H324.18V331.17H247.78ZM201.94 331.17H217.22V338.79H201.94ZM247.78 331.17H316.54V338.79H247.78ZM209.58 338.79H224.86V346.40H209.58ZM247.78 338.79H316.54V346.40H247.78ZM209.58 346.40H217.22V354.01H209.58ZM240.14 346.40H308.90V354.01H240.14ZM201.94 354.01H217.22V361.62H201.94ZM240.14 354.01H285.98V361.62H240.14ZM194.30 361.62H217.22V369.21H194.30ZM240.14 361.62H285.98V369.21H240.14ZM171.38 369.21H209.58V376.81H171.38ZM240.14 369.21H270.70V376.81H240.14ZM171.38 376.81H194.30V384.40H171.38ZM232.50 376.81H255.42V384.40H232.50ZM163.74 384.40H194.30V391.98H163.74ZM232.50 384.40H247.78V391.98H232.50Z"/><path fill="#0040ff" d="M308.90 146.80H316.54V154.55H308.90ZM301.26 177.74H308.90V185.46H301.26ZM301.26 185.46H308.90V193.17H301.26ZM270.70 231.67H278.34V239.36H270.70ZM263.06 239.36H293.62V247.04H263.06ZM301.26 239.36H308.90V247.04H301.26ZM255.42 247.04H301.26V254.71H255.42ZM247.78 254.71H301.26V262.38H247.78ZM240.14 262.38H301.26V270.04H240.14ZM240.14 270.04H308.90V277.70H240.14ZM240.14 277.70H308.90V285.36H240.14ZM194.30 285.36H224.86V293.00H194.30ZM247.78 285.36H301.26V293.00H247.78ZM163.74 293.00H217.22V300.65H163.74ZM247.78 293.00H301.26V300.65H247.78ZM163.74 300.65H217.22V308.29H163.74ZM247.78 300.65H263.06V308.29H247.78ZM278.34 300.65H293.62V308.29H278.34ZM186.66 308.29H209.58V315.92H186.66ZM247.78 308.29H255.42V315.92H247.78ZM186.66 315.92H209.58V323.55H186.66ZM186.66 323.55H217.22V331.17H186.66ZM285.98 354.01H301.26V361.62H285.98ZM285.98 361.62H301.26V369.21H285.98ZM270.70 369.21H293.62V376.81H270.70ZM194.30 376.81H209.58V384.40H194.30ZM255.42 376.81H270.70V384.40H255.42ZM194.30 384.40H201.94V391.98H194.30Z"/><path fill="#ff4000" d="M140.82 262.38H163.74V270.04H140.82ZM125.54 270.04H163.74V277.70H125.54ZM117.90 277.70H163.74V285.36H117.90ZM125.54 285.36H156.10V293.00H125.54ZM133.18 293.00H163.74V300.65H133.18ZM94.98 300.65H140.82V308.29H94.98ZM87.34 308.29H148.46V315.92H87.34ZM79.70 315.92H148.46V323.55H79.70ZM72.06 323.55H125.54V331.17H72.06ZM156.10 323.55H163.74V331.17H156.10ZM87.34 331.17H186.66V338.79H87.34ZM33.86 338.79H49.14V346.40H33.86ZM79.70 338.79H186.66V346.40H79.70ZM79.70 346.40H179.02V354.01H79.70ZM87.34 354.01H148.46V361.62H87.34ZM156.10 354.01H179.02V361.62H156.10ZM94.98 361.62H179.02V369.21H94.98ZM102.62 369.21H110.26V376.81H102.62ZM117.90 369.21H163.74V376.81H117.90ZM156.10 376.81H163.74V384.40H156.10ZM148.46 384.40H156.10V391.98H148.46Z"/><path fill="#8f0000" d="M163.74 262.38H171.38V270.04H163.74ZM163.74 270.04H171.38V277.70H163.74ZM217.22 270.04H232.50V277.70H217.22ZM217.22 277.70H224.86V285.36H217.22ZM156.10 285.36H163.74V293.00H156.10ZM224.86 308.29H232.50V315.92H224.86ZM224.86 315.92H232.50V323.55H224.86ZM240.14 315.92H247.78V323.55H240.14ZM224.86 323.55H247.78V331.17H224.86ZM217.22 331.17H247.78V338.79H217.22ZM224.86 338.79H247.78V346.40H224.86ZM217.22 346.40H240.14V354.01H217.22ZM217.22 354.01H240.14V361.62H217.22ZM217.22 361.62H240.14V369.21H217.22ZM163.74 369.21H171.38V376.81H163.74ZM209.58 369.21H240.14V376.81H209.58ZM163.74 376.81H171.38V384.40H163.74Z"/><path fill="#df0000" d="M232.50 270.04H240.14V277.70H232.50ZM224.86 277.70H240.14V285.36H224.86ZM224.86 285.36H247.78V293.00H224.86ZM217.22 293.00H247.78V300.65H217.22ZM224.86 300.65H247.78V308.29H224.86ZM163.74 308.29H186.66V315.92H163.74ZM232.50 308.29H247.78V315.92H232.50ZM171.38 315.92H186.66V323.55H171.38ZM232.50 315.92H240.14V323.55H232.50ZM179.02 323.55H186.66V331.17H179.02ZM224.86 376.81H232.50V384.40H224.86ZM224.86 384.40H232.50V391.98H224.86Z"/><path fill="#ff9f00" d="M110.26 285.36H125.54V293.00H110.26ZM102.62 293.00H133.18V300.65H102.62ZM140.82 300.65H163.74V308.29H140.82ZM148.46 308.29H163.74V315.92H148.46ZM148.46 315.92H171.38V323.55H148.46ZM125.54 323.55H156.10V331.17H125.54ZM163.74 323.55H179.02V331.17H163.74ZM72.06 331.17H87.34V338.79H72.06ZM49.14 338.79H56.78V346.40H49.14ZM64.42 338.79H79.70V346.40H64.42ZM26.22 346.40H79.70V354.01H26.22ZM33.86 354.01H87.34V361.62H33.86ZM148.46 354.01H156.10V361.62H148.46ZM26.22 361.62H94.98V369.21H26.22ZM26.22 369.21H102.62V376.81H26.22ZM110.26 369.21H117.90V376.81H110.26ZM26.22 376.81H117.90V384.40H26.22ZM125.54 376.81H156.10V384.40H125.54ZM209.58 376.81H224.86V384.40H209.58ZM33.86 384.40H148.46V391.98H33.86ZM201.94 384.40H224.86V391.98H201.94ZM41.50 391.98H148.46V399.56H41.50ZM201.94 391.98H224.86V399.56H201.94ZM56.78 399.56H133.18V407.14H56.78ZM194.30 399.56H224.86V407.14H194.30ZM56.78 407.14H110.26V414.70H56.78ZM186.66 407.14H217.22V414.70H186.66ZM179.02 414.70H209.58V422.27H179.02ZM171.38 422.27H209.58V427.50H171.38Z"/></g>
<g shape-rendering="crispEdges"><path fill="#00008f" d="M3.30 277.70H10.94V285.36H3.30ZM3.30 323.55H10.94V331.17H3.30Z"/></g><path d="M154.4 157.3H170.8M162.6 149.1V165.5M156.8 151.5L168.4 163.1M156.8 163.1L168.4 151.5" stroke="#ff0000" stroke-width="1.15" fill="none"/><path d="M163.4 250.1H179.8M171.6 241.9V258.3M165.8 244.3L177.4 255.9M165.8 255.9L177.4 244.3" stroke="#ff0000" stroke-width="1.15" fill="none"/><path d="M60.0 320.8H76.4M68.2 312.6V329.0M62.4 315.0L74.0 326.6M62.4 326.6L74.0 315.0" stroke="#ff0000" stroke-width="1.15" fill="none"/>
</g>
<rect x="0" y="0" width="348.0" height="427.5" fill="none" stroke="#000" stroke-width="1"/>
<g shape-rendering="crispEdges"><rect x="125.54" y="-0.55" width="7.64" height="1.2" fill="#00008f"/><rect x="133.18" y="-0.55" width="7.64" height="1.2" fill="#00008f"/><rect x="140.82" y="-0.55" width="7.64" height="1.2" fill="#00008f"/><rect x="148.46" y="-0.55" width="7.64" height="1.2" fill="#00008f"/><rect x="156.10" y="-0.55" width="7.64" height="1.2" fill="#00008f"/><rect x="163.74" y="-0.55" width="7.64" height="1.2" fill="#00008f"/><rect x="171.38" y="-0.55" width="7.64" height="1.2" fill="#00008f"/><rect x="179.02" y="-0.55" width="7.64" height="1.2" fill="#00008f"/><rect x="186.66" y="-0.55" width="7.64" height="1.2" fill="#00008f"/><rect x="194.30" y="-0.55" width="7.64" height="1.2" fill="#00008f"/><rect x="201.94" y="-0.55" width="7.64" height="1.2" fill="#00008f"/><rect x="209.58" y="-0.55" width="7.64" height="1.2" fill="#00008f"/><rect x="217.22" y="-0.55" width="7.64" height="1.2" fill="#00008f"/><rect x="224.86" y="-0.55" width="7.64" height="1.2" fill="#00008f"/><rect x="232.50" y="-0.55" width="7.64" height="1.2" fill="#00008f"/><rect x="240.14" y="-0.55" width="7.64" height="1.2" fill="#00008f"/><rect x="247.78" y="-0.55" width="7.64" height="1.2" fill="#00008f"/><rect x="255.42" y="-0.55" width="7.64" height="1.2" fill="#00008f"/><rect x="263.06" y="-0.55" width="7.64" height="1.2" fill="#00008f"/><rect x="270.70" y="-0.55" width="7.64" height="1.2" fill="#00008f"/><rect x="278.34" y="-0.55" width="7.64" height="1.2" fill="#00008f"/><rect x="285.98" y="-0.55" width="7.64" height="1.2" fill="#00008f"/><rect x="293.62" y="-0.55" width="7.64" height="1.2" fill="#0000df"/><rect x="301.26" y="-0.55" width="7.64" height="1.2" fill="#0000df"/><rect x="308.90" y="-0.55" width="7.64" height="1.2" fill="#0000df"/><rect x="316.54" y="-0.55" width="7.64" height="1.2" fill="#0000df"/><rect x="324.18" y="-0.55" width="7.64" height="1.2" fill="#0000df"/><rect x="331.82" y="-0.55" width="7.64" height="1.2" fill="#0000df"/><rect x="339.46" y="-0.55" width="7.64" height="1.2" fill="#0000df"/><rect x="347.10" y="-0.55" width="1.40" height="1.2" fill="#0000df"/></g>
<text x="-7" y="7.0" font-size="19.5" text-anchor="end" fill="#000" textLength="46" lengthAdjust="spacingAndGlyphs">37°N</text>
<text x="-7" y="151.3" font-size="19.5" text-anchor="end" fill="#000" textLength="46" lengthAdjust="spacingAndGlyphs">36°N</text>
<text x="-7" y="293.8" font-size="19.5" text-anchor="end" fill="#000" textLength="46" lengthAdjust="spacingAndGlyphs">35°N</text>
<text x="-7" y="434.5" font-size="19.5" text-anchor="end" fill="#000" textLength="46" lengthAdjust="spacingAndGlyphs">34°N</text>
<text x="-6" y="77.4" font-size="14.5" text-anchor="end" fill="#000" textLength="21.5" lengthAdjust="spacingAndGlyphs">30'</text>
<text x="-6" y="220.7" font-size="14.5" text-anchor="end" fill="#000" textLength="21.5" lengthAdjust="spacingAndGlyphs">30'</text>
<text x="-6" y="362.3" font-size="14.5" text-anchor="end" fill="#000" textLength="21.5" lengthAdjust="spacingAndGlyphs">30'</text>
<text x="0" y="448" font-size="19.5" text-anchor="middle" fill="#000" textLength="50.5" lengthAdjust="spacingAndGlyphs">77°W</text>
<text x="116" y="448" font-size="19.5" text-anchor="middle" fill="#000" textLength="50.5" lengthAdjust="spacingAndGlyphs">76°W</text>
<text x="232" y="448" font-size="19.5" text-anchor="middle" fill="#000" textLength="50.5" lengthAdjust="spacingAndGlyphs">75°W</text>
<text x="348" y="448" font-size="19.5" text-anchor="middle" fill="#000" textLength="50.5" lengthAdjust="spacingAndGlyphs">74°W</text>
<text x="58" y="443.5" font-size="14.5" text-anchor="middle" fill="#000" textLength="21.5" lengthAdjust="spacingAndGlyphs">30'</text>
<text x="174" y="443.5" font-size="14.5" text-anchor="middle" fill="#000" textLength="21.5" lengthAdjust="spacingAndGlyphs">30'</text>
<text x="290" y="443.5" font-size="14.5" text-anchor="middle" fill="#000" textLength="21.5" lengthAdjust="spacingAndGlyphs">30'</text>
<text x="108.4" y="-13.2" font-size="24" font-weight="bold" fill="#000" textLength="129" lengthAdjust="spacingAndGlyphs">Site Codes</text><text x="3.8" y="7.2" font-size="19.5" text-anchor="middle" fill="#3a3a3a">0</text><text x="52.8" y="7.2" font-size="19.5" text-anchor="middle" fill="#3a3a3a">5</text><text x="103.7" y="7.2" font-size="19.5" text-anchor="middle" fill="#3a3a3a">10</text><rect x="3.4" y="19.9" width="111.8" height="25.1" fill="url(#jet)" stroke="#262626" stroke-width="1"/><text x="285.7" y="37" font-size="19.5" fill="#000" textLength="57" lengthAdjust="spacingAndGlyphs">10 km</text><path d="M304.5 43.1H318.5" stroke="#000" stroke-width="3.6" stroke-linecap="round"/>
</g>
</svg></body></html>
